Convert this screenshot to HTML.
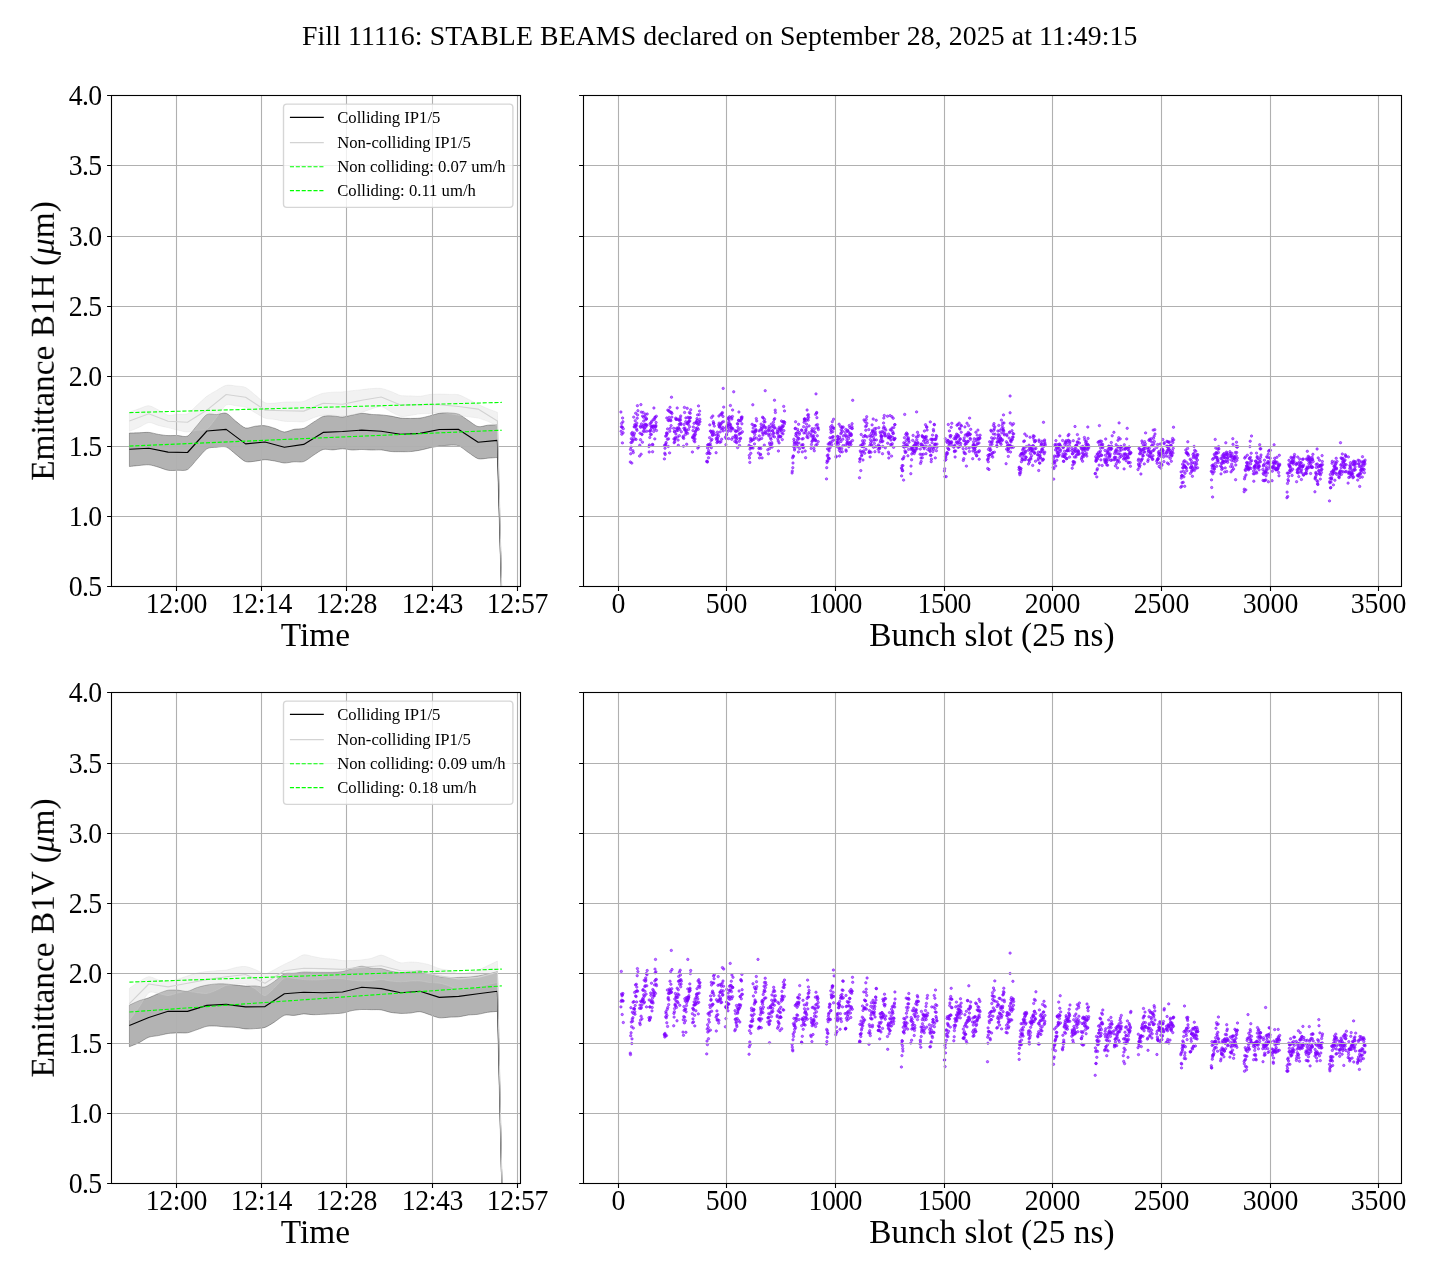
<!DOCTYPE html>
<html lang="en"><head><meta charset="utf-8"><title>Fill 11116 emittance</title>
<style>html,body{margin:0;padding:0;background:#fff}svg{display:block}text{font-family:"Liberation Serif", "DejaVu Serif", serif;fill:#000}</style>
</head><body>
<svg width="1440" height="1280" viewBox="0 0 1440 1280">
<rect width="1440" height="1280" fill="#fff"/>
<g opacity="0.999">
<defs>
<clipPath id="cA1"><rect x="111.5" y="95.5" width="409.0" height="491.0"/></clipPath>
<clipPath id="cA2"><rect x="583.5" y="95.5" width="818.0" height="491.0"/></clipPath>
<clipPath id="cA3"><rect x="111.5" y="692.5" width="409.0" height="491.0"/></clipPath>
<clipPath id="cA4"><rect x="583.5" y="692.5" width="818.0" height="491.0"/></clipPath>
</defs>
<text x="719.7" y="44.5" font-size="27.78" text-anchor="middle" textLength="835.4" lengthAdjust="spacing">Fill 11116: STABLE BEAMS declared on September 28, 2025 at 11:49:15</text>
<g clip-path="url(#cA1)">
<path d="M129.4 433.0C130.7 433.0 136.5 432.9 139.1 432.8C141.7 432.7 146.2 432.2 148.8 432.4C151.4 432.6 155.9 433.9 158.5 434.4C161.0 434.8 165.6 435.5 168.1 435.6C170.7 435.7 175.2 435.4 177.8 435.5C180.4 435.5 184.9 437.5 187.5 436.1C190.1 434.7 194.6 428.2 197.2 425.3C199.8 422.4 204.3 415.9 206.9 414.5C209.5 413.1 214.0 414.7 216.6 414.6C219.1 414.4 223.7 412.3 226.2 413.2C228.8 414.1 233.4 419.3 235.9 421.3C238.5 423.3 243.0 427.4 245.6 428.0C248.2 428.6 252.7 426.5 255.3 426.2C257.9 425.9 262.4 425.4 265.0 425.7C267.6 426.0 272.1 427.5 274.7 428.3C277.3 429.2 281.8 431.9 284.4 432.0C286.9 432.1 291.5 429.8 294.0 429.3C296.6 428.8 301.1 429.2 303.7 428.3C306.3 427.4 310.8 423.8 313.4 422.2C316.0 420.7 320.5 417.3 323.1 416.4C325.7 415.5 330.2 415.8 332.8 415.9C335.4 415.9 339.9 417.1 342.5 417.0C345.1 416.9 349.6 415.6 352.2 415.1C354.7 414.6 359.3 413.4 361.8 413.3C364.4 413.2 368.9 414.2 371.5 414.4C374.1 414.6 378.6 414.7 381.2 414.9C383.8 415.1 388.3 415.7 390.9 416.1C393.5 416.5 398.0 417.8 400.6 418.1C403.2 418.4 407.7 418.4 410.3 418.4C412.8 418.4 417.4 418.4 420.0 418.1C422.5 417.8 427.1 416.5 429.6 415.9C432.2 415.2 436.7 413.7 439.3 413.3C441.9 412.9 446.4 412.8 449.0 412.9C451.6 413.0 456.1 413.2 458.7 414.2C461.3 415.2 465.8 418.9 468.4 420.5C471.0 422.2 475.5 426.0 478.1 426.6C480.6 427.2 485.2 425.5 487.7 425.2C490.3 425.0 496.1 424.8 497.4 424.7L503.4 656.6L497.4 457.5C496.1 457.6 490.3 458.0 487.7 458.2C485.2 458.4 480.6 459.5 478.1 458.7C475.5 457.9 471.0 454.2 468.4 452.5C465.8 450.8 461.3 446.8 458.7 445.8C456.1 444.8 451.6 445.2 449.0 445.2C446.4 445.3 441.9 445.7 439.3 446.1C436.7 446.5 432.2 447.4 429.6 447.9C427.1 448.5 422.5 449.7 420.0 450.2C417.4 450.7 412.8 451.4 410.3 451.6C407.7 451.8 403.2 451.7 400.6 451.7C398.0 451.7 393.5 451.8 390.9 451.5C388.3 451.3 383.8 450.1 381.2 449.9C378.6 449.7 374.1 450.1 371.5 450.0C368.9 450.0 364.4 449.5 361.8 449.5C359.3 449.5 354.7 450.1 352.2 450.0C349.6 449.9 345.1 448.8 342.5 448.8C339.9 448.8 335.4 449.8 332.8 449.9C330.2 450.0 325.7 448.8 323.1 449.5C320.5 450.2 316.0 453.7 313.4 455.3C310.8 457.0 306.3 460.7 303.7 461.6C301.1 462.5 296.6 461.6 294.0 461.8C291.5 462.0 286.9 463.1 284.4 463.0C281.8 462.9 277.3 461.4 274.7 461.0C272.1 460.6 267.6 459.7 265.0 459.7C262.4 459.7 257.9 460.9 255.3 461.2C252.7 461.4 248.2 462.5 245.6 461.6C243.0 460.7 238.5 456.3 235.9 454.4C233.4 452.4 228.8 447.9 226.2 447.0C223.7 446.1 219.1 447.0 216.6 447.3C214.0 447.5 209.5 447.2 206.9 448.8C204.3 450.4 199.8 456.3 197.2 459.1C194.6 461.9 190.1 468.1 187.5 469.6C184.9 471.1 180.4 470.2 177.8 470.3C175.2 470.4 170.7 470.7 168.1 470.3C165.6 469.9 161.0 467.9 158.5 467.2C155.9 466.4 151.4 465.0 148.8 464.8C146.2 464.6 141.7 465.3 139.1 465.5C136.5 465.7 130.7 466.4 129.4 466.5Z" fill="#000" fill-opacity="0.3" stroke="#000" stroke-opacity="0.3" stroke-width="1.0" stroke-linejoin="round"/>
<path d="M129.4 412.3C130.7 411.8 136.5 409.6 139.1 408.8C141.7 407.9 146.2 405.5 148.8 405.7C151.4 405.9 155.9 408.7 158.5 410.0C161.0 411.2 165.6 414.6 168.1 415.2C170.7 415.8 175.2 414.5 177.8 414.3C180.4 414.1 184.9 415.0 187.5 413.8C190.1 412.6 194.6 407.3 197.2 405.0C199.8 402.7 204.3 398.2 206.9 396.3C209.5 394.4 214.0 391.9 216.6 390.4C219.1 388.9 223.7 385.9 226.2 385.3C228.8 384.7 233.4 385.7 235.9 386.0C238.5 386.3 243.0 386.3 245.6 387.5C248.2 388.7 252.7 393.0 255.3 395.1C257.9 397.1 262.4 401.7 265.0 402.8C267.6 403.9 272.1 403.2 274.7 403.1C277.3 403.0 281.8 402.3 284.4 402.1C286.9 401.9 291.5 402.0 294.0 401.9C296.6 401.8 301.1 402.1 303.7 401.4C306.3 400.7 310.8 398.0 313.4 397.0C316.0 395.9 320.5 393.9 323.1 393.3C325.7 392.7 330.2 392.4 332.8 392.2C335.4 392.0 339.9 392.1 342.5 391.9C345.1 391.7 349.6 391.0 352.2 390.7C354.7 390.4 359.3 390.0 361.8 389.7C364.4 389.4 368.9 388.7 371.5 388.6C374.1 388.4 378.6 388.1 381.2 388.5C383.8 388.9 388.3 390.5 390.9 391.5C393.5 392.4 398.0 394.9 400.6 395.5C403.2 396.1 407.7 395.8 410.3 395.9C412.8 396.0 417.4 396.5 420.0 396.3C422.5 396.1 427.1 394.8 429.6 394.5C432.2 394.2 436.7 394.1 439.3 394.1C441.9 394.1 446.4 394.3 449.0 394.4C451.6 394.5 456.1 394.1 458.7 394.8C461.3 395.5 465.8 398.0 468.4 399.3C471.0 400.6 475.5 403.1 478.1 404.3C480.6 405.5 485.2 407.6 487.7 408.7C490.3 409.7 496.1 411.8 497.4 412.3L503.4 656.6L497.4 426.1C496.1 425.5 490.3 422.4 487.7 421.3C485.2 420.3 480.6 418.7 478.1 418.1C475.5 417.5 471.0 417.2 468.4 416.8C465.8 416.4 461.3 415.6 458.7 415.2C456.1 414.8 451.6 414.1 449.0 413.7C446.4 413.3 441.9 412.3 439.3 412.3C436.7 412.3 432.2 413.3 429.6 413.5C427.1 413.7 422.5 413.5 420.0 413.8C417.4 414.1 412.8 415.0 410.3 415.4C407.7 415.7 403.2 416.9 400.6 416.4C398.0 415.9 393.5 413.1 390.9 411.8C388.3 410.5 383.8 406.9 381.2 406.5C378.6 406.1 374.1 408.1 371.5 408.9C368.9 409.7 364.4 411.5 361.8 412.3C359.3 413.1 354.7 414.5 352.2 414.9C349.6 415.4 345.1 415.9 342.5 415.9C339.9 415.9 335.4 415.2 332.8 415.1C330.2 415.0 325.7 414.9 323.1 415.2C320.5 415.5 316.0 416.8 313.4 417.7C310.8 418.6 306.3 421.3 303.7 421.8C301.1 422.3 296.6 421.5 294.0 421.5C291.5 421.4 286.9 421.6 284.4 421.3C281.8 421.0 277.3 419.8 274.7 419.4C272.1 419.0 267.6 419.0 265.0 418.1C262.4 417.2 257.9 414.2 255.3 412.8C252.7 411.3 248.2 408.1 245.6 407.2C243.0 406.3 238.5 406.1 235.9 405.8C233.4 405.5 228.8 403.5 226.2 405.0C223.7 406.5 219.1 414.1 216.6 417.4C214.0 420.6 209.5 427.4 206.9 429.1C204.3 430.8 199.8 429.9 197.2 430.3C194.6 430.7 190.1 432.0 187.5 432.0C184.9 432.0 180.4 430.7 177.8 430.1C175.2 429.6 170.7 428.2 168.1 427.6C165.6 427.0 161.0 426.1 158.5 425.4C155.9 424.7 151.4 422.2 148.8 422.5C146.2 422.8 141.7 426.2 139.1 427.3C136.5 428.5 130.7 430.8 129.4 431.3Z" fill="#d3d3d3" fill-opacity="0.3" stroke="#d3d3d3" stroke-opacity="0.3" stroke-width="1.0" stroke-linejoin="round"/>
</g>
<path d="M176.5 95.5V586.5M261.5 95.5V586.5M346.5 95.5V586.5M432.5 95.5V586.5M517.5 95.5V586.5M111.5 95.5H520.5M111.5 165.5H520.5M111.5 236.5H520.5M111.5 306.5H520.5M111.5 376.5H520.5M111.5 446.5H520.5M111.5 516.5H520.5M111.5 586.5H520.5" stroke="#b0b0b0" stroke-width="1.11" fill="none"/>
<g clip-path="url(#cA1)">
<polyline points="129.4,449.2 148.8,448.3 168.1,452.1 187.5,452.5 206.9,431.0 226.2,429.4 245.6,443.9 265.0,442.0 284.4,447.3 303.7,444.4 323.1,432.4 342.5,431.5 361.8,430.1 381.2,431.3 400.6,434.2 420.0,433.4 439.3,429.5 458.7,429.4 478.1,442.2 497.4,440.4 503.4,656.6" fill="none" stroke="#000" stroke-width="1.15" stroke-linejoin="round"/>
<polyline points="129.4,421.0 148.8,413.8 168.1,421.3 187.5,422.2 206.9,410.1 226.2,394.5 245.6,397.3 265.0,410.1 284.4,410.8 303.7,411.1 323.1,403.3 342.5,404.3 361.8,400.3 381.2,397.0 400.6,405.0 420.0,404.7 439.3,404.7 458.7,406.5 478.1,409.1 497.4,421.0 503.4,656.6" fill="none" stroke="#d3d3d3" stroke-width="1.15" stroke-linejoin="round"/>
<line x1="129.4" y1="412.6" x2="501.8" y2="402.4" stroke="#00ff00" stroke-width="1.11" stroke-dasharray="4.11 1.78"/>
<line x1="129.4" y1="446.1" x2="501.8" y2="430.2" stroke="#00ff00" stroke-width="1.11" stroke-dasharray="4.11 1.78"/>
</g>
<path d="M176.5 586.5v4.4M261.5 586.5v4.4M346.5 586.5v4.4M432.5 586.5v4.4M517.5 586.5v4.4M111.5 95.5h-4.4M111.5 165.5h-4.4M111.5 236.5h-4.4M111.5 306.5h-4.4M111.5 376.5h-4.4M111.5 446.5h-4.4M111.5 516.5h-4.4M111.5 586.5h-4.4" stroke="#000" stroke-width="1.11" fill="none"/>
<rect x="111.5" y="95.5" width="409.0" height="491.0" fill="none" stroke="#000" stroke-width="1.11"/>
<g font-size="27.78" text-anchor="middle">
<text transform="translate(176.5 612.9) scale(1 1.045)" textLength="61.7" lengthAdjust="spacing">12:00</text>
<text transform="translate(261.5 612.9) scale(1 1.045)" textLength="61.7" lengthAdjust="spacing">12:14</text>
<text transform="translate(346.5 612.9) scale(1 1.045)" textLength="61.7" lengthAdjust="spacing">12:28</text>
<text transform="translate(432.5 612.9) scale(1 1.045)" textLength="61.7" lengthAdjust="spacing">12:43</text>
<text transform="translate(517.5 612.9) scale(1 1.045)" textLength="61.7" lengthAdjust="spacing">12:57</text>
</g>
<g font-size="27.78" text-anchor="end">
<text transform="translate(102.2 105.0) scale(1 1.045)" textLength="33.4" lengthAdjust="spacing">4.0</text>
<text transform="translate(102.2 175.0) scale(1 1.045)" textLength="33.4" lengthAdjust="spacing">3.5</text>
<text transform="translate(102.2 246.0) scale(1 1.045)" textLength="33.4" lengthAdjust="spacing">3.0</text>
<text transform="translate(102.2 316.0) scale(1 1.045)" textLength="33.4" lengthAdjust="spacing">2.5</text>
<text transform="translate(102.2 386.0) scale(1 1.045)" textLength="33.4" lengthAdjust="spacing">2.0</text>
<text transform="translate(102.2 456.0) scale(1 1.045)" textLength="33.4" lengthAdjust="spacing">1.5</text>
<text transform="translate(102.2 526.0) scale(1 1.045)" textLength="33.4" lengthAdjust="spacing">1.0</text>
<text transform="translate(102.2 596.0) scale(1 1.045)" textLength="33.4" lengthAdjust="spacing">0.5</text>
</g>
<text x="315.4" y="645.7" font-size="33.33" text-anchor="middle">Time</text>
<text transform="translate(53.8 341.0) rotate(-90)" font-size="33.33" text-anchor="middle">Emittance B1H (<tspan font-style="italic">μ</tspan>m)</text>
<rect x="283.5" y="104.1" width="229.4" height="103.3" rx="3.3" fill="#fff" fill-opacity="0.8" stroke="#ccc" stroke-opacity="0.8" stroke-width="1.39"/>
<line x1="289.9" x2="323.8" y1="117.4" y2="117.4" stroke="#000" stroke-width="1.39"/>
<line x1="289.9" x2="323.8" y1="142.5" y2="142.5" stroke="#d3d3d3" stroke-width="1.25"/>
<line x1="289.9" x2="323.8" y1="166.7" y2="166.7" stroke="#00ff00" stroke-width="1.11" stroke-dasharray="4.11 1.78"/>
<line x1="289.9" x2="323.8" y1="190.6" y2="190.6" stroke="#00ff00" stroke-width="1.11" stroke-dasharray="4.11 1.78"/>
<g font-size="16.67">
<text x="337.2" y="122.6">Colliding IP1/5</text>
<text x="337.2" y="147.5">Non-colliding IP1/5</text>
<text x="337.2" y="172.0">Non colliding: 0.07 um/h</text>
<text x="337.2" y="196.2">Colliding: 0.11 um/h</text>
</g>
<g clip-path="url(#cA2)" fill="#7f00ff" fill-opacity="0.55" stroke="#7f00ff" stroke-opacity="0.55" stroke-width="1.0">
<circle cx="620.9" cy="412.0" r="1.2"/><circle cx="621.1" cy="431.3" r="1.2"/><circle cx="621.3" cy="426.8" r="1.2"/><circle cx="621.6" cy="423.5" r="1.2"/><circle cx="621.8" cy="434.2" r="1.2"/><circle cx="622.0" cy="427.1" r="1.2"/><circle cx="622.2" cy="427.1" r="1.2"/><circle cx="622.4" cy="442.9" r="1.2"/><circle cx="622.6" cy="418.0" r="1.2"/><circle cx="622.9" cy="421.8" r="1.2"/><circle cx="623.1" cy="432.8" r="1.2"/><circle cx="623.3" cy="428.7" r="1.2"/><circle cx="630.3" cy="462.0" r="1.2"/><circle cx="630.5" cy="449.4" r="1.2"/><circle cx="630.7" cy="453.8" r="1.2"/><circle cx="630.9" cy="442.6" r="1.2"/><circle cx="631.1" cy="447.1" r="1.2"/><circle cx="631.3" cy="438.8" r="1.2"/><circle cx="631.6" cy="433.5" r="1.2"/><circle cx="631.8" cy="463.1" r="1.2"/><circle cx="632.0" cy="442.2" r="1.2"/><circle cx="632.2" cy="434.9" r="1.2"/><circle cx="632.4" cy="432.5" r="1.2"/><circle cx="632.6" cy="439.8" r="1.2"/><circle cx="632.9" cy="450.8" r="1.2"/><circle cx="633.1" cy="440.4" r="1.2"/><circle cx="633.3" cy="452.6" r="1.2"/><circle cx="633.5" cy="436.6" r="1.2"/><circle cx="633.7" cy="417.1" r="1.2"/><circle cx="633.9" cy="434.9" r="1.2"/><circle cx="634.2" cy="426.9" r="1.2"/><circle cx="634.4" cy="433.2" r="1.2"/><circle cx="634.6" cy="426.7" r="1.2"/><circle cx="634.8" cy="424.6" r="1.2"/><circle cx="635.0" cy="438.9" r="1.2"/><circle cx="635.2" cy="420.8" r="1.2"/><circle cx="635.5" cy="425.4" r="1.2"/><circle cx="635.7" cy="413.2" r="1.2"/><circle cx="635.9" cy="426.4" r="1.2"/><circle cx="636.1" cy="439.4" r="1.2"/><circle cx="636.3" cy="425.2" r="1.2"/><circle cx="636.6" cy="429.0" r="1.2"/><circle cx="636.8" cy="423.1" r="1.2"/><circle cx="637.0" cy="430.3" r="1.2"/><circle cx="637.2" cy="418.2" r="1.2"/><circle cx="637.4" cy="405.7" r="1.2"/><circle cx="637.6" cy="414.9" r="1.2"/><circle cx="637.9" cy="410.7" r="1.2"/><circle cx="639.6" cy="456.1" r="1.2"/><circle cx="639.8" cy="445.2" r="1.2"/><circle cx="640.0" cy="433.2" r="1.2"/><circle cx="640.2" cy="426.2" r="1.2"/><circle cx="640.5" cy="439.7" r="1.2"/><circle cx="640.7" cy="427.3" r="1.2"/><circle cx="640.9" cy="404.6" r="1.2"/><circle cx="641.1" cy="454.2" r="1.2"/><circle cx="641.3" cy="412.1" r="1.2"/><circle cx="641.5" cy="423.9" r="1.2"/><circle cx="641.8" cy="434.1" r="1.2"/><circle cx="642.0" cy="434.6" r="1.2"/><circle cx="642.2" cy="426.4" r="1.2"/><circle cx="642.4" cy="442.2" r="1.2"/><circle cx="642.6" cy="416.1" r="1.2"/><circle cx="642.9" cy="426.8" r="1.2"/><circle cx="643.1" cy="412.4" r="1.2"/><circle cx="643.3" cy="431.2" r="1.2"/><circle cx="643.5" cy="417.2" r="1.2"/><circle cx="643.7" cy="421.1" r="1.2"/><circle cx="643.9" cy="425.4" r="1.2"/><circle cx="644.2" cy="428.9" r="1.2"/><circle cx="644.4" cy="428.1" r="1.2"/><circle cx="644.6" cy="431.6" r="1.2"/><circle cx="644.8" cy="424.3" r="1.2"/><circle cx="645.0" cy="416.2" r="1.2"/><circle cx="645.2" cy="414.1" r="1.2"/><circle cx="645.5" cy="419.6" r="1.2"/><circle cx="645.7" cy="427.1" r="1.2"/><circle cx="645.9" cy="424.4" r="1.2"/><circle cx="646.1" cy="425.3" r="1.2"/><circle cx="646.3" cy="418.4" r="1.2"/><circle cx="646.5" cy="419.0" r="1.2"/><circle cx="646.8" cy="431.2" r="1.2"/><circle cx="647.0" cy="425.2" r="1.2"/><circle cx="647.2" cy="414.0" r="1.2"/><circle cx="648.9" cy="446.6" r="1.2"/><circle cx="649.2" cy="452.0" r="1.2"/><circle cx="649.4" cy="445.0" r="1.2"/><circle cx="649.6" cy="431.1" r="1.2"/><circle cx="649.8" cy="437.5" r="1.2"/><circle cx="650.0" cy="423.8" r="1.2"/><circle cx="650.2" cy="431.2" r="1.2"/><circle cx="650.5" cy="434.4" r="1.2"/><circle cx="650.7" cy="430.0" r="1.2"/><circle cx="650.9" cy="426.1" r="1.2"/><circle cx="651.1" cy="422.7" r="1.2"/><circle cx="651.3" cy="434.4" r="1.2"/><circle cx="651.5" cy="428.2" r="1.2"/><circle cx="651.8" cy="421.3" r="1.2"/><circle cx="652.0" cy="426.3" r="1.2"/><circle cx="652.2" cy="426.9" r="1.2"/><circle cx="652.4" cy="444.4" r="1.2"/><circle cx="652.6" cy="451.8" r="1.2"/><circle cx="652.8" cy="444.8" r="1.2"/><circle cx="653.1" cy="426.0" r="1.2"/><circle cx="653.3" cy="419.6" r="1.2"/><circle cx="653.5" cy="427.0" r="1.2"/><circle cx="653.7" cy="431.4" r="1.2"/><circle cx="653.9" cy="408.0" r="1.2"/><circle cx="654.2" cy="426.0" r="1.2"/><circle cx="654.4" cy="419.5" r="1.2"/><circle cx="654.6" cy="428.9" r="1.2"/><circle cx="654.8" cy="438.9" r="1.2"/><circle cx="655.0" cy="417.2" r="1.2"/><circle cx="655.2" cy="417.6" r="1.2"/><circle cx="655.5" cy="426.5" r="1.2"/><circle cx="655.7" cy="426.8" r="1.2"/><circle cx="655.9" cy="425.4" r="1.2"/><circle cx="656.1" cy="422.5" r="1.2"/><circle cx="656.3" cy="416.2" r="1.2"/><circle cx="656.5" cy="430.5" r="1.2"/><circle cx="664.4" cy="458.9" r="1.2"/><circle cx="664.6" cy="445.3" r="1.2"/><circle cx="664.8" cy="453.2" r="1.2"/><circle cx="665.0" cy="448.2" r="1.2"/><circle cx="665.2" cy="454.5" r="1.2"/><circle cx="665.4" cy="445.2" r="1.2"/><circle cx="665.7" cy="436.3" r="1.2"/><circle cx="665.9" cy="443.9" r="1.2"/><circle cx="666.1" cy="442.5" r="1.2"/><circle cx="666.3" cy="435.6" r="1.2"/><circle cx="666.5" cy="433.0" r="1.2"/><circle cx="666.8" cy="418.0" r="1.2"/><circle cx="667.0" cy="434.1" r="1.2"/><circle cx="667.2" cy="433.1" r="1.2"/><circle cx="667.4" cy="439.3" r="1.2"/><circle cx="667.6" cy="428.9" r="1.2"/><circle cx="667.8" cy="410.1" r="1.2"/><circle cx="668.1" cy="420.2" r="1.2"/><circle cx="668.3" cy="446.5" r="1.2"/><circle cx="668.5" cy="438.8" r="1.2"/><circle cx="668.7" cy="410.6" r="1.2"/><circle cx="668.9" cy="420.6" r="1.2"/><circle cx="669.1" cy="417.4" r="1.2"/><circle cx="669.4" cy="411.4" r="1.2"/><circle cx="669.6" cy="452.9" r="1.2"/><circle cx="669.8" cy="431.2" r="1.2"/><circle cx="670.0" cy="407.3" r="1.2"/><circle cx="670.2" cy="428.3" r="1.2"/><circle cx="670.4" cy="419.7" r="1.2"/><circle cx="670.7" cy="412.5" r="1.2"/><circle cx="670.9" cy="420.7" r="1.2"/><circle cx="671.1" cy="425.6" r="1.2"/><circle cx="671.3" cy="412.3" r="1.2"/><circle cx="671.5" cy="397.2" r="1.2"/><circle cx="671.8" cy="417.1" r="1.2"/><circle cx="672.0" cy="413.4" r="1.2"/><circle cx="673.7" cy="428.3" r="1.2"/><circle cx="673.9" cy="439.0" r="1.2"/><circle cx="674.1" cy="442.7" r="1.2"/><circle cx="674.4" cy="431.5" r="1.2"/><circle cx="674.6" cy="431.8" r="1.2"/><circle cx="674.8" cy="441.8" r="1.2"/><circle cx="675.0" cy="439.6" r="1.2"/><circle cx="675.2" cy="437.7" r="1.2"/><circle cx="675.4" cy="438.5" r="1.2"/><circle cx="675.7" cy="418.1" r="1.2"/><circle cx="675.9" cy="434.0" r="1.2"/><circle cx="676.1" cy="419.3" r="1.2"/><circle cx="676.3" cy="419.3" r="1.2"/><circle cx="676.5" cy="430.9" r="1.2"/><circle cx="676.7" cy="428.2" r="1.2"/><circle cx="677.0" cy="429.1" r="1.2"/><circle cx="677.2" cy="408.0" r="1.2"/><circle cx="677.4" cy="437.0" r="1.2"/><circle cx="677.6" cy="419.3" r="1.2"/><circle cx="677.8" cy="430.4" r="1.2"/><circle cx="678.1" cy="440.1" r="1.2"/><circle cx="678.3" cy="445.3" r="1.2"/><circle cx="678.5" cy="427.5" r="1.2"/><circle cx="678.7" cy="428.4" r="1.2"/><circle cx="678.9" cy="420.0" r="1.2"/><circle cx="679.1" cy="424.4" r="1.2"/><circle cx="679.4" cy="435.7" r="1.2"/><circle cx="679.6" cy="420.4" r="1.2"/><circle cx="679.8" cy="429.4" r="1.2"/><circle cx="680.0" cy="423.8" r="1.2"/><circle cx="680.2" cy="417.9" r="1.2"/><circle cx="680.4" cy="419.9" r="1.2"/><circle cx="680.7" cy="416.0" r="1.2"/><circle cx="680.9" cy="423.4" r="1.2"/><circle cx="681.1" cy="424.5" r="1.2"/><circle cx="681.3" cy="431.8" r="1.2"/><circle cx="683.0" cy="437.4" r="1.2"/><circle cx="683.3" cy="436.2" r="1.2"/><circle cx="683.5" cy="446.2" r="1.2"/><circle cx="683.7" cy="438.4" r="1.2"/><circle cx="683.9" cy="428.2" r="1.2"/><circle cx="684.1" cy="424.4" r="1.2"/><circle cx="684.4" cy="407.4" r="1.2"/><circle cx="684.6" cy="412.5" r="1.2"/><circle cx="684.8" cy="430.0" r="1.2"/><circle cx="685.0" cy="428.1" r="1.2"/><circle cx="685.2" cy="430.0" r="1.2"/><circle cx="685.4" cy="434.6" r="1.2"/><circle cx="685.7" cy="421.7" r="1.2"/><circle cx="685.9" cy="417.9" r="1.2"/><circle cx="686.1" cy="432.0" r="1.2"/><circle cx="686.3" cy="432.7" r="1.2"/><circle cx="686.5" cy="430.2" r="1.2"/><circle cx="686.7" cy="444.2" r="1.2"/><circle cx="687.0" cy="423.3" r="1.2"/><circle cx="687.2" cy="408.3" r="1.2"/><circle cx="687.4" cy="423.6" r="1.2"/><circle cx="687.6" cy="433.4" r="1.2"/><circle cx="687.8" cy="422.7" r="1.2"/><circle cx="688.0" cy="417.3" r="1.2"/><circle cx="688.3" cy="424.3" r="1.2"/><circle cx="688.5" cy="429.4" r="1.2"/><circle cx="688.7" cy="421.3" r="1.2"/><circle cx="688.9" cy="421.8" r="1.2"/><circle cx="689.1" cy="418.4" r="1.2"/><circle cx="689.4" cy="412.5" r="1.2"/><circle cx="689.6" cy="426.7" r="1.2"/><circle cx="689.8" cy="421.0" r="1.2"/><circle cx="690.0" cy="417.7" r="1.2"/><circle cx="690.2" cy="413.3" r="1.2"/><circle cx="690.4" cy="417.7" r="1.2"/><circle cx="690.7" cy="409.8" r="1.2"/><circle cx="692.4" cy="452.0" r="1.2"/><circle cx="692.6" cy="437.1" r="1.2"/><circle cx="692.8" cy="437.9" r="1.2"/><circle cx="693.0" cy="430.6" r="1.2"/><circle cx="693.3" cy="427.0" r="1.2"/><circle cx="693.5" cy="435.7" r="1.2"/><circle cx="693.7" cy="437.7" r="1.2"/><circle cx="693.9" cy="440.6" r="1.2"/><circle cx="694.1" cy="423.3" r="1.2"/><circle cx="694.3" cy="434.4" r="1.2"/><circle cx="694.6" cy="436.0" r="1.2"/><circle cx="694.8" cy="441.8" r="1.2"/><circle cx="695.0" cy="439.0" r="1.2"/><circle cx="695.2" cy="431.9" r="1.2"/><circle cx="695.4" cy="434.3" r="1.2"/><circle cx="695.7" cy="431.2" r="1.2"/><circle cx="695.9" cy="428.5" r="1.2"/><circle cx="696.1" cy="422.5" r="1.2"/><circle cx="696.3" cy="421.7" r="1.2"/><circle cx="696.5" cy="423.2" r="1.2"/><circle cx="696.7" cy="429.6" r="1.2"/><circle cx="697.0" cy="418.6" r="1.2"/><circle cx="697.2" cy="420.3" r="1.2"/><circle cx="697.4" cy="427.8" r="1.2"/><circle cx="697.6" cy="414.9" r="1.2"/><circle cx="697.8" cy="448.1" r="1.2"/><circle cx="698.0" cy="424.3" r="1.2"/><circle cx="698.3" cy="429.3" r="1.2"/><circle cx="698.5" cy="405.9" r="1.2"/><circle cx="698.7" cy="446.8" r="1.2"/><circle cx="698.9" cy="421.7" r="1.2"/><circle cx="699.1" cy="424.3" r="1.2"/><circle cx="699.3" cy="414.6" r="1.2"/><circle cx="699.6" cy="411.1" r="1.2"/><circle cx="699.8" cy="419.2" r="1.2"/><circle cx="700.0" cy="421.8" r="1.2"/><circle cx="706.7" cy="461.4" r="1.2"/><circle cx="707.0" cy="453.6" r="1.2"/><circle cx="707.2" cy="461.3" r="1.2"/><circle cx="707.4" cy="462.1" r="1.2"/><circle cx="707.6" cy="448.0" r="1.2"/><circle cx="707.8" cy="444.9" r="1.2"/><circle cx="708.0" cy="445.0" r="1.2"/><circle cx="708.3" cy="452.4" r="1.2"/><circle cx="708.5" cy="457.8" r="1.2"/><circle cx="708.7" cy="450.6" r="1.2"/><circle cx="708.9" cy="453.2" r="1.2"/><circle cx="709.1" cy="444.4" r="1.2"/><circle cx="709.3" cy="446.0" r="1.2"/><circle cx="709.6" cy="437.7" r="1.2"/><circle cx="709.8" cy="424.9" r="1.2"/><circle cx="710.0" cy="453.5" r="1.2"/><circle cx="710.2" cy="443.7" r="1.2"/><circle cx="710.4" cy="431.1" r="1.2"/><circle cx="710.6" cy="445.8" r="1.2"/><circle cx="710.9" cy="431.2" r="1.2"/><circle cx="711.1" cy="440.6" r="1.2"/><circle cx="711.3" cy="447.7" r="1.2"/><circle cx="711.5" cy="417.6" r="1.2"/><circle cx="711.7" cy="433.0" r="1.2"/><circle cx="711.9" cy="439.4" r="1.2"/><circle cx="712.2" cy="432.3" r="1.2"/><circle cx="712.4" cy="435.3" r="1.2"/><circle cx="712.6" cy="434.9" r="1.2"/><circle cx="712.8" cy="416.0" r="1.2"/><circle cx="713.0" cy="431.1" r="1.2"/><circle cx="713.3" cy="421.7" r="1.2"/><circle cx="713.5" cy="423.4" r="1.2"/><circle cx="713.7" cy="423.5" r="1.2"/><circle cx="713.9" cy="434.7" r="1.2"/><circle cx="714.1" cy="432.8" r="1.2"/><circle cx="714.3" cy="426.1" r="1.2"/><circle cx="716.1" cy="452.7" r="1.2"/><circle cx="716.3" cy="438.4" r="1.2"/><circle cx="716.5" cy="435.0" r="1.2"/><circle cx="716.7" cy="439.8" r="1.2"/><circle cx="716.9" cy="442.6" r="1.2"/><circle cx="717.2" cy="437.7" r="1.2"/><circle cx="717.4" cy="432.1" r="1.2"/><circle cx="717.6" cy="438.7" r="1.2"/><circle cx="717.8" cy="441.9" r="1.2"/><circle cx="718.0" cy="434.4" r="1.2"/><circle cx="718.2" cy="441.1" r="1.2"/><circle cx="718.5" cy="436.2" r="1.2"/><circle cx="718.7" cy="425.0" r="1.2"/><circle cx="718.9" cy="416.0" r="1.2"/><circle cx="719.1" cy="423.1" r="1.2"/><circle cx="719.3" cy="427.0" r="1.2"/><circle cx="719.6" cy="426.8" r="1.2"/><circle cx="719.8" cy="442.3" r="1.2"/><circle cx="720.0" cy="425.8" r="1.2"/><circle cx="720.2" cy="431.9" r="1.2"/><circle cx="720.4" cy="424.3" r="1.2"/><circle cx="720.6" cy="414.5" r="1.2"/><circle cx="720.9" cy="441.8" r="1.2"/><circle cx="721.1" cy="423.7" r="1.2"/><circle cx="721.3" cy="428.8" r="1.2"/><circle cx="721.5" cy="414.6" r="1.2"/><circle cx="721.7" cy="439.2" r="1.2"/><circle cx="721.9" cy="413.3" r="1.2"/><circle cx="722.2" cy="422.2" r="1.2"/><circle cx="722.4" cy="412.6" r="1.2"/><circle cx="722.6" cy="429.1" r="1.2"/><circle cx="722.8" cy="427.3" r="1.2"/><circle cx="723.0" cy="416.4" r="1.2"/><circle cx="723.2" cy="430.9" r="1.2"/><circle cx="723.5" cy="421.6" r="1.2"/><circle cx="723.7" cy="407.1" r="1.2"/><circle cx="725.4" cy="437.2" r="1.2"/><circle cx="725.6" cy="428.0" r="1.2"/><circle cx="725.9" cy="444.7" r="1.2"/><circle cx="726.1" cy="430.2" r="1.2"/><circle cx="726.3" cy="438.7" r="1.2"/><circle cx="726.5" cy="435.1" r="1.2"/><circle cx="726.7" cy="434.0" r="1.2"/><circle cx="726.9" cy="426.5" r="1.2"/><circle cx="727.2" cy="425.3" r="1.2"/><circle cx="727.4" cy="427.4" r="1.2"/><circle cx="727.6" cy="425.4" r="1.2"/><circle cx="727.8" cy="423.8" r="1.2"/><circle cx="728.0" cy="418.8" r="1.2"/><circle cx="728.2" cy="431.2" r="1.2"/><circle cx="728.5" cy="417.8" r="1.2"/><circle cx="728.7" cy="438.6" r="1.2"/><circle cx="728.9" cy="421.9" r="1.2"/><circle cx="729.1" cy="419.9" r="1.2"/><circle cx="729.3" cy="428.9" r="1.2"/><circle cx="729.5" cy="416.8" r="1.2"/><circle cx="729.8" cy="424.4" r="1.2"/><circle cx="730.0" cy="426.5" r="1.2"/><circle cx="730.2" cy="424.1" r="1.2"/><circle cx="730.4" cy="405.5" r="1.2"/><circle cx="730.6" cy="425.6" r="1.2"/><circle cx="730.9" cy="431.0" r="1.2"/><circle cx="731.1" cy="417.5" r="1.2"/><circle cx="731.3" cy="427.6" r="1.2"/><circle cx="731.5" cy="428.4" r="1.2"/><circle cx="731.7" cy="439.3" r="1.2"/><circle cx="731.9" cy="419.0" r="1.2"/><circle cx="732.2" cy="428.1" r="1.2"/><circle cx="732.4" cy="416.5" r="1.2"/><circle cx="732.6" cy="410.0" r="1.2"/><circle cx="732.8" cy="437.4" r="1.2"/><circle cx="733.0" cy="429.0" r="1.2"/><circle cx="734.8" cy="441.4" r="1.2"/><circle cx="735.0" cy="436.4" r="1.2"/><circle cx="735.2" cy="430.7" r="1.2"/><circle cx="735.4" cy="435.3" r="1.2"/><circle cx="735.6" cy="438.0" r="1.2"/><circle cx="735.8" cy="431.5" r="1.2"/><circle cx="736.1" cy="441.9" r="1.2"/><circle cx="736.3" cy="439.6" r="1.2"/><circle cx="736.5" cy="436.2" r="1.2"/><circle cx="736.7" cy="442.8" r="1.2"/><circle cx="736.9" cy="431.1" r="1.2"/><circle cx="737.2" cy="438.2" r="1.2"/><circle cx="737.4" cy="423.6" r="1.2"/><circle cx="737.6" cy="447.6" r="1.2"/><circle cx="737.8" cy="424.0" r="1.2"/><circle cx="738.0" cy="427.4" r="1.2"/><circle cx="738.2" cy="430.2" r="1.2"/><circle cx="738.5" cy="420.3" r="1.2"/><circle cx="738.7" cy="420.5" r="1.2"/><circle cx="738.9" cy="412.0" r="1.2"/><circle cx="739.1" cy="434.3" r="1.2"/><circle cx="739.3" cy="441.2" r="1.2"/><circle cx="739.5" cy="445.4" r="1.2"/><circle cx="739.8" cy="433.3" r="1.2"/><circle cx="740.0" cy="421.1" r="1.2"/><circle cx="740.2" cy="438.9" r="1.2"/><circle cx="740.4" cy="428.6" r="1.2"/><circle cx="740.6" cy="438.1" r="1.2"/><circle cx="740.8" cy="420.4" r="1.2"/><circle cx="741.1" cy="433.1" r="1.2"/><circle cx="741.3" cy="417.3" r="1.2"/><circle cx="741.5" cy="418.4" r="1.2"/><circle cx="741.7" cy="418.8" r="1.2"/><circle cx="741.9" cy="423.8" r="1.2"/><circle cx="742.1" cy="417.0" r="1.2"/><circle cx="742.4" cy="431.8" r="1.2"/><circle cx="749.1" cy="445.3" r="1.2"/><circle cx="749.3" cy="455.4" r="1.2"/><circle cx="749.5" cy="458.0" r="1.2"/><circle cx="749.8" cy="462.4" r="1.2"/><circle cx="750.0" cy="449.1" r="1.2"/><circle cx="750.2" cy="446.7" r="1.2"/><circle cx="750.4" cy="441.5" r="1.2"/><circle cx="750.6" cy="438.5" r="1.2"/><circle cx="750.8" cy="453.3" r="1.2"/><circle cx="751.1" cy="439.5" r="1.2"/><circle cx="751.3" cy="447.6" r="1.2"/><circle cx="751.5" cy="447.4" r="1.2"/><circle cx="751.7" cy="446.7" r="1.2"/><circle cx="751.9" cy="440.5" r="1.2"/><circle cx="752.1" cy="424.3" r="1.2"/><circle cx="752.4" cy="431.6" r="1.2"/><circle cx="752.6" cy="439.7" r="1.2"/><circle cx="752.8" cy="404.8" r="1.2"/><circle cx="753.0" cy="448.1" r="1.2"/><circle cx="753.2" cy="428.1" r="1.2"/><circle cx="753.4" cy="432.0" r="1.2"/><circle cx="753.7" cy="425.4" r="1.2"/><circle cx="753.9" cy="432.1" r="1.2"/><circle cx="754.1" cy="439.2" r="1.2"/><circle cx="754.3" cy="437.4" r="1.2"/><circle cx="754.5" cy="443.9" r="1.2"/><circle cx="754.8" cy="434.4" r="1.2"/><circle cx="755.0" cy="425.5" r="1.2"/><circle cx="755.2" cy="426.1" r="1.2"/><circle cx="755.4" cy="431.5" r="1.2"/><circle cx="755.6" cy="430.3" r="1.2"/><circle cx="755.8" cy="431.2" r="1.2"/><circle cx="756.1" cy="429.8" r="1.2"/><circle cx="756.3" cy="418.6" r="1.2"/><circle cx="756.5" cy="438.1" r="1.2"/><circle cx="756.7" cy="420.9" r="1.2"/><circle cx="758.4" cy="453.0" r="1.2"/><circle cx="758.7" cy="440.0" r="1.2"/><circle cx="758.9" cy="448.5" r="1.2"/><circle cx="759.1" cy="430.9" r="1.2"/><circle cx="759.3" cy="435.9" r="1.2"/><circle cx="759.5" cy="457.9" r="1.2"/><circle cx="759.7" cy="447.5" r="1.2"/><circle cx="760.0" cy="439.1" r="1.2"/><circle cx="760.2" cy="454.9" r="1.2"/><circle cx="760.4" cy="429.8" r="1.2"/><circle cx="760.6" cy="454.3" r="1.2"/><circle cx="760.8" cy="448.6" r="1.2"/><circle cx="761.1" cy="424.1" r="1.2"/><circle cx="761.3" cy="426.7" r="1.2"/><circle cx="761.5" cy="428.5" r="1.2"/><circle cx="761.7" cy="438.4" r="1.2"/><circle cx="761.9" cy="429.9" r="1.2"/><circle cx="762.1" cy="457.9" r="1.2"/><circle cx="762.4" cy="432.7" r="1.2"/><circle cx="762.6" cy="417.2" r="1.2"/><circle cx="762.8" cy="427.6" r="1.2"/><circle cx="763.0" cy="435.0" r="1.2"/><circle cx="763.2" cy="417.9" r="1.2"/><circle cx="763.4" cy="425.0" r="1.2"/><circle cx="763.7" cy="433.0" r="1.2"/><circle cx="763.9" cy="421.6" r="1.2"/><circle cx="764.1" cy="426.1" r="1.2"/><circle cx="764.3" cy="445.1" r="1.2"/><circle cx="764.5" cy="419.4" r="1.2"/><circle cx="764.7" cy="427.3" r="1.2"/><circle cx="765.0" cy="421.9" r="1.2"/><circle cx="765.2" cy="390.7" r="1.2"/><circle cx="765.4" cy="432.7" r="1.2"/><circle cx="765.6" cy="430.9" r="1.2"/><circle cx="765.8" cy="433.5" r="1.2"/><circle cx="766.1" cy="427.8" r="1.2"/><circle cx="767.8" cy="449.8" r="1.2"/><circle cx="768.0" cy="430.8" r="1.2"/><circle cx="768.2" cy="434.0" r="1.2"/><circle cx="768.4" cy="453.8" r="1.2"/><circle cx="768.7" cy="429.7" r="1.2"/><circle cx="768.9" cy="435.8" r="1.2"/><circle cx="769.1" cy="426.3" r="1.2"/><circle cx="769.3" cy="428.3" r="1.2"/><circle cx="769.5" cy="443.0" r="1.2"/><circle cx="769.7" cy="448.6" r="1.2"/><circle cx="770.0" cy="444.6" r="1.2"/><circle cx="770.2" cy="431.0" r="1.2"/><circle cx="770.4" cy="434.4" r="1.2"/><circle cx="770.6" cy="437.9" r="1.2"/><circle cx="770.8" cy="446.2" r="1.2"/><circle cx="771.0" cy="439.3" r="1.2"/><circle cx="771.3" cy="424.1" r="1.2"/><circle cx="771.5" cy="427.1" r="1.2"/><circle cx="771.7" cy="442.6" r="1.2"/><circle cx="771.9" cy="444.0" r="1.2"/><circle cx="772.1" cy="447.1" r="1.2"/><circle cx="772.4" cy="431.0" r="1.2"/><circle cx="772.6" cy="430.5" r="1.2"/><circle cx="772.8" cy="426.3" r="1.2"/><circle cx="773.0" cy="436.1" r="1.2"/><circle cx="773.2" cy="433.7" r="1.2"/><circle cx="773.4" cy="422.2" r="1.2"/><circle cx="773.7" cy="425.1" r="1.2"/><circle cx="773.9" cy="433.0" r="1.2"/><circle cx="774.1" cy="419.5" r="1.2"/><circle cx="774.3" cy="428.0" r="1.2"/><circle cx="774.5" cy="436.9" r="1.2"/><circle cx="774.7" cy="418.6" r="1.2"/><circle cx="775.0" cy="427.8" r="1.2"/><circle cx="775.2" cy="410.1" r="1.2"/><circle cx="775.4" cy="412.5" r="1.2"/><circle cx="777.1" cy="433.2" r="1.2"/><circle cx="777.3" cy="431.4" r="1.2"/><circle cx="777.6" cy="429.4" r="1.2"/><circle cx="777.8" cy="438.7" r="1.2"/><circle cx="778.0" cy="432.8" r="1.2"/><circle cx="778.2" cy="441.0" r="1.2"/><circle cx="778.4" cy="451.0" r="1.2"/><circle cx="778.7" cy="436.5" r="1.2"/><circle cx="778.9" cy="435.7" r="1.2"/><circle cx="779.1" cy="442.9" r="1.2"/><circle cx="779.3" cy="427.2" r="1.2"/><circle cx="779.5" cy="430.9" r="1.2"/><circle cx="779.7" cy="429.0" r="1.2"/><circle cx="780.0" cy="436.8" r="1.2"/><circle cx="780.2" cy="428.7" r="1.2"/><circle cx="780.4" cy="436.5" r="1.2"/><circle cx="780.6" cy="429.4" r="1.2"/><circle cx="780.8" cy="436.6" r="1.2"/><circle cx="781.0" cy="427.8" r="1.2"/><circle cx="781.3" cy="430.6" r="1.2"/><circle cx="781.5" cy="421.0" r="1.2"/><circle cx="781.7" cy="429.0" r="1.2"/><circle cx="781.9" cy="432.9" r="1.2"/><circle cx="782.1" cy="425.8" r="1.2"/><circle cx="782.3" cy="439.6" r="1.2"/><circle cx="782.6" cy="426.9" r="1.2"/><circle cx="782.8" cy="421.9" r="1.2"/><circle cx="783.0" cy="433.9" r="1.2"/><circle cx="783.2" cy="426.3" r="1.2"/><circle cx="783.4" cy="421.9" r="1.2"/><circle cx="783.7" cy="406.4" r="1.2"/><circle cx="783.9" cy="430.6" r="1.2"/><circle cx="784.1" cy="421.8" r="1.2"/><circle cx="784.3" cy="424.1" r="1.2"/><circle cx="784.5" cy="410.9" r="1.2"/><circle cx="784.7" cy="422.4" r="1.2"/><circle cx="792.1" cy="473.0" r="1.2"/><circle cx="792.3" cy="471.1" r="1.2"/><circle cx="792.6" cy="457.8" r="1.2"/><circle cx="792.8" cy="467.7" r="1.2"/><circle cx="793.0" cy="463.0" r="1.2"/><circle cx="793.2" cy="455.9" r="1.2"/><circle cx="793.4" cy="456.4" r="1.2"/><circle cx="793.6" cy="446.7" r="1.2"/><circle cx="793.9" cy="439.2" r="1.2"/><circle cx="794.1" cy="441.5" r="1.2"/><circle cx="794.3" cy="444.1" r="1.2"/><circle cx="794.5" cy="450.0" r="1.2"/><circle cx="794.7" cy="448.5" r="1.2"/><circle cx="794.9" cy="443.0" r="1.2"/><circle cx="795.2" cy="428.7" r="1.2"/><circle cx="795.4" cy="428.3" r="1.2"/><circle cx="795.6" cy="421.8" r="1.2"/><circle cx="795.8" cy="435.4" r="1.2"/><circle cx="796.0" cy="433.5" r="1.2"/><circle cx="796.3" cy="445.7" r="1.2"/><circle cx="796.5" cy="442.3" r="1.2"/><circle cx="796.7" cy="433.3" r="1.2"/><circle cx="796.9" cy="436.6" r="1.2"/><circle cx="797.1" cy="443.5" r="1.2"/><circle cx="797.3" cy="440.0" r="1.2"/><circle cx="797.6" cy="429.4" r="1.2"/><circle cx="797.8" cy="446.7" r="1.2"/><circle cx="798.0" cy="431.4" r="1.2"/><circle cx="798.2" cy="438.0" r="1.2"/><circle cx="798.4" cy="452.0" r="1.2"/><circle cx="798.6" cy="424.3" r="1.2"/><circle cx="798.9" cy="443.1" r="1.2"/><circle cx="799.1" cy="438.7" r="1.2"/><circle cx="799.3" cy="434.3" r="1.2"/><circle cx="799.5" cy="432.7" r="1.2"/><circle cx="799.7" cy="448.7" r="1.2"/><circle cx="801.5" cy="430.0" r="1.2"/><circle cx="801.7" cy="445.0" r="1.2"/><circle cx="801.9" cy="430.4" r="1.2"/><circle cx="802.1" cy="439.0" r="1.2"/><circle cx="802.3" cy="451.9" r="1.2"/><circle cx="802.6" cy="445.8" r="1.2"/><circle cx="802.8" cy="447.4" r="1.2"/><circle cx="803.0" cy="444.6" r="1.2"/><circle cx="803.2" cy="438.6" r="1.2"/><circle cx="803.4" cy="447.6" r="1.2"/><circle cx="803.6" cy="426.7" r="1.2"/><circle cx="803.9" cy="433.0" r="1.2"/><circle cx="804.1" cy="422.3" r="1.2"/><circle cx="804.3" cy="419.0" r="1.2"/><circle cx="804.5" cy="420.4" r="1.2"/><circle cx="804.7" cy="419.2" r="1.2"/><circle cx="804.9" cy="418.9" r="1.2"/><circle cx="805.2" cy="451.0" r="1.2"/><circle cx="805.4" cy="432.7" r="1.2"/><circle cx="805.6" cy="457.7" r="1.2"/><circle cx="805.8" cy="429.6" r="1.2"/><circle cx="806.0" cy="430.7" r="1.2"/><circle cx="806.2" cy="420.5" r="1.2"/><circle cx="806.5" cy="424.1" r="1.2"/><circle cx="806.7" cy="427.3" r="1.2"/><circle cx="806.9" cy="437.0" r="1.2"/><circle cx="807.1" cy="410.0" r="1.2"/><circle cx="807.3" cy="434.9" r="1.2"/><circle cx="807.6" cy="418.5" r="1.2"/><circle cx="807.8" cy="415.2" r="1.2"/><circle cx="808.0" cy="437.7" r="1.2"/><circle cx="808.2" cy="420.1" r="1.2"/><circle cx="808.4" cy="414.6" r="1.2"/><circle cx="808.6" cy="417.3" r="1.2"/><circle cx="808.9" cy="432.8" r="1.2"/><circle cx="809.1" cy="425.9" r="1.2"/><circle cx="810.8" cy="435.8" r="1.2"/><circle cx="811.0" cy="434.0" r="1.2"/><circle cx="811.2" cy="448.4" r="1.2"/><circle cx="811.5" cy="444.5" r="1.2"/><circle cx="811.7" cy="430.9" r="1.2"/><circle cx="811.9" cy="441.6" r="1.2"/><circle cx="812.1" cy="428.7" r="1.2"/><circle cx="812.3" cy="431.2" r="1.2"/><circle cx="812.5" cy="440.7" r="1.2"/><circle cx="812.8" cy="437.6" r="1.2"/><circle cx="813.0" cy="436.3" r="1.2"/><circle cx="813.2" cy="439.0" r="1.2"/><circle cx="813.4" cy="439.5" r="1.2"/><circle cx="813.6" cy="435.7" r="1.2"/><circle cx="813.9" cy="448.4" r="1.2"/><circle cx="814.1" cy="431.5" r="1.2"/><circle cx="814.3" cy="450.8" r="1.2"/><circle cx="814.5" cy="428.6" r="1.2"/><circle cx="814.7" cy="438.5" r="1.2"/><circle cx="814.9" cy="440.3" r="1.2"/><circle cx="815.2" cy="432.6" r="1.2"/><circle cx="815.4" cy="440.0" r="1.2"/><circle cx="815.6" cy="414.4" r="1.2"/><circle cx="815.8" cy="445.2" r="1.2"/><circle cx="816.0" cy="440.8" r="1.2"/><circle cx="816.2" cy="425.2" r="1.2"/><circle cx="816.5" cy="413.1" r="1.2"/><circle cx="816.7" cy="412.5" r="1.2"/><circle cx="816.9" cy="417.7" r="1.2"/><circle cx="817.1" cy="444.2" r="1.2"/><circle cx="817.3" cy="435.8" r="1.2"/><circle cx="817.5" cy="424.6" r="1.2"/><circle cx="817.8" cy="428.1" r="1.2"/><circle cx="818.0" cy="427.7" r="1.2"/><circle cx="818.2" cy="441.6" r="1.2"/><circle cx="818.4" cy="429.6" r="1.2"/><circle cx="826.5" cy="478.9" r="1.2"/><circle cx="826.7" cy="467.7" r="1.2"/><circle cx="826.9" cy="462.6" r="1.2"/><circle cx="827.1" cy="460.9" r="1.2"/><circle cx="827.3" cy="455.8" r="1.2"/><circle cx="827.5" cy="448.9" r="1.2"/><circle cx="827.8" cy="461.1" r="1.2"/><circle cx="828.0" cy="454.9" r="1.2"/><circle cx="828.2" cy="444.1" r="1.2"/><circle cx="828.4" cy="457.8" r="1.2"/><circle cx="828.6" cy="458.5" r="1.2"/><circle cx="828.8" cy="449.3" r="1.2"/><circle cx="829.1" cy="450.9" r="1.2"/><circle cx="829.3" cy="458.6" r="1.2"/><circle cx="829.5" cy="442.9" r="1.2"/><circle cx="829.7" cy="444.2" r="1.2"/><circle cx="829.9" cy="437.7" r="1.2"/><circle cx="830.1" cy="447.7" r="1.2"/><circle cx="830.4" cy="442.4" r="1.2"/><circle cx="830.6" cy="426.9" r="1.2"/><circle cx="830.8" cy="429.2" r="1.2"/><circle cx="831.0" cy="432.6" r="1.2"/><circle cx="831.2" cy="430.8" r="1.2"/><circle cx="831.5" cy="437.9" r="1.2"/><circle cx="831.7" cy="444.7" r="1.2"/><circle cx="831.9" cy="425.6" r="1.2"/><circle cx="832.1" cy="441.4" r="1.2"/><circle cx="832.3" cy="421.7" r="1.2"/><circle cx="832.5" cy="436.9" r="1.2"/><circle cx="832.8" cy="431.7" r="1.2"/><circle cx="833.0" cy="427.9" r="1.2"/><circle cx="833.2" cy="436.6" r="1.2"/><circle cx="833.4" cy="427.7" r="1.2"/><circle cx="833.6" cy="419.2" r="1.2"/><circle cx="833.8" cy="440.0" r="1.2"/><circle cx="834.1" cy="428.6" r="1.2"/><circle cx="835.8" cy="443.8" r="1.2"/><circle cx="836.0" cy="457.1" r="1.2"/><circle cx="836.2" cy="456.2" r="1.2"/><circle cx="836.4" cy="446.4" r="1.2"/><circle cx="836.7" cy="442.7" r="1.2"/><circle cx="836.9" cy="440.3" r="1.2"/><circle cx="837.1" cy="442.8" r="1.2"/><circle cx="837.3" cy="442.4" r="1.2"/><circle cx="837.5" cy="436.5" r="1.2"/><circle cx="837.8" cy="436.5" r="1.2"/><circle cx="838.0" cy="439.3" r="1.2"/><circle cx="838.2" cy="438.9" r="1.2"/><circle cx="838.4" cy="442.2" r="1.2"/><circle cx="838.6" cy="444.3" r="1.2"/><circle cx="838.8" cy="448.0" r="1.2"/><circle cx="839.1" cy="424.2" r="1.2"/><circle cx="839.3" cy="450.4" r="1.2"/><circle cx="839.5" cy="456.0" r="1.2"/><circle cx="839.7" cy="437.2" r="1.2"/><circle cx="839.9" cy="448.4" r="1.2"/><circle cx="840.1" cy="439.3" r="1.2"/><circle cx="840.4" cy="426.4" r="1.2"/><circle cx="840.6" cy="451.9" r="1.2"/><circle cx="840.8" cy="433.7" r="1.2"/><circle cx="841.0" cy="441.5" r="1.2"/><circle cx="841.2" cy="429.7" r="1.2"/><circle cx="841.4" cy="432.6" r="1.2"/><circle cx="841.7" cy="448.6" r="1.2"/><circle cx="841.9" cy="427.0" r="1.2"/><circle cx="842.1" cy="427.9" r="1.2"/><circle cx="842.3" cy="451.8" r="1.2"/><circle cx="842.5" cy="431.2" r="1.2"/><circle cx="842.8" cy="439.2" r="1.2"/><circle cx="843.0" cy="445.6" r="1.2"/><circle cx="843.2" cy="427.0" r="1.2"/><circle cx="843.4" cy="435.8" r="1.2"/><circle cx="845.1" cy="435.2" r="1.2"/><circle cx="845.4" cy="432.4" r="1.2"/><circle cx="845.6" cy="445.0" r="1.2"/><circle cx="845.8" cy="429.4" r="1.2"/><circle cx="846.0" cy="450.0" r="1.2"/><circle cx="846.2" cy="451.2" r="1.2"/><circle cx="846.4" cy="437.3" r="1.2"/><circle cx="846.7" cy="435.8" r="1.2"/><circle cx="846.9" cy="440.2" r="1.2"/><circle cx="847.1" cy="442.5" r="1.2"/><circle cx="847.3" cy="443.5" r="1.2"/><circle cx="847.5" cy="431.1" r="1.2"/><circle cx="847.7" cy="430.3" r="1.2"/><circle cx="848.0" cy="443.9" r="1.2"/><circle cx="848.2" cy="442.3" r="1.2"/><circle cx="848.4" cy="431.8" r="1.2"/><circle cx="848.6" cy="438.6" r="1.2"/><circle cx="848.8" cy="446.7" r="1.2"/><circle cx="849.1" cy="436.3" r="1.2"/><circle cx="849.3" cy="425.5" r="1.2"/><circle cx="849.5" cy="444.2" r="1.2"/><circle cx="849.7" cy="433.9" r="1.2"/><circle cx="849.9" cy="427.5" r="1.2"/><circle cx="850.1" cy="442.8" r="1.2"/><circle cx="850.4" cy="433.2" r="1.2"/><circle cx="850.6" cy="435.2" r="1.2"/><circle cx="850.8" cy="441.9" r="1.2"/><circle cx="851.0" cy="444.5" r="1.2"/><circle cx="851.2" cy="435.5" r="1.2"/><circle cx="851.4" cy="434.3" r="1.2"/><circle cx="851.7" cy="428.4" r="1.2"/><circle cx="851.9" cy="426.6" r="1.2"/><circle cx="852.1" cy="423.7" r="1.2"/><circle cx="852.3" cy="428.5" r="1.2"/><circle cx="852.5" cy="440.5" r="1.2"/><circle cx="852.7" cy="400.3" r="1.2"/><circle cx="859.5" cy="477.8" r="1.2"/><circle cx="859.7" cy="461.6" r="1.2"/><circle cx="859.9" cy="459.0" r="1.2"/><circle cx="860.1" cy="458.7" r="1.2"/><circle cx="860.3" cy="450.9" r="1.2"/><circle cx="860.6" cy="445.5" r="1.2"/><circle cx="860.8" cy="470.6" r="1.2"/><circle cx="861.0" cy="452.4" r="1.2"/><circle cx="861.2" cy="434.5" r="1.2"/><circle cx="861.4" cy="455.9" r="1.2"/><circle cx="861.7" cy="445.8" r="1.2"/><circle cx="861.9" cy="455.0" r="1.2"/><circle cx="862.1" cy="446.5" r="1.2"/><circle cx="862.3" cy="444.4" r="1.2"/><circle cx="862.5" cy="440.8" r="1.2"/><circle cx="862.7" cy="452.0" r="1.2"/><circle cx="863.0" cy="460.0" r="1.2"/><circle cx="863.2" cy="443.0" r="1.2"/><circle cx="863.4" cy="436.7" r="1.2"/><circle cx="863.6" cy="450.9" r="1.2"/><circle cx="863.8" cy="446.9" r="1.2"/><circle cx="864.0" cy="419.9" r="1.2"/><circle cx="864.3" cy="443.6" r="1.2"/><circle cx="864.5" cy="440.6" r="1.2"/><circle cx="864.7" cy="453.2" r="1.2"/><circle cx="864.9" cy="435.6" r="1.2"/><circle cx="865.1" cy="421.6" r="1.2"/><circle cx="865.3" cy="436.0" r="1.2"/><circle cx="865.6" cy="426.6" r="1.2"/><circle cx="865.8" cy="430.2" r="1.2"/><circle cx="866.0" cy="449.3" r="1.2"/><circle cx="866.2" cy="419.4" r="1.2"/><circle cx="866.4" cy="425.7" r="1.2"/><circle cx="866.7" cy="416.7" r="1.2"/><circle cx="866.9" cy="423.2" r="1.2"/><circle cx="867.1" cy="436.9" r="1.2"/><circle cx="868.8" cy="429.6" r="1.2"/><circle cx="869.0" cy="452.5" r="1.2"/><circle cx="869.3" cy="451.0" r="1.2"/><circle cx="869.5" cy="452.1" r="1.2"/><circle cx="869.7" cy="435.7" r="1.2"/><circle cx="869.9" cy="445.3" r="1.2"/><circle cx="870.1" cy="456.9" r="1.2"/><circle cx="870.3" cy="439.6" r="1.2"/><circle cx="870.6" cy="442.7" r="1.2"/><circle cx="870.8" cy="436.5" r="1.2"/><circle cx="871.0" cy="452.2" r="1.2"/><circle cx="871.2" cy="444.7" r="1.2"/><circle cx="871.4" cy="433.3" r="1.2"/><circle cx="871.6" cy="445.4" r="1.2"/><circle cx="871.9" cy="441.2" r="1.2"/><circle cx="872.1" cy="424.9" r="1.2"/><circle cx="872.3" cy="435.4" r="1.2"/><circle cx="872.5" cy="430.4" r="1.2"/><circle cx="872.7" cy="431.2" r="1.2"/><circle cx="873.0" cy="431.5" r="1.2"/><circle cx="873.2" cy="419.0" r="1.2"/><circle cx="873.4" cy="437.3" r="1.2"/><circle cx="873.6" cy="447.2" r="1.2"/><circle cx="873.8" cy="434.0" r="1.2"/><circle cx="874.0" cy="439.7" r="1.2"/><circle cx="874.3" cy="443.4" r="1.2"/><circle cx="874.5" cy="428.6" r="1.2"/><circle cx="874.7" cy="440.0" r="1.2"/><circle cx="874.9" cy="451.7" r="1.2"/><circle cx="875.1" cy="431.4" r="1.2"/><circle cx="875.3" cy="433.1" r="1.2"/><circle cx="875.6" cy="434.8" r="1.2"/><circle cx="875.8" cy="446.6" r="1.2"/><circle cx="876.0" cy="428.4" r="1.2"/><circle cx="876.2" cy="420.3" r="1.2"/><circle cx="876.4" cy="439.9" r="1.2"/><circle cx="878.2" cy="449.3" r="1.2"/><circle cx="878.4" cy="445.0" r="1.2"/><circle cx="878.6" cy="446.3" r="1.2"/><circle cx="878.8" cy="427.7" r="1.2"/><circle cx="879.0" cy="451.9" r="1.2"/><circle cx="879.3" cy="447.9" r="1.2"/><circle cx="879.5" cy="446.7" r="1.2"/><circle cx="879.7" cy="448.6" r="1.2"/><circle cx="879.9" cy="446.8" r="1.2"/><circle cx="880.1" cy="432.1" r="1.2"/><circle cx="880.3" cy="442.1" r="1.2"/><circle cx="880.6" cy="440.4" r="1.2"/><circle cx="880.8" cy="433.5" r="1.2"/><circle cx="881.0" cy="435.9" r="1.2"/><circle cx="881.2" cy="436.1" r="1.2"/><circle cx="881.4" cy="437.2" r="1.2"/><circle cx="881.6" cy="438.8" r="1.2"/><circle cx="881.9" cy="436.0" r="1.2"/><circle cx="882.1" cy="441.7" r="1.2"/><circle cx="882.3" cy="431.4" r="1.2"/><circle cx="882.5" cy="453.7" r="1.2"/><circle cx="882.7" cy="446.4" r="1.2"/><circle cx="882.9" cy="441.1" r="1.2"/><circle cx="883.2" cy="432.1" r="1.2"/><circle cx="883.4" cy="428.2" r="1.2"/><circle cx="883.6" cy="423.0" r="1.2"/><circle cx="883.8" cy="418.1" r="1.2"/><circle cx="884.0" cy="426.7" r="1.2"/><circle cx="884.3" cy="415.5" r="1.2"/><circle cx="884.5" cy="434.0" r="1.2"/><circle cx="884.7" cy="435.9" r="1.2"/><circle cx="884.9" cy="433.2" r="1.2"/><circle cx="885.1" cy="428.5" r="1.2"/><circle cx="885.3" cy="447.8" r="1.2"/><circle cx="885.6" cy="435.6" r="1.2"/><circle cx="885.8" cy="430.1" r="1.2"/><circle cx="887.5" cy="416.2" r="1.2"/><circle cx="887.7" cy="443.2" r="1.2"/><circle cx="887.9" cy="436.4" r="1.2"/><circle cx="888.2" cy="437.8" r="1.2"/><circle cx="888.4" cy="452.2" r="1.2"/><circle cx="888.6" cy="434.1" r="1.2"/><circle cx="888.8" cy="458.0" r="1.2"/><circle cx="889.0" cy="453.9" r="1.2"/><circle cx="889.2" cy="437.7" r="1.2"/><circle cx="889.5" cy="437.8" r="1.2"/><circle cx="889.7" cy="438.0" r="1.2"/><circle cx="889.9" cy="436.1" r="1.2"/><circle cx="890.1" cy="415.6" r="1.2"/><circle cx="890.3" cy="429.8" r="1.2"/><circle cx="890.6" cy="444.6" r="1.2"/><circle cx="890.8" cy="436.5" r="1.2"/><circle cx="891.0" cy="440.0" r="1.2"/><circle cx="891.2" cy="430.0" r="1.2"/><circle cx="891.4" cy="444.7" r="1.2"/><circle cx="891.6" cy="456.1" r="1.2"/><circle cx="891.9" cy="416.7" r="1.2"/><circle cx="892.1" cy="428.0" r="1.2"/><circle cx="892.3" cy="443.7" r="1.2"/><circle cx="892.5" cy="437.2" r="1.2"/><circle cx="892.7" cy="431.7" r="1.2"/><circle cx="892.9" cy="433.4" r="1.2"/><circle cx="893.2" cy="418.2" r="1.2"/><circle cx="893.4" cy="433.4" r="1.2"/><circle cx="893.6" cy="447.3" r="1.2"/><circle cx="893.8" cy="427.6" r="1.2"/><circle cx="894.0" cy="439.6" r="1.2"/><circle cx="894.2" cy="439.6" r="1.2"/><circle cx="894.5" cy="438.7" r="1.2"/><circle cx="894.7" cy="424.7" r="1.2"/><circle cx="894.9" cy="424.6" r="1.2"/><circle cx="895.1" cy="438.4" r="1.2"/><circle cx="901.4" cy="468.0" r="1.2"/><circle cx="901.6" cy="475.9" r="1.2"/><circle cx="901.9" cy="468.8" r="1.2"/><circle cx="902.1" cy="465.7" r="1.2"/><circle cx="902.3" cy="470.5" r="1.2"/><circle cx="902.5" cy="459.1" r="1.2"/><circle cx="902.7" cy="470.7" r="1.2"/><circle cx="902.9" cy="465.6" r="1.2"/><circle cx="903.2" cy="446.3" r="1.2"/><circle cx="903.4" cy="458.5" r="1.2"/><circle cx="903.6" cy="480.1" r="1.2"/><circle cx="903.8" cy="442.8" r="1.2"/><circle cx="904.0" cy="456.7" r="1.2"/><circle cx="904.2" cy="447.2" r="1.2"/><circle cx="904.5" cy="437.7" r="1.2"/><circle cx="904.7" cy="414.4" r="1.2"/><circle cx="904.9" cy="450.9" r="1.2"/><circle cx="905.1" cy="443.5" r="1.2"/><circle cx="905.3" cy="452.6" r="1.2"/><circle cx="905.5" cy="445.9" r="1.2"/><circle cx="905.8" cy="434.3" r="1.2"/><circle cx="906.0" cy="452.0" r="1.2"/><circle cx="906.2" cy="440.6" r="1.2"/><circle cx="906.4" cy="446.2" r="1.2"/><circle cx="906.6" cy="433.0" r="1.2"/><circle cx="906.8" cy="435.5" r="1.2"/><circle cx="907.1" cy="444.6" r="1.2"/><circle cx="907.3" cy="434.0" r="1.2"/><circle cx="907.5" cy="446.0" r="1.2"/><circle cx="907.7" cy="438.7" r="1.2"/><circle cx="907.9" cy="455.8" r="1.2"/><circle cx="908.2" cy="439.1" r="1.2"/><circle cx="908.4" cy="437.8" r="1.2"/><circle cx="908.6" cy="449.4" r="1.2"/><circle cx="908.8" cy="440.5" r="1.2"/><circle cx="909.0" cy="442.2" r="1.2"/><circle cx="910.8" cy="473.7" r="1.2"/><circle cx="911.0" cy="466.1" r="1.2"/><circle cx="911.2" cy="447.9" r="1.2"/><circle cx="911.4" cy="449.6" r="1.2"/><circle cx="911.6" cy="459.8" r="1.2"/><circle cx="911.8" cy="454.0" r="1.2"/><circle cx="912.1" cy="448.8" r="1.2"/><circle cx="912.3" cy="447.2" r="1.2"/><circle cx="912.5" cy="449.3" r="1.2"/><circle cx="912.7" cy="440.4" r="1.2"/><circle cx="912.9" cy="452.4" r="1.2"/><circle cx="913.1" cy="435.4" r="1.2"/><circle cx="913.4" cy="450.9" r="1.2"/><circle cx="913.6" cy="446.6" r="1.2"/><circle cx="913.8" cy="450.5" r="1.2"/><circle cx="914.0" cy="445.4" r="1.2"/><circle cx="914.2" cy="453.6" r="1.2"/><circle cx="914.5" cy="451.4" r="1.2"/><circle cx="914.7" cy="445.4" r="1.2"/><circle cx="914.9" cy="451.7" r="1.2"/><circle cx="915.1" cy="442.1" r="1.2"/><circle cx="915.3" cy="450.3" r="1.2"/><circle cx="915.5" cy="443.5" r="1.2"/><circle cx="915.8" cy="448.6" r="1.2"/><circle cx="916.0" cy="443.8" r="1.2"/><circle cx="916.2" cy="437.0" r="1.2"/><circle cx="916.4" cy="446.7" r="1.2"/><circle cx="916.6" cy="411.9" r="1.2"/><circle cx="916.8" cy="439.8" r="1.2"/><circle cx="917.1" cy="448.8" r="1.2"/><circle cx="917.3" cy="445.2" r="1.2"/><circle cx="917.5" cy="432.3" r="1.2"/><circle cx="917.7" cy="443.1" r="1.2"/><circle cx="917.9" cy="442.7" r="1.2"/><circle cx="918.1" cy="436.6" r="1.2"/><circle cx="918.4" cy="434.9" r="1.2"/><circle cx="920.1" cy="454.2" r="1.2"/><circle cx="920.3" cy="449.1" r="1.2"/><circle cx="920.5" cy="463.4" r="1.2"/><circle cx="920.8" cy="444.3" r="1.2"/><circle cx="921.0" cy="458.0" r="1.2"/><circle cx="921.2" cy="461.5" r="1.2"/><circle cx="921.4" cy="446.1" r="1.2"/><circle cx="921.6" cy="444.0" r="1.2"/><circle cx="921.8" cy="454.5" r="1.2"/><circle cx="922.1" cy="435.7" r="1.2"/><circle cx="922.3" cy="457.8" r="1.2"/><circle cx="922.5" cy="436.3" r="1.2"/><circle cx="922.7" cy="437.0" r="1.2"/><circle cx="922.9" cy="446.3" r="1.2"/><circle cx="923.1" cy="445.8" r="1.2"/><circle cx="923.4" cy="454.2" r="1.2"/><circle cx="923.6" cy="441.0" r="1.2"/><circle cx="923.8" cy="437.5" r="1.2"/><circle cx="924.0" cy="447.2" r="1.2"/><circle cx="924.2" cy="448.7" r="1.2"/><circle cx="924.4" cy="431.0" r="1.2"/><circle cx="924.7" cy="439.8" r="1.2"/><circle cx="924.9" cy="437.7" r="1.2"/><circle cx="925.1" cy="443.0" r="1.2"/><circle cx="925.3" cy="436.8" r="1.2"/><circle cx="925.5" cy="424.7" r="1.2"/><circle cx="925.8" cy="438.3" r="1.2"/><circle cx="926.0" cy="453.7" r="1.2"/><circle cx="926.2" cy="446.2" r="1.2"/><circle cx="926.4" cy="436.6" r="1.2"/><circle cx="926.6" cy="426.8" r="1.2"/><circle cx="926.8" cy="427.2" r="1.2"/><circle cx="927.1" cy="430.0" r="1.2"/><circle cx="927.3" cy="440.5" r="1.2"/><circle cx="927.5" cy="442.6" r="1.2"/><circle cx="927.7" cy="449.6" r="1.2"/><circle cx="929.4" cy="447.9" r="1.2"/><circle cx="929.7" cy="450.5" r="1.2"/><circle cx="929.9" cy="445.7" r="1.2"/><circle cx="930.1" cy="451.4" r="1.2"/><circle cx="930.3" cy="421.9" r="1.2"/><circle cx="930.5" cy="455.4" r="1.2"/><circle cx="930.7" cy="439.4" r="1.2"/><circle cx="931.0" cy="455.2" r="1.2"/><circle cx="931.2" cy="461.7" r="1.2"/><circle cx="931.4" cy="459.2" r="1.2"/><circle cx="931.6" cy="449.0" r="1.2"/><circle cx="931.8" cy="439.1" r="1.2"/><circle cx="932.1" cy="442.7" r="1.2"/><circle cx="932.3" cy="439.6" r="1.2"/><circle cx="932.5" cy="435.1" r="1.2"/><circle cx="932.7" cy="447.3" r="1.2"/><circle cx="932.9" cy="451.6" r="1.2"/><circle cx="933.1" cy="439.4" r="1.2"/><circle cx="933.4" cy="429.5" r="1.2"/><circle cx="933.6" cy="431.0" r="1.2"/><circle cx="933.8" cy="449.2" r="1.2"/><circle cx="934.0" cy="446.9" r="1.2"/><circle cx="934.2" cy="424.4" r="1.2"/><circle cx="934.4" cy="424.8" r="1.2"/><circle cx="934.7" cy="444.5" r="1.2"/><circle cx="934.9" cy="439.5" r="1.2"/><circle cx="935.1" cy="444.1" r="1.2"/><circle cx="935.3" cy="457.9" r="1.2"/><circle cx="935.5" cy="444.4" r="1.2"/><circle cx="935.7" cy="439.4" r="1.2"/><circle cx="936.0" cy="438.3" r="1.2"/><circle cx="936.2" cy="435.5" r="1.2"/><circle cx="936.4" cy="450.7" r="1.2"/><circle cx="936.6" cy="436.5" r="1.2"/><circle cx="936.8" cy="447.3" r="1.2"/><circle cx="937.0" cy="444.1" r="1.2"/><circle cx="944.4" cy="471.0" r="1.2"/><circle cx="944.7" cy="468.7" r="1.2"/><circle cx="944.9" cy="476.7" r="1.2"/><circle cx="945.1" cy="460.4" r="1.2"/><circle cx="945.3" cy="438.7" r="1.2"/><circle cx="945.5" cy="456.4" r="1.2"/><circle cx="945.7" cy="457.2" r="1.2"/><circle cx="946.0" cy="459.4" r="1.2"/><circle cx="946.2" cy="476.6" r="1.2"/><circle cx="946.4" cy="453.6" r="1.2"/><circle cx="946.6" cy="441.4" r="1.2"/><circle cx="946.8" cy="454.5" r="1.2"/><circle cx="947.0" cy="452.5" r="1.2"/><circle cx="947.3" cy="442.6" r="1.2"/><circle cx="947.5" cy="453.4" r="1.2"/><circle cx="947.7" cy="448.1" r="1.2"/><circle cx="947.9" cy="440.3" r="1.2"/><circle cx="948.1" cy="440.7" r="1.2"/><circle cx="948.3" cy="424.5" r="1.2"/><circle cx="948.6" cy="449.1" r="1.2"/><circle cx="948.8" cy="449.5" r="1.2"/><circle cx="949.0" cy="445.6" r="1.2"/><circle cx="949.2" cy="443.7" r="1.2"/><circle cx="949.4" cy="430.9" r="1.2"/><circle cx="949.7" cy="442.1" r="1.2"/><circle cx="949.9" cy="442.3" r="1.2"/><circle cx="950.1" cy="435.7" r="1.2"/><circle cx="950.3" cy="437.1" r="1.2"/><circle cx="950.5" cy="443.1" r="1.2"/><circle cx="950.7" cy="442.9" r="1.2"/><circle cx="951.0" cy="435.6" r="1.2"/><circle cx="951.2" cy="427.3" r="1.2"/><circle cx="951.4" cy="441.6" r="1.2"/><circle cx="951.6" cy="442.6" r="1.2"/><circle cx="951.8" cy="423.3" r="1.2"/><circle cx="952.0" cy="445.7" r="1.2"/><circle cx="953.8" cy="447.2" r="1.2"/><circle cx="954.0" cy="438.6" r="1.2"/><circle cx="954.2" cy="446.1" r="1.2"/><circle cx="954.4" cy="451.6" r="1.2"/><circle cx="954.6" cy="451.0" r="1.2"/><circle cx="954.9" cy="445.1" r="1.2"/><circle cx="955.1" cy="457.0" r="1.2"/><circle cx="955.3" cy="436.4" r="1.2"/><circle cx="955.5" cy="439.0" r="1.2"/><circle cx="955.7" cy="451.0" r="1.2"/><circle cx="956.0" cy="437.2" r="1.2"/><circle cx="956.2" cy="438.4" r="1.2"/><circle cx="956.4" cy="442.2" r="1.2"/><circle cx="956.6" cy="434.1" r="1.2"/><circle cx="956.8" cy="436.6" r="1.2"/><circle cx="957.0" cy="425.2" r="1.2"/><circle cx="957.3" cy="442.3" r="1.2"/><circle cx="957.5" cy="434.8" r="1.2"/><circle cx="957.7" cy="443.5" r="1.2"/><circle cx="957.9" cy="424.5" r="1.2"/><circle cx="958.1" cy="447.3" r="1.2"/><circle cx="958.3" cy="436.5" r="1.2"/><circle cx="958.6" cy="435.7" r="1.2"/><circle cx="958.8" cy="441.0" r="1.2"/><circle cx="959.0" cy="446.9" r="1.2"/><circle cx="959.2" cy="423.1" r="1.2"/><circle cx="959.4" cy="442.7" r="1.2"/><circle cx="959.6" cy="428.2" r="1.2"/><circle cx="959.9" cy="429.1" r="1.2"/><circle cx="960.1" cy="439.2" r="1.2"/><circle cx="960.3" cy="438.7" r="1.2"/><circle cx="960.5" cy="446.1" r="1.2"/><circle cx="960.7" cy="443.5" r="1.2"/><circle cx="961.0" cy="425.2" r="1.2"/><circle cx="961.2" cy="432.2" r="1.2"/><circle cx="961.4" cy="426.0" r="1.2"/><circle cx="963.1" cy="448.7" r="1.2"/><circle cx="963.3" cy="460.4" r="1.2"/><circle cx="963.6" cy="440.5" r="1.2"/><circle cx="963.8" cy="458.6" r="1.2"/><circle cx="964.0" cy="451.9" r="1.2"/><circle cx="964.2" cy="437.9" r="1.2"/><circle cx="964.4" cy="453.3" r="1.2"/><circle cx="964.6" cy="440.8" r="1.2"/><circle cx="964.9" cy="426.9" r="1.2"/><circle cx="965.1" cy="444.4" r="1.2"/><circle cx="965.3" cy="435.0" r="1.2"/><circle cx="965.5" cy="453.7" r="1.2"/><circle cx="965.7" cy="443.8" r="1.2"/><circle cx="965.9" cy="441.8" r="1.2"/><circle cx="966.2" cy="448.6" r="1.2"/><circle cx="966.4" cy="466.1" r="1.2"/><circle cx="966.6" cy="443.4" r="1.2"/><circle cx="966.8" cy="434.3" r="1.2"/><circle cx="967.0" cy="423.2" r="1.2"/><circle cx="967.3" cy="436.1" r="1.2"/><circle cx="967.5" cy="434.2" r="1.2"/><circle cx="967.7" cy="435.0" r="1.2"/><circle cx="967.9" cy="441.3" r="1.2"/><circle cx="968.1" cy="441.5" r="1.2"/><circle cx="968.3" cy="432.4" r="1.2"/><circle cx="968.6" cy="425.6" r="1.2"/><circle cx="968.8" cy="434.7" r="1.2"/><circle cx="969.0" cy="433.4" r="1.2"/><circle cx="969.2" cy="448.0" r="1.2"/><circle cx="969.4" cy="451.4" r="1.2"/><circle cx="969.6" cy="418.1" r="1.2"/><circle cx="969.9" cy="434.5" r="1.2"/><circle cx="970.1" cy="438.2" r="1.2"/><circle cx="970.3" cy="434.2" r="1.2"/><circle cx="970.5" cy="439.4" r="1.2"/><circle cx="970.7" cy="429.3" r="1.2"/><circle cx="972.5" cy="446.6" r="1.2"/><circle cx="972.7" cy="458.7" r="1.2"/><circle cx="972.9" cy="451.0" r="1.2"/><circle cx="973.1" cy="448.0" r="1.2"/><circle cx="973.3" cy="444.7" r="1.2"/><circle cx="973.6" cy="441.8" r="1.2"/><circle cx="973.8" cy="444.7" r="1.2"/><circle cx="974.0" cy="445.0" r="1.2"/><circle cx="974.2" cy="438.8" r="1.2"/><circle cx="974.4" cy="446.1" r="1.2"/><circle cx="974.6" cy="449.0" r="1.2"/><circle cx="974.9" cy="449.6" r="1.2"/><circle cx="975.1" cy="451.8" r="1.2"/><circle cx="975.3" cy="447.2" r="1.2"/><circle cx="975.5" cy="453.5" r="1.2"/><circle cx="975.7" cy="446.2" r="1.2"/><circle cx="975.9" cy="432.2" r="1.2"/><circle cx="976.2" cy="441.0" r="1.2"/><circle cx="976.4" cy="439.0" r="1.2"/><circle cx="976.6" cy="455.8" r="1.2"/><circle cx="976.8" cy="455.6" r="1.2"/><circle cx="977.0" cy="444.1" r="1.2"/><circle cx="977.2" cy="435.1" r="1.2"/><circle cx="977.5" cy="452.0" r="1.2"/><circle cx="977.7" cy="443.7" r="1.2"/><circle cx="977.9" cy="430.1" r="1.2"/><circle cx="978.1" cy="438.4" r="1.2"/><circle cx="978.3" cy="439.8" r="1.2"/><circle cx="978.6" cy="438.7" r="1.2"/><circle cx="978.8" cy="451.9" r="1.2"/><circle cx="979.0" cy="443.0" r="1.2"/><circle cx="979.2" cy="459.2" r="1.2"/><circle cx="979.4" cy="450.8" r="1.2"/><circle cx="979.6" cy="437.6" r="1.2"/><circle cx="979.9" cy="438.4" r="1.2"/><circle cx="980.1" cy="435.2" r="1.2"/><circle cx="987.5" cy="459.8" r="1.2"/><circle cx="987.7" cy="468.5" r="1.2"/><circle cx="987.9" cy="455.5" r="1.2"/><circle cx="988.1" cy="459.0" r="1.2"/><circle cx="988.3" cy="461.7" r="1.2"/><circle cx="988.5" cy="449.4" r="1.2"/><circle cx="988.8" cy="457.3" r="1.2"/><circle cx="989.0" cy="469.5" r="1.2"/><circle cx="989.2" cy="454.9" r="1.2"/><circle cx="989.4" cy="454.7" r="1.2"/><circle cx="989.6" cy="441.8" r="1.2"/><circle cx="989.8" cy="447.8" r="1.2"/><circle cx="990.1" cy="450.5" r="1.2"/><circle cx="990.3" cy="444.8" r="1.2"/><circle cx="990.5" cy="454.3" r="1.2"/><circle cx="990.7" cy="449.7" r="1.2"/><circle cx="990.9" cy="430.3" r="1.2"/><circle cx="991.2" cy="442.0" r="1.2"/><circle cx="991.4" cy="431.2" r="1.2"/><circle cx="991.6" cy="437.8" r="1.2"/><circle cx="991.8" cy="455.4" r="1.2"/><circle cx="992.0" cy="444.2" r="1.2"/><circle cx="992.2" cy="441.8" r="1.2"/><circle cx="992.5" cy="453.0" r="1.2"/><circle cx="992.7" cy="457.1" r="1.2"/><circle cx="992.9" cy="452.7" r="1.2"/><circle cx="993.1" cy="439.2" r="1.2"/><circle cx="993.3" cy="433.9" r="1.2"/><circle cx="993.5" cy="425.5" r="1.2"/><circle cx="993.8" cy="430.3" r="1.2"/><circle cx="994.0" cy="423.6" r="1.2"/><circle cx="994.2" cy="428.9" r="1.2"/><circle cx="994.4" cy="452.1" r="1.2"/><circle cx="994.6" cy="437.9" r="1.2"/><circle cx="994.8" cy="426.9" r="1.2"/><circle cx="995.1" cy="434.2" r="1.2"/><circle cx="996.8" cy="445.4" r="1.2"/><circle cx="997.0" cy="446.5" r="1.2"/><circle cx="997.2" cy="442.3" r="1.2"/><circle cx="997.5" cy="441.7" r="1.2"/><circle cx="997.7" cy="438.8" r="1.2"/><circle cx="997.9" cy="431.0" r="1.2"/><circle cx="998.1" cy="435.4" r="1.2"/><circle cx="998.3" cy="437.5" r="1.2"/><circle cx="998.5" cy="434.4" r="1.2"/><circle cx="998.8" cy="425.4" r="1.2"/><circle cx="999.0" cy="441.7" r="1.2"/><circle cx="999.2" cy="440.5" r="1.2"/><circle cx="999.4" cy="441.4" r="1.2"/><circle cx="999.6" cy="435.8" r="1.2"/><circle cx="999.8" cy="430.5" r="1.2"/><circle cx="1000.1" cy="440.3" r="1.2"/><circle cx="1000.3" cy="442.9" r="1.2"/><circle cx="1000.5" cy="438.1" r="1.2"/><circle cx="1000.7" cy="438.2" r="1.2"/><circle cx="1000.9" cy="439.3" r="1.2"/><circle cx="1001.1" cy="444.3" r="1.2"/><circle cx="1001.4" cy="420.1" r="1.2"/><circle cx="1001.6" cy="428.7" r="1.2"/><circle cx="1001.8" cy="432.9" r="1.2"/><circle cx="1002.0" cy="440.8" r="1.2"/><circle cx="1002.2" cy="425.5" r="1.2"/><circle cx="1002.5" cy="439.8" r="1.2"/><circle cx="1002.7" cy="423.0" r="1.2"/><circle cx="1002.9" cy="430.1" r="1.2"/><circle cx="1003.1" cy="427.9" r="1.2"/><circle cx="1003.3" cy="430.0" r="1.2"/><circle cx="1003.5" cy="414.9" r="1.2"/><circle cx="1003.8" cy="431.0" r="1.2"/><circle cx="1004.0" cy="423.0" r="1.2"/><circle cx="1004.2" cy="433.8" r="1.2"/><circle cx="1004.4" cy="434.9" r="1.2"/><circle cx="1006.1" cy="463.7" r="1.2"/><circle cx="1006.4" cy="441.8" r="1.2"/><circle cx="1006.6" cy="449.2" r="1.2"/><circle cx="1006.8" cy="434.5" r="1.2"/><circle cx="1007.0" cy="435.8" r="1.2"/><circle cx="1007.2" cy="446.3" r="1.2"/><circle cx="1007.4" cy="443.3" r="1.2"/><circle cx="1007.7" cy="445.7" r="1.2"/><circle cx="1007.9" cy="449.6" r="1.2"/><circle cx="1008.1" cy="451.4" r="1.2"/><circle cx="1008.3" cy="456.4" r="1.2"/><circle cx="1008.5" cy="449.3" r="1.2"/><circle cx="1008.8" cy="447.6" r="1.2"/><circle cx="1009.0" cy="445.6" r="1.2"/><circle cx="1009.2" cy="438.1" r="1.2"/><circle cx="1009.4" cy="432.6" r="1.2"/><circle cx="1009.6" cy="445.8" r="1.2"/><circle cx="1009.8" cy="431.9" r="1.2"/><circle cx="1010.1" cy="445.2" r="1.2"/><circle cx="1010.3" cy="423.2" r="1.2"/><circle cx="1010.5" cy="452.0" r="1.2"/><circle cx="1010.7" cy="440.9" r="1.2"/><circle cx="1010.9" cy="440.3" r="1.2"/><circle cx="1011.1" cy="441.9" r="1.2"/><circle cx="1011.4" cy="447.6" r="1.2"/><circle cx="1011.6" cy="439.8" r="1.2"/><circle cx="1011.8" cy="446.6" r="1.2"/><circle cx="1012.0" cy="430.7" r="1.2"/><circle cx="1012.2" cy="425.1" r="1.2"/><circle cx="1012.4" cy="439.4" r="1.2"/><circle cx="1012.7" cy="437.0" r="1.2"/><circle cx="1012.9" cy="433.5" r="1.2"/><circle cx="1013.1" cy="437.1" r="1.2"/><circle cx="1013.3" cy="447.2" r="1.2"/><circle cx="1013.5" cy="423.7" r="1.2"/><circle cx="1013.7" cy="433.9" r="1.2"/><circle cx="1019.0" cy="469.6" r="1.2"/><circle cx="1019.2" cy="467.2" r="1.2"/><circle cx="1019.4" cy="467.8" r="1.2"/><circle cx="1019.6" cy="473.0" r="1.2"/><circle cx="1019.8" cy="474.7" r="1.2"/><circle cx="1020.1" cy="455.8" r="1.2"/><circle cx="1020.3" cy="468.9" r="1.2"/><circle cx="1020.5" cy="472.7" r="1.2"/><circle cx="1020.7" cy="470.5" r="1.2"/><circle cx="1020.9" cy="454.2" r="1.2"/><circle cx="1021.1" cy="468.5" r="1.2"/><circle cx="1021.4" cy="461.7" r="1.2"/><circle cx="1021.6" cy="453.8" r="1.2"/><circle cx="1021.8" cy="453.5" r="1.2"/><circle cx="1022.0" cy="459.4" r="1.2"/><circle cx="1022.2" cy="457.8" r="1.2"/><circle cx="1022.4" cy="453.3" r="1.2"/><circle cx="1022.7" cy="449.9" r="1.2"/><circle cx="1022.9" cy="459.9" r="1.2"/><circle cx="1023.1" cy="454.2" r="1.2"/><circle cx="1023.3" cy="448.5" r="1.2"/><circle cx="1023.5" cy="452.5" r="1.2"/><circle cx="1023.7" cy="441.5" r="1.2"/><circle cx="1024.0" cy="455.4" r="1.2"/><circle cx="1024.2" cy="448.1" r="1.2"/><circle cx="1024.4" cy="440.9" r="1.2"/><circle cx="1024.6" cy="459.6" r="1.2"/><circle cx="1024.8" cy="434.0" r="1.2"/><circle cx="1025.0" cy="453.1" r="1.2"/><circle cx="1025.3" cy="451.0" r="1.2"/><circle cx="1025.5" cy="459.5" r="1.2"/><circle cx="1025.7" cy="451.6" r="1.2"/><circle cx="1025.9" cy="457.3" r="1.2"/><circle cx="1026.1" cy="457.2" r="1.2"/><circle cx="1026.4" cy="446.6" r="1.2"/><circle cx="1026.6" cy="435.9" r="1.2"/><circle cx="1028.3" cy="450.2" r="1.2"/><circle cx="1028.5" cy="464.0" r="1.2"/><circle cx="1028.7" cy="460.1" r="1.2"/><circle cx="1029.0" cy="445.2" r="1.2"/><circle cx="1029.2" cy="460.0" r="1.2"/><circle cx="1029.4" cy="462.2" r="1.2"/><circle cx="1029.6" cy="447.5" r="1.2"/><circle cx="1029.8" cy="448.7" r="1.2"/><circle cx="1030.0" cy="437.2" r="1.2"/><circle cx="1030.3" cy="453.4" r="1.2"/><circle cx="1030.5" cy="450.3" r="1.2"/><circle cx="1030.7" cy="457.8" r="1.2"/><circle cx="1030.9" cy="459.0" r="1.2"/><circle cx="1031.1" cy="448.4" r="1.2"/><circle cx="1031.3" cy="446.6" r="1.2"/><circle cx="1031.6" cy="455.7" r="1.2"/><circle cx="1031.8" cy="449.2" r="1.2"/><circle cx="1032.0" cy="451.0" r="1.2"/><circle cx="1032.2" cy="450.9" r="1.2"/><circle cx="1032.4" cy="449.1" r="1.2"/><circle cx="1032.7" cy="465.4" r="1.2"/><circle cx="1032.9" cy="445.6" r="1.2"/><circle cx="1033.1" cy="437.5" r="1.2"/><circle cx="1033.3" cy="435.8" r="1.2"/><circle cx="1033.5" cy="446.1" r="1.2"/><circle cx="1033.7" cy="451.9" r="1.2"/><circle cx="1034.0" cy="439.9" r="1.2"/><circle cx="1034.2" cy="436.3" r="1.2"/><circle cx="1034.4" cy="453.2" r="1.2"/><circle cx="1034.6" cy="441.9" r="1.2"/><circle cx="1034.8" cy="449.0" r="1.2"/><circle cx="1035.0" cy="453.0" r="1.2"/><circle cx="1035.3" cy="441.2" r="1.2"/><circle cx="1035.5" cy="461.2" r="1.2"/><circle cx="1035.7" cy="440.6" r="1.2"/><circle cx="1035.9" cy="448.4" r="1.2"/><circle cx="1037.7" cy="454.9" r="1.2"/><circle cx="1037.9" cy="454.7" r="1.2"/><circle cx="1038.1" cy="459.9" r="1.2"/><circle cx="1038.3" cy="452.1" r="1.2"/><circle cx="1038.5" cy="458.3" r="1.2"/><circle cx="1038.7" cy="470.5" r="1.2"/><circle cx="1039.0" cy="440.0" r="1.2"/><circle cx="1039.2" cy="441.6" r="1.2"/><circle cx="1039.4" cy="455.8" r="1.2"/><circle cx="1039.6" cy="463.1" r="1.2"/><circle cx="1039.8" cy="463.1" r="1.2"/><circle cx="1040.0" cy="455.2" r="1.2"/><circle cx="1040.3" cy="457.5" r="1.2"/><circle cx="1040.5" cy="452.3" r="1.2"/><circle cx="1040.7" cy="451.8" r="1.2"/><circle cx="1040.9" cy="458.1" r="1.2"/><circle cx="1041.1" cy="445.2" r="1.2"/><circle cx="1041.3" cy="443.7" r="1.2"/><circle cx="1041.6" cy="444.1" r="1.2"/><circle cx="1041.8" cy="449.4" r="1.2"/><circle cx="1042.0" cy="441.2" r="1.2"/><circle cx="1042.2" cy="449.0" r="1.2"/><circle cx="1042.4" cy="460.5" r="1.2"/><circle cx="1042.6" cy="449.8" r="1.2"/><circle cx="1042.9" cy="451.9" r="1.2"/><circle cx="1043.1" cy="459.4" r="1.2"/><circle cx="1043.3" cy="459.4" r="1.2"/><circle cx="1043.5" cy="422.3" r="1.2"/><circle cx="1043.7" cy="446.4" r="1.2"/><circle cx="1044.0" cy="444.5" r="1.2"/><circle cx="1044.2" cy="453.8" r="1.2"/><circle cx="1044.4" cy="441.4" r="1.2"/><circle cx="1044.6" cy="440.0" r="1.2"/><circle cx="1044.8" cy="452.1" r="1.2"/><circle cx="1045.0" cy="443.1" r="1.2"/><circle cx="1045.3" cy="444.9" r="1.2"/><circle cx="1053.1" cy="467.5" r="1.2"/><circle cx="1053.3" cy="463.5" r="1.2"/><circle cx="1053.5" cy="458.2" r="1.2"/><circle cx="1053.7" cy="479.1" r="1.2"/><circle cx="1053.9" cy="468.6" r="1.2"/><circle cx="1054.2" cy="460.9" r="1.2"/><circle cx="1054.4" cy="456.0" r="1.2"/><circle cx="1054.6" cy="461.8" r="1.2"/><circle cx="1054.8" cy="463.0" r="1.2"/><circle cx="1055.0" cy="444.6" r="1.2"/><circle cx="1055.3" cy="445.7" r="1.2"/><circle cx="1055.5" cy="450.0" r="1.2"/><circle cx="1055.7" cy="466.0" r="1.2"/><circle cx="1055.9" cy="440.6" r="1.2"/><circle cx="1056.1" cy="456.2" r="1.2"/><circle cx="1056.3" cy="448.1" r="1.2"/><circle cx="1056.6" cy="444.4" r="1.2"/><circle cx="1056.8" cy="460.2" r="1.2"/><circle cx="1057.0" cy="447.6" r="1.2"/><circle cx="1057.2" cy="450.6" r="1.2"/><circle cx="1057.4" cy="452.5" r="1.2"/><circle cx="1057.6" cy="453.6" r="1.2"/><circle cx="1057.9" cy="456.5" r="1.2"/><circle cx="1058.1" cy="447.8" r="1.2"/><circle cx="1058.3" cy="452.6" r="1.2"/><circle cx="1058.5" cy="455.2" r="1.2"/><circle cx="1058.7" cy="444.5" r="1.2"/><circle cx="1058.9" cy="446.5" r="1.2"/><circle cx="1059.2" cy="454.8" r="1.2"/><circle cx="1059.4" cy="449.3" r="1.2"/><circle cx="1059.6" cy="444.0" r="1.2"/><circle cx="1059.8" cy="435.9" r="1.2"/><circle cx="1060.0" cy="445.1" r="1.2"/><circle cx="1060.2" cy="451.6" r="1.2"/><circle cx="1060.5" cy="445.9" r="1.2"/><circle cx="1060.7" cy="450.0" r="1.2"/><circle cx="1062.4" cy="456.3" r="1.2"/><circle cx="1062.6" cy="440.5" r="1.2"/><circle cx="1062.9" cy="454.0" r="1.2"/><circle cx="1063.1" cy="447.2" r="1.2"/><circle cx="1063.3" cy="447.6" r="1.2"/><circle cx="1063.5" cy="461.3" r="1.2"/><circle cx="1063.7" cy="461.3" r="1.2"/><circle cx="1063.9" cy="456.2" r="1.2"/><circle cx="1064.2" cy="456.6" r="1.2"/><circle cx="1064.4" cy="456.4" r="1.2"/><circle cx="1064.6" cy="451.3" r="1.2"/><circle cx="1064.8" cy="444.2" r="1.2"/><circle cx="1065.0" cy="453.9" r="1.2"/><circle cx="1065.2" cy="442.7" r="1.2"/><circle cx="1065.5" cy="457.6" r="1.2"/><circle cx="1065.7" cy="441.9" r="1.2"/><circle cx="1065.9" cy="454.3" r="1.2"/><circle cx="1066.1" cy="440.7" r="1.2"/><circle cx="1066.3" cy="458.9" r="1.2"/><circle cx="1066.5" cy="445.8" r="1.2"/><circle cx="1066.8" cy="450.9" r="1.2"/><circle cx="1067.0" cy="458.5" r="1.2"/><circle cx="1067.2" cy="442.8" r="1.2"/><circle cx="1067.4" cy="450.7" r="1.2"/><circle cx="1067.6" cy="449.4" r="1.2"/><circle cx="1067.9" cy="450.4" r="1.2"/><circle cx="1068.1" cy="435.7" r="1.2"/><circle cx="1068.3" cy="440.3" r="1.2"/><circle cx="1068.5" cy="440.6" r="1.2"/><circle cx="1068.7" cy="447.7" r="1.2"/><circle cx="1068.9" cy="434.4" r="1.2"/><circle cx="1069.2" cy="450.7" r="1.2"/><circle cx="1069.4" cy="445.5" r="1.2"/><circle cx="1069.6" cy="457.1" r="1.2"/><circle cx="1069.8" cy="442.9" r="1.2"/><circle cx="1070.0" cy="441.4" r="1.2"/><circle cx="1071.8" cy="448.4" r="1.2"/><circle cx="1072.0" cy="450.7" r="1.2"/><circle cx="1072.2" cy="468.2" r="1.2"/><circle cx="1072.4" cy="453.7" r="1.2"/><circle cx="1072.6" cy="453.8" r="1.2"/><circle cx="1072.8" cy="465.0" r="1.2"/><circle cx="1073.1" cy="461.7" r="1.2"/><circle cx="1073.3" cy="440.7" r="1.2"/><circle cx="1073.5" cy="461.7" r="1.2"/><circle cx="1073.7" cy="452.3" r="1.2"/><circle cx="1073.9" cy="449.5" r="1.2"/><circle cx="1074.2" cy="463.4" r="1.2"/><circle cx="1074.4" cy="457.0" r="1.2"/><circle cx="1074.6" cy="462.1" r="1.2"/><circle cx="1074.8" cy="450.4" r="1.2"/><circle cx="1075.0" cy="426.5" r="1.2"/><circle cx="1075.2" cy="446.9" r="1.2"/><circle cx="1075.5" cy="451.2" r="1.2"/><circle cx="1075.7" cy="445.6" r="1.2"/><circle cx="1075.9" cy="457.1" r="1.2"/><circle cx="1076.1" cy="449.0" r="1.2"/><circle cx="1076.3" cy="455.0" r="1.2"/><circle cx="1076.5" cy="445.0" r="1.2"/><circle cx="1076.8" cy="452.0" r="1.2"/><circle cx="1077.0" cy="444.9" r="1.2"/><circle cx="1077.2" cy="441.9" r="1.2"/><circle cx="1077.4" cy="434.6" r="1.2"/><circle cx="1077.6" cy="454.5" r="1.2"/><circle cx="1077.8" cy="442.2" r="1.2"/><circle cx="1078.1" cy="451.2" r="1.2"/><circle cx="1078.3" cy="450.7" r="1.2"/><circle cx="1078.5" cy="452.1" r="1.2"/><circle cx="1078.7" cy="454.0" r="1.2"/><circle cx="1078.9" cy="438.9" r="1.2"/><circle cx="1079.2" cy="453.9" r="1.2"/><circle cx="1079.4" cy="443.0" r="1.2"/><circle cx="1081.1" cy="447.1" r="1.2"/><circle cx="1081.3" cy="448.3" r="1.2"/><circle cx="1081.5" cy="459.2" r="1.2"/><circle cx="1081.8" cy="457.7" r="1.2"/><circle cx="1082.0" cy="449.3" r="1.2"/><circle cx="1082.2" cy="452.8" r="1.2"/><circle cx="1082.4" cy="456.1" r="1.2"/><circle cx="1082.6" cy="461.2" r="1.2"/><circle cx="1082.8" cy="446.3" r="1.2"/><circle cx="1083.1" cy="450.1" r="1.2"/><circle cx="1083.3" cy="453.7" r="1.2"/><circle cx="1083.5" cy="456.7" r="1.2"/><circle cx="1083.7" cy="448.5" r="1.2"/><circle cx="1083.9" cy="454.9" r="1.2"/><circle cx="1084.1" cy="448.5" r="1.2"/><circle cx="1084.4" cy="437.5" r="1.2"/><circle cx="1084.6" cy="448.4" r="1.2"/><circle cx="1084.8" cy="439.8" r="1.2"/><circle cx="1085.0" cy="450.9" r="1.2"/><circle cx="1085.2" cy="448.9" r="1.2"/><circle cx="1085.5" cy="454.5" r="1.2"/><circle cx="1085.7" cy="442.3" r="1.2"/><circle cx="1085.9" cy="444.2" r="1.2"/><circle cx="1086.1" cy="446.6" r="1.2"/><circle cx="1086.3" cy="441.3" r="1.2"/><circle cx="1086.5" cy="453.5" r="1.2"/><circle cx="1086.8" cy="456.1" r="1.2"/><circle cx="1087.0" cy="444.7" r="1.2"/><circle cx="1087.2" cy="448.8" r="1.2"/><circle cx="1087.4" cy="444.0" r="1.2"/><circle cx="1087.6" cy="449.6" r="1.2"/><circle cx="1087.8" cy="427.0" r="1.2"/><circle cx="1088.1" cy="438.4" r="1.2"/><circle cx="1088.3" cy="446.7" r="1.2"/><circle cx="1088.5" cy="445.2" r="1.2"/><circle cx="1088.7" cy="447.9" r="1.2"/><circle cx="1095.2" cy="473.7" r="1.2"/><circle cx="1095.4" cy="473.4" r="1.2"/><circle cx="1095.7" cy="456.7" r="1.2"/><circle cx="1095.9" cy="461.3" r="1.2"/><circle cx="1096.1" cy="459.9" r="1.2"/><circle cx="1096.3" cy="460.8" r="1.2"/><circle cx="1096.5" cy="458.3" r="1.2"/><circle cx="1096.8" cy="476.9" r="1.2"/><circle cx="1097.0" cy="470.0" r="1.2"/><circle cx="1097.2" cy="454.1" r="1.2"/><circle cx="1097.4" cy="468.7" r="1.2"/><circle cx="1097.6" cy="459.0" r="1.2"/><circle cx="1097.8" cy="454.2" r="1.2"/><circle cx="1098.1" cy="442.3" r="1.2"/><circle cx="1098.3" cy="457.1" r="1.2"/><circle cx="1098.5" cy="456.1" r="1.2"/><circle cx="1098.7" cy="452.3" r="1.2"/><circle cx="1098.9" cy="441.7" r="1.2"/><circle cx="1099.1" cy="465.1" r="1.2"/><circle cx="1099.4" cy="425.6" r="1.2"/><circle cx="1099.6" cy="445.1" r="1.2"/><circle cx="1099.8" cy="456.1" r="1.2"/><circle cx="1100.0" cy="453.0" r="1.2"/><circle cx="1100.2" cy="441.0" r="1.2"/><circle cx="1100.4" cy="450.9" r="1.2"/><circle cx="1100.7" cy="448.0" r="1.2"/><circle cx="1100.9" cy="459.9" r="1.2"/><circle cx="1101.1" cy="443.7" r="1.2"/><circle cx="1101.3" cy="455.2" r="1.2"/><circle cx="1101.5" cy="441.3" r="1.2"/><circle cx="1101.7" cy="455.3" r="1.2"/><circle cx="1102.0" cy="445.4" r="1.2"/><circle cx="1102.2" cy="465.5" r="1.2"/><circle cx="1102.4" cy="446.6" r="1.2"/><circle cx="1102.6" cy="444.3" r="1.2"/><circle cx="1102.8" cy="447.8" r="1.2"/><circle cx="1104.6" cy="459.3" r="1.2"/><circle cx="1104.8" cy="460.9" r="1.2"/><circle cx="1105.0" cy="450.5" r="1.2"/><circle cx="1105.2" cy="462.5" r="1.2"/><circle cx="1105.4" cy="455.2" r="1.2"/><circle cx="1105.7" cy="439.0" r="1.2"/><circle cx="1105.9" cy="460.4" r="1.2"/><circle cx="1106.1" cy="462.4" r="1.2"/><circle cx="1106.3" cy="459.9" r="1.2"/><circle cx="1106.5" cy="462.1" r="1.2"/><circle cx="1106.7" cy="464.8" r="1.2"/><circle cx="1107.0" cy="457.6" r="1.2"/><circle cx="1107.2" cy="452.7" r="1.2"/><circle cx="1107.4" cy="451.1" r="1.2"/><circle cx="1107.6" cy="465.2" r="1.2"/><circle cx="1107.8" cy="453.8" r="1.2"/><circle cx="1108.0" cy="449.2" r="1.2"/><circle cx="1108.3" cy="452.3" r="1.2"/><circle cx="1108.5" cy="459.9" r="1.2"/><circle cx="1108.7" cy="446.3" r="1.2"/><circle cx="1108.9" cy="446.2" r="1.2"/><circle cx="1109.1" cy="454.8" r="1.2"/><circle cx="1109.4" cy="457.4" r="1.2"/><circle cx="1109.6" cy="455.9" r="1.2"/><circle cx="1109.8" cy="448.6" r="1.2"/><circle cx="1110.0" cy="456.0" r="1.2"/><circle cx="1110.2" cy="454.0" r="1.2"/><circle cx="1110.4" cy="449.9" r="1.2"/><circle cx="1110.7" cy="447.5" r="1.2"/><circle cx="1110.9" cy="460.4" r="1.2"/><circle cx="1111.1" cy="448.6" r="1.2"/><circle cx="1111.3" cy="442.5" r="1.2"/><circle cx="1111.5" cy="446.0" r="1.2"/><circle cx="1111.7" cy="448.8" r="1.2"/><circle cx="1112.0" cy="459.9" r="1.2"/><circle cx="1112.2" cy="435.8" r="1.2"/><circle cx="1113.9" cy="432.3" r="1.2"/><circle cx="1114.1" cy="459.9" r="1.2"/><circle cx="1114.4" cy="457.6" r="1.2"/><circle cx="1114.6" cy="453.6" r="1.2"/><circle cx="1114.8" cy="457.3" r="1.2"/><circle cx="1115.0" cy="459.1" r="1.2"/><circle cx="1115.2" cy="451.9" r="1.2"/><circle cx="1115.4" cy="465.9" r="1.2"/><circle cx="1115.7" cy="450.6" r="1.2"/><circle cx="1115.9" cy="457.4" r="1.2"/><circle cx="1116.1" cy="444.7" r="1.2"/><circle cx="1116.3" cy="463.7" r="1.2"/><circle cx="1116.5" cy="449.4" r="1.2"/><circle cx="1116.7" cy="451.0" r="1.2"/><circle cx="1117.0" cy="460.2" r="1.2"/><circle cx="1117.2" cy="453.4" r="1.2"/><circle cx="1117.4" cy="467.9" r="1.2"/><circle cx="1117.6" cy="461.6" r="1.2"/><circle cx="1117.8" cy="446.7" r="1.2"/><circle cx="1118.0" cy="440.2" r="1.2"/><circle cx="1118.3" cy="460.0" r="1.2"/><circle cx="1118.5" cy="446.9" r="1.2"/><circle cx="1118.7" cy="437.7" r="1.2"/><circle cx="1118.9" cy="453.9" r="1.2"/><circle cx="1119.1" cy="422.9" r="1.2"/><circle cx="1119.3" cy="462.1" r="1.2"/><circle cx="1119.6" cy="450.8" r="1.2"/><circle cx="1119.8" cy="457.4" r="1.2"/><circle cx="1120.0" cy="447.9" r="1.2"/><circle cx="1120.2" cy="438.9" r="1.2"/><circle cx="1120.4" cy="454.3" r="1.2"/><circle cx="1120.7" cy="446.4" r="1.2"/><circle cx="1120.9" cy="447.1" r="1.2"/><circle cx="1121.1" cy="456.4" r="1.2"/><circle cx="1121.3" cy="450.0" r="1.2"/><circle cx="1121.5" cy="447.0" r="1.2"/><circle cx="1123.3" cy="455.9" r="1.2"/><circle cx="1123.5" cy="459.1" r="1.2"/><circle cx="1123.7" cy="449.1" r="1.2"/><circle cx="1123.9" cy="454.1" r="1.2"/><circle cx="1124.1" cy="468.9" r="1.2"/><circle cx="1124.3" cy="444.8" r="1.2"/><circle cx="1124.6" cy="457.9" r="1.2"/><circle cx="1124.8" cy="458.7" r="1.2"/><circle cx="1125.0" cy="454.0" r="1.2"/><circle cx="1125.2" cy="449.2" r="1.2"/><circle cx="1125.4" cy="448.5" r="1.2"/><circle cx="1125.6" cy="454.0" r="1.2"/><circle cx="1125.9" cy="456.2" r="1.2"/><circle cx="1126.1" cy="460.7" r="1.2"/><circle cx="1126.3" cy="447.6" r="1.2"/><circle cx="1126.5" cy="458.1" r="1.2"/><circle cx="1126.7" cy="438.9" r="1.2"/><circle cx="1127.0" cy="447.7" r="1.2"/><circle cx="1127.2" cy="428.3" r="1.2"/><circle cx="1127.4" cy="457.8" r="1.2"/><circle cx="1127.6" cy="456.3" r="1.2"/><circle cx="1127.8" cy="454.6" r="1.2"/><circle cx="1128.0" cy="449.4" r="1.2"/><circle cx="1128.3" cy="462.9" r="1.2"/><circle cx="1128.5" cy="457.8" r="1.2"/><circle cx="1128.7" cy="462.3" r="1.2"/><circle cx="1128.9" cy="450.4" r="1.2"/><circle cx="1129.1" cy="447.0" r="1.2"/><circle cx="1129.3" cy="447.2" r="1.2"/><circle cx="1129.6" cy="452.9" r="1.2"/><circle cx="1129.8" cy="453.9" r="1.2"/><circle cx="1130.0" cy="453.7" r="1.2"/><circle cx="1130.2" cy="462.6" r="1.2"/><circle cx="1130.4" cy="466.3" r="1.2"/><circle cx="1130.6" cy="452.4" r="1.2"/><circle cx="1130.9" cy="452.9" r="1.2"/><circle cx="1138.0" cy="469.6" r="1.2"/><circle cx="1138.3" cy="460.4" r="1.2"/><circle cx="1138.5" cy="464.0" r="1.2"/><circle cx="1138.7" cy="459.1" r="1.2"/><circle cx="1138.9" cy="465.4" r="1.2"/><circle cx="1139.1" cy="448.3" r="1.2"/><circle cx="1139.3" cy="467.3" r="1.2"/><circle cx="1139.6" cy="453.8" r="1.2"/><circle cx="1139.8" cy="449.2" r="1.2"/><circle cx="1140.0" cy="465.6" r="1.2"/><circle cx="1140.2" cy="462.7" r="1.2"/><circle cx="1140.4" cy="453.6" r="1.2"/><circle cx="1140.6" cy="451.6" r="1.2"/><circle cx="1140.9" cy="474.0" r="1.2"/><circle cx="1141.1" cy="450.7" r="1.2"/><circle cx="1141.3" cy="460.7" r="1.2"/><circle cx="1141.5" cy="459.6" r="1.2"/><circle cx="1141.7" cy="449.6" r="1.2"/><circle cx="1141.9" cy="441.0" r="1.2"/><circle cx="1142.2" cy="458.9" r="1.2"/><circle cx="1142.4" cy="443.2" r="1.2"/><circle cx="1142.6" cy="453.8" r="1.2"/><circle cx="1142.8" cy="456.0" r="1.2"/><circle cx="1143.0" cy="449.6" r="1.2"/><circle cx="1143.2" cy="455.7" r="1.2"/><circle cx="1143.5" cy="445.6" r="1.2"/><circle cx="1143.7" cy="448.6" r="1.2"/><circle cx="1143.9" cy="451.4" r="1.2"/><circle cx="1144.1" cy="446.3" r="1.2"/><circle cx="1144.3" cy="463.9" r="1.2"/><circle cx="1144.6" cy="441.7" r="1.2"/><circle cx="1144.8" cy="452.1" r="1.2"/><circle cx="1145.0" cy="448.5" r="1.2"/><circle cx="1145.2" cy="446.0" r="1.2"/><circle cx="1145.4" cy="443.8" r="1.2"/><circle cx="1145.6" cy="432.9" r="1.2"/><circle cx="1147.4" cy="454.8" r="1.2"/><circle cx="1147.6" cy="447.8" r="1.2"/><circle cx="1147.8" cy="461.4" r="1.2"/><circle cx="1148.0" cy="449.4" r="1.2"/><circle cx="1148.2" cy="459.7" r="1.2"/><circle cx="1148.5" cy="451.4" r="1.2"/><circle cx="1148.7" cy="451.5" r="1.2"/><circle cx="1148.9" cy="440.2" r="1.2"/><circle cx="1149.1" cy="456.0" r="1.2"/><circle cx="1149.3" cy="448.3" r="1.2"/><circle cx="1149.5" cy="456.5" r="1.2"/><circle cx="1149.8" cy="439.2" r="1.2"/><circle cx="1150.0" cy="451.1" r="1.2"/><circle cx="1150.2" cy="440.7" r="1.2"/><circle cx="1150.4" cy="453.8" r="1.2"/><circle cx="1150.6" cy="452.8" r="1.2"/><circle cx="1150.9" cy="453.0" r="1.2"/><circle cx="1151.1" cy="456.7" r="1.2"/><circle cx="1151.3" cy="438.7" r="1.2"/><circle cx="1151.5" cy="457.6" r="1.2"/><circle cx="1151.7" cy="445.6" r="1.2"/><circle cx="1151.9" cy="442.1" r="1.2"/><circle cx="1152.2" cy="445.6" r="1.2"/><circle cx="1152.4" cy="459.4" r="1.2"/><circle cx="1152.6" cy="450.9" r="1.2"/><circle cx="1152.8" cy="459.1" r="1.2"/><circle cx="1153.0" cy="455.8" r="1.2"/><circle cx="1153.2" cy="430.1" r="1.2"/><circle cx="1153.5" cy="438.3" r="1.2"/><circle cx="1153.7" cy="450.4" r="1.2"/><circle cx="1153.9" cy="444.1" r="1.2"/><circle cx="1154.1" cy="436.2" r="1.2"/><circle cx="1154.3" cy="441.5" r="1.2"/><circle cx="1154.5" cy="449.1" r="1.2"/><circle cx="1154.8" cy="429.7" r="1.2"/><circle cx="1155.0" cy="434.0" r="1.2"/><circle cx="1156.7" cy="461.1" r="1.2"/><circle cx="1156.9" cy="447.4" r="1.2"/><circle cx="1157.2" cy="463.3" r="1.2"/><circle cx="1157.4" cy="459.9" r="1.2"/><circle cx="1157.6" cy="444.5" r="1.2"/><circle cx="1157.8" cy="459.2" r="1.2"/><circle cx="1158.0" cy="459.1" r="1.2"/><circle cx="1158.2" cy="458.5" r="1.2"/><circle cx="1158.5" cy="452.8" r="1.2"/><circle cx="1158.7" cy="455.5" r="1.2"/><circle cx="1158.9" cy="451.5" r="1.2"/><circle cx="1159.1" cy="466.5" r="1.2"/><circle cx="1159.3" cy="454.2" r="1.2"/><circle cx="1159.5" cy="453.7" r="1.2"/><circle cx="1159.8" cy="463.0" r="1.2"/><circle cx="1160.0" cy="453.5" r="1.2"/><circle cx="1160.2" cy="444.0" r="1.2"/><circle cx="1160.4" cy="456.2" r="1.2"/><circle cx="1160.6" cy="453.9" r="1.2"/><circle cx="1160.8" cy="468.1" r="1.2"/><circle cx="1161.1" cy="455.2" r="1.2"/><circle cx="1161.3" cy="449.3" r="1.2"/><circle cx="1161.5" cy="450.5" r="1.2"/><circle cx="1161.7" cy="464.2" r="1.2"/><circle cx="1161.9" cy="465.3" r="1.2"/><circle cx="1162.2" cy="450.1" r="1.2"/><circle cx="1162.4" cy="449.0" r="1.2"/><circle cx="1162.6" cy="451.4" r="1.2"/><circle cx="1162.8" cy="439.5" r="1.2"/><circle cx="1163.0" cy="452.7" r="1.2"/><circle cx="1163.2" cy="450.4" r="1.2"/><circle cx="1163.5" cy="457.1" r="1.2"/><circle cx="1163.7" cy="454.5" r="1.2"/><circle cx="1163.9" cy="461.6" r="1.2"/><circle cx="1164.1" cy="443.7" r="1.2"/><circle cx="1164.3" cy="442.7" r="1.2"/><circle cx="1166.1" cy="456.1" r="1.2"/><circle cx="1166.3" cy="452.5" r="1.2"/><circle cx="1166.5" cy="453.2" r="1.2"/><circle cx="1166.7" cy="446.2" r="1.2"/><circle cx="1166.9" cy="441.3" r="1.2"/><circle cx="1167.1" cy="450.8" r="1.2"/><circle cx="1167.4" cy="463.0" r="1.2"/><circle cx="1167.6" cy="446.4" r="1.2"/><circle cx="1167.8" cy="441.8" r="1.2"/><circle cx="1168.0" cy="450.0" r="1.2"/><circle cx="1168.2" cy="447.9" r="1.2"/><circle cx="1168.5" cy="456.6" r="1.2"/><circle cx="1168.7" cy="464.1" r="1.2"/><circle cx="1168.9" cy="442.2" r="1.2"/><circle cx="1169.1" cy="449.3" r="1.2"/><circle cx="1169.3" cy="442.1" r="1.2"/><circle cx="1169.5" cy="452.3" r="1.2"/><circle cx="1169.8" cy="446.0" r="1.2"/><circle cx="1170.0" cy="450.3" r="1.2"/><circle cx="1170.2" cy="458.4" r="1.2"/><circle cx="1170.4" cy="454.5" r="1.2"/><circle cx="1170.6" cy="453.2" r="1.2"/><circle cx="1170.8" cy="445.4" r="1.2"/><circle cx="1171.1" cy="445.4" r="1.2"/><circle cx="1171.3" cy="461.3" r="1.2"/><circle cx="1171.5" cy="452.4" r="1.2"/><circle cx="1171.7" cy="456.0" r="1.2"/><circle cx="1171.9" cy="455.3" r="1.2"/><circle cx="1172.1" cy="440.8" r="1.2"/><circle cx="1172.4" cy="450.7" r="1.2"/><circle cx="1172.6" cy="438.5" r="1.2"/><circle cx="1172.8" cy="442.6" r="1.2"/><circle cx="1173.0" cy="453.1" r="1.2"/><circle cx="1173.2" cy="448.3" r="1.2"/><circle cx="1173.5" cy="427.2" r="1.2"/><circle cx="1173.7" cy="439.9" r="1.2"/><circle cx="1180.8" cy="487.2" r="1.2"/><circle cx="1181.1" cy="471.9" r="1.2"/><circle cx="1181.3" cy="478.1" r="1.2"/><circle cx="1181.5" cy="476.0" r="1.2"/><circle cx="1181.7" cy="486.3" r="1.2"/><circle cx="1181.9" cy="475.5" r="1.2"/><circle cx="1182.1" cy="482.8" r="1.2"/><circle cx="1182.4" cy="475.7" r="1.2"/><circle cx="1182.6" cy="464.2" r="1.2"/><circle cx="1182.8" cy="467.8" r="1.2"/><circle cx="1183.0" cy="467.8" r="1.2"/><circle cx="1183.2" cy="482.3" r="1.2"/><circle cx="1183.4" cy="471.3" r="1.2"/><circle cx="1183.7" cy="461.7" r="1.2"/><circle cx="1183.9" cy="476.8" r="1.2"/><circle cx="1184.1" cy="465.0" r="1.2"/><circle cx="1184.3" cy="466.0" r="1.2"/><circle cx="1184.5" cy="460.7" r="1.2"/><circle cx="1184.7" cy="486.3" r="1.2"/><circle cx="1185.0" cy="473.3" r="1.2"/><circle cx="1185.2" cy="467.0" r="1.2"/><circle cx="1185.4" cy="466.7" r="1.2"/><circle cx="1185.6" cy="467.6" r="1.2"/><circle cx="1185.8" cy="450.0" r="1.2"/><circle cx="1186.1" cy="452.8" r="1.2"/><circle cx="1186.3" cy="462.1" r="1.2"/><circle cx="1186.5" cy="468.2" r="1.2"/><circle cx="1186.7" cy="470.8" r="1.2"/><circle cx="1186.9" cy="452.5" r="1.2"/><circle cx="1187.1" cy="453.4" r="1.2"/><circle cx="1187.4" cy="453.9" r="1.2"/><circle cx="1187.6" cy="448.4" r="1.2"/><circle cx="1187.8" cy="441.8" r="1.2"/><circle cx="1188.0" cy="453.9" r="1.2"/><circle cx="1188.2" cy="464.0" r="1.2"/><circle cx="1188.4" cy="455.3" r="1.2"/><circle cx="1190.2" cy="459.2" r="1.2"/><circle cx="1190.4" cy="473.4" r="1.2"/><circle cx="1190.6" cy="467.4" r="1.2"/><circle cx="1190.8" cy="467.9" r="1.2"/><circle cx="1191.1" cy="463.4" r="1.2"/><circle cx="1191.3" cy="460.6" r="1.2"/><circle cx="1191.5" cy="466.0" r="1.2"/><circle cx="1191.7" cy="471.5" r="1.2"/><circle cx="1191.9" cy="470.4" r="1.2"/><circle cx="1192.1" cy="467.0" r="1.2"/><circle cx="1192.4" cy="476.3" r="1.2"/><circle cx="1192.6" cy="468.3" r="1.2"/><circle cx="1192.8" cy="462.9" r="1.2"/><circle cx="1193.0" cy="454.5" r="1.2"/><circle cx="1193.2" cy="457.6" r="1.2"/><circle cx="1193.4" cy="469.7" r="1.2"/><circle cx="1193.7" cy="456.4" r="1.2"/><circle cx="1193.9" cy="453.3" r="1.2"/><circle cx="1194.1" cy="446.4" r="1.2"/><circle cx="1194.3" cy="462.7" r="1.2"/><circle cx="1194.5" cy="470.4" r="1.2"/><circle cx="1194.7" cy="450.3" r="1.2"/><circle cx="1195.0" cy="455.8" r="1.2"/><circle cx="1195.2" cy="467.1" r="1.2"/><circle cx="1195.4" cy="464.8" r="1.2"/><circle cx="1195.6" cy="458.3" r="1.2"/><circle cx="1195.8" cy="451.2" r="1.2"/><circle cx="1196.0" cy="468.3" r="1.2"/><circle cx="1196.3" cy="461.9" r="1.2"/><circle cx="1196.5" cy="457.9" r="1.2"/><circle cx="1196.7" cy="464.1" r="1.2"/><circle cx="1196.9" cy="454.8" r="1.2"/><circle cx="1197.1" cy="456.1" r="1.2"/><circle cx="1197.4" cy="460.0" r="1.2"/><circle cx="1197.6" cy="467.8" r="1.2"/><circle cx="1197.8" cy="454.6" r="1.2"/><circle cx="1211.3" cy="471.3" r="1.2"/><circle cx="1211.5" cy="479.9" r="1.2"/><circle cx="1211.7" cy="487.5" r="1.2"/><circle cx="1211.9" cy="465.7" r="1.2"/><circle cx="1212.1" cy="471.9" r="1.2"/><circle cx="1212.3" cy="468.2" r="1.2"/><circle cx="1212.6" cy="459.3" r="1.2"/><circle cx="1212.8" cy="473.8" r="1.2"/><circle cx="1213.0" cy="465.9" r="1.2"/><circle cx="1213.2" cy="464.8" r="1.2"/><circle cx="1213.4" cy="465.9" r="1.2"/><circle cx="1213.6" cy="458.3" r="1.2"/><circle cx="1213.9" cy="468.8" r="1.2"/><circle cx="1214.1" cy="471.8" r="1.2"/><circle cx="1214.3" cy="454.3" r="1.2"/><circle cx="1214.5" cy="469.1" r="1.2"/><circle cx="1214.7" cy="467.0" r="1.2"/><circle cx="1215.0" cy="455.4" r="1.2"/><circle cx="1215.2" cy="439.4" r="1.2"/><circle cx="1215.4" cy="457.5" r="1.2"/><circle cx="1215.6" cy="463.3" r="1.2"/><circle cx="1215.8" cy="448.1" r="1.2"/><circle cx="1216.0" cy="452.8" r="1.2"/><circle cx="1216.3" cy="452.9" r="1.2"/><circle cx="1216.5" cy="457.2" r="1.2"/><circle cx="1216.7" cy="466.3" r="1.2"/><circle cx="1216.9" cy="453.4" r="1.2"/><circle cx="1217.1" cy="457.5" r="1.2"/><circle cx="1217.3" cy="460.5" r="1.2"/><circle cx="1217.6" cy="459.2" r="1.2"/><circle cx="1217.8" cy="449.2" r="1.2"/><circle cx="1218.0" cy="460.7" r="1.2"/><circle cx="1218.2" cy="462.4" r="1.2"/><circle cx="1218.4" cy="452.5" r="1.2"/><circle cx="1218.6" cy="446.6" r="1.2"/><circle cx="1218.9" cy="448.9" r="1.2"/><circle cx="1220.6" cy="466.0" r="1.2"/><circle cx="1220.8" cy="458.4" r="1.2"/><circle cx="1221.0" cy="473.9" r="1.2"/><circle cx="1221.3" cy="463.3" r="1.2"/><circle cx="1221.5" cy="467.0" r="1.2"/><circle cx="1221.7" cy="469.4" r="1.2"/><circle cx="1221.9" cy="458.4" r="1.2"/><circle cx="1222.1" cy="463.6" r="1.2"/><circle cx="1222.3" cy="455.8" r="1.2"/><circle cx="1222.6" cy="468.4" r="1.2"/><circle cx="1222.8" cy="460.9" r="1.2"/><circle cx="1223.0" cy="461.8" r="1.2"/><circle cx="1223.2" cy="461.2" r="1.2"/><circle cx="1223.4" cy="454.2" r="1.2"/><circle cx="1223.6" cy="455.9" r="1.2"/><circle cx="1223.9" cy="457.3" r="1.2"/><circle cx="1224.1" cy="462.7" r="1.2"/><circle cx="1224.3" cy="453.5" r="1.2"/><circle cx="1224.5" cy="457.6" r="1.2"/><circle cx="1224.7" cy="472.0" r="1.2"/><circle cx="1224.9" cy="455.3" r="1.2"/><circle cx="1225.2" cy="467.9" r="1.2"/><circle cx="1225.4" cy="461.3" r="1.2"/><circle cx="1225.6" cy="458.2" r="1.2"/><circle cx="1225.8" cy="442.8" r="1.2"/><circle cx="1226.0" cy="454.8" r="1.2"/><circle cx="1226.2" cy="461.2" r="1.2"/><circle cx="1226.5" cy="452.1" r="1.2"/><circle cx="1226.7" cy="471.5" r="1.2"/><circle cx="1226.9" cy="453.1" r="1.2"/><circle cx="1227.1" cy="454.6" r="1.2"/><circle cx="1227.3" cy="457.8" r="1.2"/><circle cx="1227.6" cy="462.3" r="1.2"/><circle cx="1227.8" cy="454.6" r="1.2"/><circle cx="1228.0" cy="457.2" r="1.2"/><circle cx="1228.2" cy="459.8" r="1.2"/><circle cx="1229.9" cy="451.7" r="1.2"/><circle cx="1230.2" cy="453.5" r="1.2"/><circle cx="1230.4" cy="455.7" r="1.2"/><circle cx="1230.6" cy="466.6" r="1.2"/><circle cx="1230.8" cy="456.8" r="1.2"/><circle cx="1231.0" cy="471.9" r="1.2"/><circle cx="1231.2" cy="455.6" r="1.2"/><circle cx="1231.5" cy="460.2" r="1.2"/><circle cx="1231.7" cy="464.1" r="1.2"/><circle cx="1231.9" cy="453.3" r="1.2"/><circle cx="1232.1" cy="457.5" r="1.2"/><circle cx="1232.3" cy="470.2" r="1.2"/><circle cx="1232.6" cy="466.8" r="1.2"/><circle cx="1232.8" cy="438.7" r="1.2"/><circle cx="1233.0" cy="444.3" r="1.2"/><circle cx="1233.2" cy="460.8" r="1.2"/><circle cx="1233.4" cy="455.9" r="1.2"/><circle cx="1233.6" cy="469.0" r="1.2"/><circle cx="1233.9" cy="457.8" r="1.2"/><circle cx="1234.1" cy="458.5" r="1.2"/><circle cx="1234.3" cy="458.8" r="1.2"/><circle cx="1234.5" cy="456.9" r="1.2"/><circle cx="1234.7" cy="457.8" r="1.2"/><circle cx="1234.9" cy="458.3" r="1.2"/><circle cx="1235.2" cy="461.7" r="1.2"/><circle cx="1235.4" cy="452.5" r="1.2"/><circle cx="1235.6" cy="479.7" r="1.2"/><circle cx="1235.8" cy="465.0" r="1.2"/><circle cx="1236.0" cy="446.2" r="1.2"/><circle cx="1236.2" cy="455.8" r="1.2"/><circle cx="1236.5" cy="442.2" r="1.2"/><circle cx="1236.7" cy="452.5" r="1.2"/><circle cx="1236.9" cy="460.3" r="1.2"/><circle cx="1237.1" cy="447.2" r="1.2"/><circle cx="1237.3" cy="458.0" r="1.2"/><circle cx="1237.5" cy="446.5" r="1.2"/><circle cx="1244.1" cy="491.7" r="1.2"/><circle cx="1244.3" cy="489.2" r="1.2"/><circle cx="1244.5" cy="478.9" r="1.2"/><circle cx="1244.7" cy="458.1" r="1.2"/><circle cx="1244.9" cy="476.9" r="1.2"/><circle cx="1245.2" cy="469.8" r="1.2"/><circle cx="1245.4" cy="457.0" r="1.2"/><circle cx="1245.6" cy="470.5" r="1.2"/><circle cx="1245.8" cy="489.9" r="1.2"/><circle cx="1246.0" cy="474.9" r="1.2"/><circle cx="1246.2" cy="467.9" r="1.2"/><circle cx="1246.5" cy="466.0" r="1.2"/><circle cx="1246.7" cy="462.6" r="1.2"/><circle cx="1246.9" cy="465.7" r="1.2"/><circle cx="1247.1" cy="462.9" r="1.2"/><circle cx="1247.3" cy="455.2" r="1.2"/><circle cx="1247.5" cy="468.4" r="1.2"/><circle cx="1247.8" cy="467.5" r="1.2"/><circle cx="1248.0" cy="465.4" r="1.2"/><circle cx="1248.2" cy="469.1" r="1.2"/><circle cx="1248.4" cy="462.9" r="1.2"/><circle cx="1248.6" cy="469.9" r="1.2"/><circle cx="1248.8" cy="468.4" r="1.2"/><circle cx="1249.1" cy="468.5" r="1.2"/><circle cx="1249.3" cy="458.5" r="1.2"/><circle cx="1249.5" cy="467.4" r="1.2"/><circle cx="1249.7" cy="458.6" r="1.2"/><circle cx="1249.9" cy="446.6" r="1.2"/><circle cx="1250.2" cy="441.2" r="1.2"/><circle cx="1250.4" cy="457.3" r="1.2"/><circle cx="1250.6" cy="463.9" r="1.2"/><circle cx="1250.8" cy="461.2" r="1.2"/><circle cx="1251.0" cy="468.5" r="1.2"/><circle cx="1251.2" cy="453.2" r="1.2"/><circle cx="1251.5" cy="436.0" r="1.2"/><circle cx="1251.7" cy="460.6" r="1.2"/><circle cx="1253.4" cy="473.8" r="1.2"/><circle cx="1253.6" cy="471.1" r="1.2"/><circle cx="1253.8" cy="481.2" r="1.2"/><circle cx="1254.1" cy="467.4" r="1.2"/><circle cx="1254.3" cy="466.8" r="1.2"/><circle cx="1254.5" cy="473.7" r="1.2"/><circle cx="1254.7" cy="466.4" r="1.2"/><circle cx="1254.9" cy="469.0" r="1.2"/><circle cx="1255.1" cy="465.6" r="1.2"/><circle cx="1255.4" cy="466.5" r="1.2"/><circle cx="1255.6" cy="461.0" r="1.2"/><circle cx="1255.8" cy="461.5" r="1.2"/><circle cx="1256.0" cy="464.2" r="1.2"/><circle cx="1256.2" cy="471.9" r="1.2"/><circle cx="1256.5" cy="453.1" r="1.2"/><circle cx="1256.7" cy="473.1" r="1.2"/><circle cx="1256.9" cy="462.8" r="1.2"/><circle cx="1257.1" cy="457.6" r="1.2"/><circle cx="1257.3" cy="456.6" r="1.2"/><circle cx="1257.5" cy="467.9" r="1.2"/><circle cx="1257.8" cy="463.0" r="1.2"/><circle cx="1258.0" cy="459.0" r="1.2"/><circle cx="1258.2" cy="467.4" r="1.2"/><circle cx="1258.4" cy="465.9" r="1.2"/><circle cx="1258.6" cy="464.7" r="1.2"/><circle cx="1258.8" cy="466.8" r="1.2"/><circle cx="1259.1" cy="469.8" r="1.2"/><circle cx="1259.3" cy="461.9" r="1.2"/><circle cx="1259.5" cy="466.3" r="1.2"/><circle cx="1259.7" cy="444.7" r="1.2"/><circle cx="1259.9" cy="459.5" r="1.2"/><circle cx="1260.1" cy="448.8" r="1.2"/><circle cx="1260.4" cy="461.8" r="1.2"/><circle cx="1260.6" cy="457.2" r="1.2"/><circle cx="1260.8" cy="448.8" r="1.2"/><circle cx="1261.0" cy="455.0" r="1.2"/><circle cx="1262.8" cy="469.5" r="1.2"/><circle cx="1263.0" cy="480.4" r="1.2"/><circle cx="1263.2" cy="473.4" r="1.2"/><circle cx="1263.4" cy="466.0" r="1.2"/><circle cx="1263.6" cy="464.9" r="1.2"/><circle cx="1263.8" cy="474.4" r="1.2"/><circle cx="1264.1" cy="480.8" r="1.2"/><circle cx="1264.3" cy="471.3" r="1.2"/><circle cx="1264.5" cy="460.2" r="1.2"/><circle cx="1264.7" cy="463.8" r="1.2"/><circle cx="1264.9" cy="480.4" r="1.2"/><circle cx="1265.1" cy="472.6" r="1.2"/><circle cx="1265.4" cy="471.7" r="1.2"/><circle cx="1265.6" cy="472.0" r="1.2"/><circle cx="1265.8" cy="479.9" r="1.2"/><circle cx="1266.0" cy="475.8" r="1.2"/><circle cx="1266.2" cy="468.9" r="1.2"/><circle cx="1266.4" cy="466.7" r="1.2"/><circle cx="1266.7" cy="456.8" r="1.2"/><circle cx="1266.9" cy="470.0" r="1.2"/><circle cx="1267.1" cy="463.1" r="1.2"/><circle cx="1267.3" cy="473.1" r="1.2"/><circle cx="1267.5" cy="457.4" r="1.2"/><circle cx="1267.7" cy="463.1" r="1.2"/><circle cx="1268.0" cy="461.5" r="1.2"/><circle cx="1268.2" cy="454.3" r="1.2"/><circle cx="1268.4" cy="481.8" r="1.2"/><circle cx="1268.6" cy="451.3" r="1.2"/><circle cx="1268.8" cy="468.3" r="1.2"/><circle cx="1269.1" cy="463.6" r="1.2"/><circle cx="1269.3" cy="450.3" r="1.2"/><circle cx="1269.5" cy="462.0" r="1.2"/><circle cx="1269.7" cy="457.7" r="1.2"/><circle cx="1269.9" cy="466.0" r="1.2"/><circle cx="1270.1" cy="458.3" r="1.2"/><circle cx="1270.4" cy="450.3" r="1.2"/><circle cx="1272.1" cy="480.7" r="1.2"/><circle cx="1272.3" cy="471.2" r="1.2"/><circle cx="1272.5" cy="467.8" r="1.2"/><circle cx="1272.7" cy="467.2" r="1.2"/><circle cx="1273.0" cy="466.6" r="1.2"/><circle cx="1273.2" cy="463.2" r="1.2"/><circle cx="1273.4" cy="461.7" r="1.2"/><circle cx="1273.6" cy="466.4" r="1.2"/><circle cx="1273.8" cy="468.6" r="1.2"/><circle cx="1274.1" cy="444.8" r="1.2"/><circle cx="1274.3" cy="462.9" r="1.2"/><circle cx="1274.5" cy="464.1" r="1.2"/><circle cx="1274.7" cy="458.2" r="1.2"/><circle cx="1274.9" cy="460.8" r="1.2"/><circle cx="1275.1" cy="462.7" r="1.2"/><circle cx="1275.4" cy="462.0" r="1.2"/><circle cx="1275.6" cy="467.9" r="1.2"/><circle cx="1275.8" cy="469.7" r="1.2"/><circle cx="1276.0" cy="469.1" r="1.2"/><circle cx="1276.2" cy="468.7" r="1.2"/><circle cx="1276.4" cy="469.9" r="1.2"/><circle cx="1276.7" cy="468.5" r="1.2"/><circle cx="1276.9" cy="457.3" r="1.2"/><circle cx="1277.1" cy="462.2" r="1.2"/><circle cx="1277.3" cy="469.2" r="1.2"/><circle cx="1277.5" cy="469.6" r="1.2"/><circle cx="1277.7" cy="464.1" r="1.2"/><circle cx="1278.0" cy="468.4" r="1.2"/><circle cx="1278.2" cy="467.5" r="1.2"/><circle cx="1278.4" cy="465.4" r="1.2"/><circle cx="1278.6" cy="472.5" r="1.2"/><circle cx="1278.8" cy="466.0" r="1.2"/><circle cx="1279.0" cy="475.8" r="1.2"/><circle cx="1279.3" cy="455.3" r="1.2"/><circle cx="1279.5" cy="465.3" r="1.2"/><circle cx="1279.7" cy="464.2" r="1.2"/><circle cx="1286.9" cy="497.7" r="1.2"/><circle cx="1287.1" cy="492.1" r="1.2"/><circle cx="1287.3" cy="473.1" r="1.2"/><circle cx="1287.5" cy="483.4" r="1.2"/><circle cx="1287.7" cy="496.5" r="1.2"/><circle cx="1288.0" cy="479.6" r="1.2"/><circle cx="1288.2" cy="473.2" r="1.2"/><circle cx="1288.4" cy="481.0" r="1.2"/><circle cx="1288.6" cy="476.3" r="1.2"/><circle cx="1288.8" cy="464.4" r="1.2"/><circle cx="1289.0" cy="460.3" r="1.2"/><circle cx="1289.3" cy="465.3" r="1.2"/><circle cx="1289.5" cy="466.5" r="1.2"/><circle cx="1289.7" cy="470.6" r="1.2"/><circle cx="1289.9" cy="472.4" r="1.2"/><circle cx="1290.1" cy="466.2" r="1.2"/><circle cx="1290.3" cy="470.1" r="1.2"/><circle cx="1290.6" cy="467.9" r="1.2"/><circle cx="1290.8" cy="462.5" r="1.2"/><circle cx="1291.0" cy="457.2" r="1.2"/><circle cx="1291.2" cy="462.4" r="1.2"/><circle cx="1291.4" cy="470.7" r="1.2"/><circle cx="1291.7" cy="462.8" r="1.2"/><circle cx="1291.9" cy="458.5" r="1.2"/><circle cx="1292.1" cy="475.4" r="1.2"/><circle cx="1292.3" cy="461.0" r="1.2"/><circle cx="1292.5" cy="461.2" r="1.2"/><circle cx="1292.7" cy="469.2" r="1.2"/><circle cx="1293.0" cy="462.2" r="1.2"/><circle cx="1293.2" cy="462.4" r="1.2"/><circle cx="1293.4" cy="464.1" r="1.2"/><circle cx="1293.6" cy="457.2" r="1.2"/><circle cx="1293.8" cy="458.7" r="1.2"/><circle cx="1294.0" cy="461.3" r="1.2"/><circle cx="1294.3" cy="456.6" r="1.2"/><circle cx="1294.5" cy="454.5" r="1.2"/><circle cx="1296.2" cy="464.7" r="1.2"/><circle cx="1296.4" cy="463.6" r="1.2"/><circle cx="1296.6" cy="481.7" r="1.2"/><circle cx="1296.9" cy="463.4" r="1.2"/><circle cx="1297.1" cy="470.0" r="1.2"/><circle cx="1297.3" cy="472.4" r="1.2"/><circle cx="1297.5" cy="472.2" r="1.2"/><circle cx="1297.7" cy="457.0" r="1.2"/><circle cx="1298.0" cy="469.4" r="1.2"/><circle cx="1298.2" cy="473.1" r="1.2"/><circle cx="1298.4" cy="468.9" r="1.2"/><circle cx="1298.6" cy="464.1" r="1.2"/><circle cx="1298.8" cy="476.6" r="1.2"/><circle cx="1299.0" cy="467.8" r="1.2"/><circle cx="1299.3" cy="461.9" r="1.2"/><circle cx="1299.5" cy="468.0" r="1.2"/><circle cx="1299.7" cy="458.9" r="1.2"/><circle cx="1299.9" cy="465.3" r="1.2"/><circle cx="1300.1" cy="465.8" r="1.2"/><circle cx="1300.3" cy="471.9" r="1.2"/><circle cx="1300.6" cy="466.4" r="1.2"/><circle cx="1300.8" cy="463.1" r="1.2"/><circle cx="1301.0" cy="470.6" r="1.2"/><circle cx="1301.2" cy="462.7" r="1.2"/><circle cx="1301.4" cy="479.5" r="1.2"/><circle cx="1301.6" cy="469.4" r="1.2"/><circle cx="1301.9" cy="465.9" r="1.2"/><circle cx="1302.1" cy="473.0" r="1.2"/><circle cx="1302.3" cy="466.4" r="1.2"/><circle cx="1302.5" cy="459.4" r="1.2"/><circle cx="1302.7" cy="466.8" r="1.2"/><circle cx="1302.9" cy="466.4" r="1.2"/><circle cx="1303.2" cy="459.0" r="1.2"/><circle cx="1303.4" cy="475.1" r="1.2"/><circle cx="1303.6" cy="465.1" r="1.2"/><circle cx="1303.8" cy="474.9" r="1.2"/><circle cx="1305.6" cy="472.9" r="1.2"/><circle cx="1305.8" cy="473.4" r="1.2"/><circle cx="1306.0" cy="469.2" r="1.2"/><circle cx="1306.2" cy="459.0" r="1.2"/><circle cx="1306.4" cy="473.6" r="1.2"/><circle cx="1306.6" cy="470.9" r="1.2"/><circle cx="1306.9" cy="468.6" r="1.2"/><circle cx="1307.1" cy="467.0" r="1.2"/><circle cx="1307.3" cy="451.3" r="1.2"/><circle cx="1307.5" cy="468.2" r="1.2"/><circle cx="1307.7" cy="458.5" r="1.2"/><circle cx="1307.9" cy="460.3" r="1.2"/><circle cx="1308.2" cy="456.3" r="1.2"/><circle cx="1308.4" cy="459.4" r="1.2"/><circle cx="1308.6" cy="467.8" r="1.2"/><circle cx="1308.8" cy="463.6" r="1.2"/><circle cx="1309.0" cy="459.2" r="1.2"/><circle cx="1309.3" cy="457.2" r="1.2"/><circle cx="1309.5" cy="465.9" r="1.2"/><circle cx="1309.7" cy="458.2" r="1.2"/><circle cx="1309.9" cy="462.3" r="1.2"/><circle cx="1310.1" cy="460.4" r="1.2"/><circle cx="1310.3" cy="461.6" r="1.2"/><circle cx="1310.6" cy="473.5" r="1.2"/><circle cx="1310.8" cy="467.0" r="1.2"/><circle cx="1311.0" cy="463.5" r="1.2"/><circle cx="1311.2" cy="459.4" r="1.2"/><circle cx="1311.4" cy="466.3" r="1.2"/><circle cx="1311.6" cy="467.2" r="1.2"/><circle cx="1311.9" cy="467.4" r="1.2"/><circle cx="1312.1" cy="457.1" r="1.2"/><circle cx="1312.3" cy="459.2" r="1.2"/><circle cx="1312.5" cy="459.5" r="1.2"/><circle cx="1312.7" cy="467.2" r="1.2"/><circle cx="1312.9" cy="454.3" r="1.2"/><circle cx="1313.2" cy="461.5" r="1.2"/><circle cx="1314.9" cy="491.8" r="1.2"/><circle cx="1315.1" cy="478.9" r="1.2"/><circle cx="1315.3" cy="477.8" r="1.2"/><circle cx="1315.6" cy="476.7" r="1.2"/><circle cx="1315.8" cy="472.5" r="1.2"/><circle cx="1316.0" cy="473.6" r="1.2"/><circle cx="1316.2" cy="464.4" r="1.2"/><circle cx="1316.4" cy="467.5" r="1.2"/><circle cx="1316.6" cy="474.5" r="1.2"/><circle cx="1316.9" cy="480.7" r="1.2"/><circle cx="1317.1" cy="449.0" r="1.2"/><circle cx="1317.3" cy="464.0" r="1.2"/><circle cx="1317.5" cy="483.9" r="1.2"/><circle cx="1317.7" cy="481.6" r="1.2"/><circle cx="1317.9" cy="484.5" r="1.2"/><circle cx="1318.2" cy="457.9" r="1.2"/><circle cx="1318.4" cy="467.1" r="1.2"/><circle cx="1318.6" cy="470.7" r="1.2"/><circle cx="1318.8" cy="466.2" r="1.2"/><circle cx="1319.0" cy="473.4" r="1.2"/><circle cx="1319.2" cy="470.8" r="1.2"/><circle cx="1319.5" cy="460.2" r="1.2"/><circle cx="1319.7" cy="473.7" r="1.2"/><circle cx="1319.9" cy="465.5" r="1.2"/><circle cx="1320.1" cy="465.6" r="1.2"/><circle cx="1320.3" cy="479.1" r="1.2"/><circle cx="1320.5" cy="474.8" r="1.2"/><circle cx="1320.8" cy="465.0" r="1.2"/><circle cx="1321.0" cy="467.0" r="1.2"/><circle cx="1321.2" cy="469.9" r="1.2"/><circle cx="1321.4" cy="472.5" r="1.2"/><circle cx="1321.6" cy="465.2" r="1.2"/><circle cx="1321.9" cy="469.3" r="1.2"/><circle cx="1322.1" cy="455.6" r="1.2"/><circle cx="1322.3" cy="461.5" r="1.2"/><circle cx="1322.5" cy="464.6" r="1.2"/><circle cx="1329.5" cy="500.9" r="1.2"/><circle cx="1329.7" cy="481.6" r="1.2"/><circle cx="1329.9" cy="482.7" r="1.2"/><circle cx="1330.1" cy="478.2" r="1.2"/><circle cx="1330.3" cy="474.5" r="1.2"/><circle cx="1330.5" cy="487.9" r="1.2"/><circle cx="1330.8" cy="487.5" r="1.2"/><circle cx="1331.0" cy="482.1" r="1.2"/><circle cx="1331.2" cy="478.7" r="1.2"/><circle cx="1331.4" cy="472.0" r="1.2"/><circle cx="1331.6" cy="477.6" r="1.2"/><circle cx="1331.8" cy="479.1" r="1.2"/><circle cx="1332.1" cy="463.3" r="1.2"/><circle cx="1332.3" cy="461.3" r="1.2"/><circle cx="1332.5" cy="471.5" r="1.2"/><circle cx="1332.7" cy="474.4" r="1.2"/><circle cx="1332.9" cy="473.4" r="1.2"/><circle cx="1333.2" cy="471.5" r="1.2"/><circle cx="1333.4" cy="484.9" r="1.2"/><circle cx="1333.6" cy="469.6" r="1.2"/><circle cx="1333.8" cy="470.1" r="1.2"/><circle cx="1334.0" cy="466.4" r="1.2"/><circle cx="1334.2" cy="472.5" r="1.2"/><circle cx="1334.5" cy="465.7" r="1.2"/><circle cx="1334.7" cy="461.9" r="1.2"/><circle cx="1334.9" cy="480.2" r="1.2"/><circle cx="1335.1" cy="467.3" r="1.2"/><circle cx="1335.3" cy="469.1" r="1.2"/><circle cx="1335.5" cy="464.5" r="1.2"/><circle cx="1335.8" cy="473.1" r="1.2"/><circle cx="1336.0" cy="463.3" r="1.2"/><circle cx="1336.2" cy="458.3" r="1.2"/><circle cx="1336.4" cy="468.0" r="1.2"/><circle cx="1336.6" cy="469.0" r="1.2"/><circle cx="1336.8" cy="474.4" r="1.2"/><circle cx="1337.1" cy="461.4" r="1.2"/><circle cx="1338.8" cy="477.0" r="1.2"/><circle cx="1339.0" cy="472.9" r="1.2"/><circle cx="1339.2" cy="477.7" r="1.2"/><circle cx="1339.5" cy="475.5" r="1.2"/><circle cx="1339.7" cy="472.5" r="1.2"/><circle cx="1339.9" cy="473.6" r="1.2"/><circle cx="1340.1" cy="471.4" r="1.2"/><circle cx="1340.3" cy="470.8" r="1.2"/><circle cx="1340.5" cy="442.7" r="1.2"/><circle cx="1340.8" cy="465.0" r="1.2"/><circle cx="1341.0" cy="457.9" r="1.2"/><circle cx="1341.2" cy="467.8" r="1.2"/><circle cx="1341.4" cy="474.4" r="1.2"/><circle cx="1341.6" cy="464.4" r="1.2"/><circle cx="1341.8" cy="458.5" r="1.2"/><circle cx="1342.1" cy="471.4" r="1.2"/><circle cx="1342.3" cy="454.0" r="1.2"/><circle cx="1342.5" cy="459.2" r="1.2"/><circle cx="1342.7" cy="461.7" r="1.2"/><circle cx="1342.9" cy="466.1" r="1.2"/><circle cx="1343.1" cy="458.2" r="1.2"/><circle cx="1343.4" cy="462.9" r="1.2"/><circle cx="1343.6" cy="471.9" r="1.2"/><circle cx="1343.8" cy="461.7" r="1.2"/><circle cx="1344.0" cy="467.2" r="1.2"/><circle cx="1344.2" cy="461.0" r="1.2"/><circle cx="1344.4" cy="465.6" r="1.2"/><circle cx="1344.7" cy="467.9" r="1.2"/><circle cx="1344.9" cy="464.3" r="1.2"/><circle cx="1345.1" cy="460.0" r="1.2"/><circle cx="1345.3" cy="454.8" r="1.2"/><circle cx="1345.5" cy="471.8" r="1.2"/><circle cx="1345.8" cy="455.9" r="1.2"/><circle cx="1346.0" cy="456.4" r="1.2"/><circle cx="1346.2" cy="464.8" r="1.2"/><circle cx="1346.4" cy="471.5" r="1.2"/><circle cx="1348.1" cy="483.1" r="1.2"/><circle cx="1348.4" cy="456.9" r="1.2"/><circle cx="1348.6" cy="473.4" r="1.2"/><circle cx="1348.8" cy="477.5" r="1.2"/><circle cx="1349.0" cy="472.4" r="1.2"/><circle cx="1349.2" cy="473.0" r="1.2"/><circle cx="1349.4" cy="471.6" r="1.2"/><circle cx="1349.7" cy="468.5" r="1.2"/><circle cx="1349.9" cy="465.4" r="1.2"/><circle cx="1350.1" cy="476.8" r="1.2"/><circle cx="1350.3" cy="466.3" r="1.2"/><circle cx="1350.5" cy="462.7" r="1.2"/><circle cx="1350.8" cy="468.0" r="1.2"/><circle cx="1351.0" cy="475.0" r="1.2"/><circle cx="1351.2" cy="474.3" r="1.2"/><circle cx="1351.4" cy="473.9" r="1.2"/><circle cx="1351.6" cy="472.0" r="1.2"/><circle cx="1351.8" cy="473.4" r="1.2"/><circle cx="1352.1" cy="470.2" r="1.2"/><circle cx="1352.3" cy="475.5" r="1.2"/><circle cx="1352.5" cy="463.9" r="1.2"/><circle cx="1352.7" cy="473.6" r="1.2"/><circle cx="1352.9" cy="477.8" r="1.2"/><circle cx="1353.1" cy="462.1" r="1.2"/><circle cx="1353.4" cy="464.9" r="1.2"/><circle cx="1353.6" cy="476.9" r="1.2"/><circle cx="1353.8" cy="461.1" r="1.2"/><circle cx="1354.0" cy="470.5" r="1.2"/><circle cx="1354.2" cy="464.5" r="1.2"/><circle cx="1354.4" cy="469.2" r="1.2"/><circle cx="1354.7" cy="461.8" r="1.2"/><circle cx="1354.9" cy="463.7" r="1.2"/><circle cx="1355.1" cy="467.0" r="1.2"/><circle cx="1355.3" cy="469.8" r="1.2"/><circle cx="1355.5" cy="461.9" r="1.2"/><circle cx="1355.7" cy="464.1" r="1.2"/><circle cx="1357.5" cy="475.3" r="1.2"/><circle cx="1357.7" cy="480.1" r="1.2"/><circle cx="1357.9" cy="475.9" r="1.2"/><circle cx="1358.1" cy="460.2" r="1.2"/><circle cx="1358.4" cy="475.4" r="1.2"/><circle cx="1358.6" cy="463.6" r="1.2"/><circle cx="1358.8" cy="463.9" r="1.2"/><circle cx="1359.0" cy="474.0" r="1.2"/><circle cx="1359.2" cy="466.4" r="1.2"/><circle cx="1359.4" cy="460.7" r="1.2"/><circle cx="1359.7" cy="486.4" r="1.2"/><circle cx="1359.9" cy="477.5" r="1.2"/><circle cx="1360.1" cy="473.5" r="1.2"/><circle cx="1360.3" cy="474.5" r="1.2"/><circle cx="1360.5" cy="466.4" r="1.2"/><circle cx="1360.7" cy="470.7" r="1.2"/><circle cx="1361.0" cy="469.8" r="1.2"/><circle cx="1361.2" cy="462.0" r="1.2"/><circle cx="1361.4" cy="469.3" r="1.2"/><circle cx="1361.6" cy="472.3" r="1.2"/><circle cx="1361.8" cy="467.7" r="1.2"/><circle cx="1362.0" cy="465.2" r="1.2"/><circle cx="1362.3" cy="477.1" r="1.2"/><circle cx="1362.5" cy="456.7" r="1.2"/><circle cx="1362.7" cy="469.9" r="1.2"/><circle cx="1362.9" cy="462.3" r="1.2"/><circle cx="1363.1" cy="468.9" r="1.2"/><circle cx="1363.4" cy="463.7" r="1.2"/><circle cx="1363.6" cy="461.3" r="1.2"/><circle cx="1363.8" cy="465.5" r="1.2"/><circle cx="1364.0" cy="462.1" r="1.2"/><circle cx="1364.2" cy="469.5" r="1.2"/><circle cx="1364.4" cy="472.7" r="1.2"/><circle cx="1364.7" cy="461.9" r="1.2"/><circle cx="1364.9" cy="463.9" r="1.2"/><circle cx="1365.1" cy="460.1" r="1.2"/><circle cx="723.2" cy="388.4" r="1.2"/><circle cx="733.7" cy="391.8" r="1.2"/><circle cx="816.0" cy="393.9" r="1.2"/><circle cx="1010.1" cy="396.0" r="1.2"/><circle cx="1010.1" cy="412.8" r="1.2"/><circle cx="774.5" cy="400.2" r="1.2"/><circle cx="1212.6" cy="497.0" r="1.2"/>
</g>
<path d="M618.5 95.5V586.5M726.5 95.5V586.5M835.5 95.5V586.5M944.5 95.5V586.5M1052.5 95.5V586.5M1161.5 95.5V586.5M1270.5 95.5V586.5M1378.5 95.5V586.5M583.5 95.5H1401.5M583.5 165.5H1401.5M583.5 236.5H1401.5M583.5 306.5H1401.5M583.5 376.5H1401.5M583.5 446.5H1401.5M583.5 516.5H1401.5M583.5 586.5H1401.5" stroke="#b0b0b0" stroke-width="1.11" fill="none"/>
<path d="M618.5 586.5v4.4M726.5 586.5v4.4M835.5 586.5v4.4M944.5 586.5v4.4M1052.5 586.5v4.4M1161.5 586.5v4.4M1270.5 586.5v4.4M1378.5 586.5v4.4M583.5 95.5h-4.4M583.5 165.5h-4.4M583.5 236.5h-4.4M583.5 306.5h-4.4M583.5 376.5h-4.4M583.5 446.5h-4.4M583.5 516.5h-4.4M583.5 586.5h-4.4" stroke="#000" stroke-width="1.11" fill="none"/>
<rect x="583.5" y="95.5" width="818.0" height="491.0" fill="none" stroke="#000" stroke-width="1.11"/>
<g font-size="27.78" text-anchor="middle">
<text transform="translate(618.5 612.9) scale(1 1.045)">0</text>
<text transform="translate(726.5 612.9) scale(1 1.045)">500</text>
<text transform="translate(835.5 612.9) scale(1 1.045)" textLength="53.8" lengthAdjust="spacing">1000</text>
<text transform="translate(944.5 612.9) scale(1 1.045)" textLength="53.8" lengthAdjust="spacing">1500</text>
<text transform="translate(1052.5 612.9) scale(1 1.045)">2000</text>
<text transform="translate(1161.5 612.9) scale(1 1.045)">2500</text>
<text transform="translate(1270.5 612.9) scale(1 1.045)">3000</text>
<text transform="translate(1378.5 612.9) scale(1 1.045)">3500</text>
</g>
<text x="991.9" y="645.7" font-size="33.33" text-anchor="middle">Bunch slot (25 ns)</text>
<g clip-path="url(#cA3)">
<path d="M129.4 1005.1C130.7 1004.5 136.5 1001.7 139.1 1000.7C141.7 999.7 146.2 998.8 148.8 997.8C151.4 996.8 155.9 994.5 158.5 993.5C161.0 992.4 165.6 990.6 168.1 990.2C170.7 989.8 175.2 990.0 177.8 990.1C180.4 990.3 184.9 991.7 187.5 991.3C190.1 990.9 194.6 988.3 197.2 987.5C199.8 986.7 204.3 985.6 206.9 985.1C209.5 984.6 214.0 984.0 216.6 983.9C219.1 983.7 223.7 983.8 226.2 984.0C228.8 984.2 233.4 984.9 235.9 985.1C238.5 985.4 243.0 986.0 245.6 986.1C248.2 986.2 252.7 985.8 255.3 985.9C257.9 986.0 262.4 987.5 265.0 986.9C267.6 986.3 272.1 982.9 274.7 981.2C277.3 979.4 281.8 974.9 284.4 973.8C286.9 972.7 291.5 973.5 294.0 973.2C296.6 973.0 301.1 972.1 303.7 972.0C306.3 971.9 310.8 972.2 313.4 972.2C316.0 972.3 320.5 972.3 323.1 972.3C325.7 972.3 330.2 972.4 332.8 972.3C335.4 972.2 339.9 972.1 342.5 971.6C345.1 971.1 349.6 969.2 352.2 968.5C354.7 967.8 359.3 966.2 361.8 966.2C364.4 966.2 368.9 967.8 371.5 968.2C374.1 968.5 378.6 968.2 381.2 968.6C383.8 969.0 388.3 970.7 390.9 971.2C393.5 971.7 398.0 972.5 400.6 972.6C403.2 972.7 407.7 972.3 410.3 972.1C412.8 971.9 417.4 970.6 420.0 970.8C422.5 971.0 427.1 972.9 429.6 973.7C432.2 974.5 436.7 976.2 439.3 976.7C441.9 977.2 446.4 977.6 449.0 977.7C451.6 977.8 456.1 977.5 458.7 977.4C461.3 977.3 465.8 977.3 468.4 977.1C471.0 976.9 475.5 976.3 478.1 975.9C480.6 975.5 485.2 974.6 487.7 974.0C490.3 973.5 496.1 971.9 497.4 971.6L503.4 1253.6L497.4 1011.4C496.1 1011.5 490.3 1011.9 487.7 1012.3C485.2 1012.7 480.6 1013.9 478.1 1014.3C475.5 1014.7 471.0 1014.7 468.4 1015.0C465.8 1015.4 461.3 1016.5 458.7 1016.8C456.1 1017.1 451.6 1017.1 449.0 1017.2C446.4 1017.4 441.9 1018.1 439.3 1017.8C436.7 1017.5 432.2 1015.5 429.6 1014.7C427.1 1013.9 422.5 1011.9 420.0 1011.7C417.4 1011.5 412.8 1012.8 410.3 1013.1C407.7 1013.3 403.2 1013.5 400.6 1013.4C398.0 1013.3 393.5 1012.9 390.9 1012.4C388.3 1012.0 383.8 1010.3 381.2 1009.9C378.6 1009.5 374.1 1009.7 371.5 1009.7C368.9 1009.6 364.4 1009.4 361.8 1009.5C359.3 1009.6 354.7 1010.1 352.2 1010.6C349.6 1011.0 345.1 1012.7 342.5 1013.1C339.9 1013.5 335.4 1013.6 332.8 1013.8C330.2 1013.9 325.7 1014.2 323.1 1014.3C320.5 1014.4 316.0 1014.8 313.4 1014.7C310.8 1014.7 306.3 1013.8 303.7 1013.9C301.1 1014.0 296.6 1015.3 294.0 1015.4C291.5 1015.6 286.9 1014.4 284.4 1015.3C281.8 1016.2 277.3 1020.2 274.7 1021.9C272.1 1023.5 267.6 1026.5 265.0 1027.4C262.4 1028.3 257.9 1028.4 255.3 1028.6C252.7 1028.8 248.2 1029.1 245.6 1028.9C243.0 1028.7 238.5 1027.6 235.9 1027.4C233.4 1027.1 228.8 1027.2 226.2 1027.0C223.7 1026.8 219.1 1026.2 216.6 1026.1C214.0 1026.0 209.5 1025.8 206.9 1026.3C204.3 1026.8 199.8 1028.8 197.2 1029.6C194.6 1030.5 190.1 1032.4 187.5 1032.8C184.9 1033.2 180.4 1032.8 177.8 1032.9C175.2 1033.0 170.7 1033.1 168.1 1033.5C165.6 1033.9 161.0 1035.1 158.5 1035.6C155.9 1036.1 151.4 1036.3 148.8 1037.2C146.2 1038.1 141.7 1041.4 139.1 1042.7C136.5 1044.0 130.7 1046.2 129.4 1046.7Z" fill="#000" fill-opacity="0.3" stroke="#000" stroke-opacity="0.3" stroke-width="1.0" stroke-linejoin="round"/>
<path d="M129.4 988.3C130.7 987.4 136.5 983.3 139.1 981.7C141.7 980.2 146.2 976.9 148.8 976.7C151.4 976.5 155.9 979.3 158.5 980.0C161.0 980.6 165.6 981.9 168.1 981.8C170.7 981.7 175.2 979.9 177.8 979.1C180.4 978.3 184.9 976.7 187.5 975.9C190.1 975.1 194.6 973.7 197.2 973.1C199.8 972.5 204.3 971.9 206.9 971.6C209.5 971.3 214.0 970.9 216.6 970.7C219.1 970.5 223.7 970.5 226.2 970.1C228.8 969.7 233.4 968.0 235.9 967.5C238.5 967.0 243.0 966.2 245.6 966.5C248.2 966.8 252.7 968.7 255.3 969.6C257.9 970.6 262.4 973.8 265.0 973.8C267.6 973.8 272.1 970.7 274.7 969.5C277.3 968.2 281.8 965.6 284.4 964.3C286.9 963.0 291.5 961.1 294.0 959.8C296.6 958.6 301.1 955.2 303.7 954.8C306.3 954.4 310.8 956.1 313.4 956.6C316.0 957.0 320.5 958.1 323.1 958.4C325.7 958.7 330.2 958.8 332.8 959.1C335.4 959.4 339.9 960.4 342.5 960.6C345.1 960.8 349.6 960.6 352.2 960.5C354.7 960.4 359.3 960.2 361.8 959.9C364.4 959.6 368.9 959.0 371.5 958.3C374.1 957.7 378.6 955.0 381.2 955.1C383.8 955.2 388.3 957.8 390.9 958.8C393.5 959.9 398.0 962.4 400.6 962.8C403.2 963.2 407.7 962.0 410.3 962.0C412.8 962.0 417.4 962.4 420.0 962.8C422.5 963.2 427.1 964.1 429.6 964.9C432.2 965.7 436.7 967.9 439.3 968.6C441.9 969.3 446.4 969.8 449.0 970.4C451.6 971.1 456.1 973.5 458.7 973.8C461.3 974.1 465.8 973.3 468.4 972.8C471.0 972.3 475.5 971.0 478.1 970.1C480.6 969.2 485.2 966.9 487.7 965.7C490.3 964.5 496.1 961.7 497.4 961.1L503.4 1253.6L497.4 982.5C496.1 982.8 490.3 984.0 487.7 984.6C485.2 985.1 480.6 986.4 478.1 986.9C475.5 987.4 471.0 987.6 468.4 988.0C465.8 988.4 461.3 990.1 458.7 989.8C456.1 989.5 451.6 986.7 449.0 985.9C446.4 985.0 441.9 983.6 439.3 983.2C436.7 982.8 432.2 982.8 429.6 982.5C427.1 982.2 422.5 981.2 420.0 981.0C417.4 980.8 412.8 981.0 410.3 981.1C407.7 981.3 403.2 981.8 400.6 981.8C398.0 981.8 393.5 981.4 390.9 981.1C388.3 980.8 383.8 979.6 381.2 979.6C378.6 979.6 374.1 980.7 371.5 980.9C368.9 981.1 364.4 981.1 361.8 981.0C359.3 980.9 354.7 980.6 352.2 980.3C349.6 980.0 345.1 979.1 342.5 978.9C339.9 978.7 335.4 978.5 332.8 978.6C330.2 978.7 325.7 979.4 323.1 979.6C320.5 979.8 316.0 980.0 313.4 980.0C310.8 980.0 306.3 979.8 303.7 979.6C301.1 979.4 296.6 978.7 294.0 978.5C291.5 978.3 286.9 976.9 284.4 978.1C281.8 979.3 277.3 985.2 274.7 987.5C272.1 989.8 267.6 995.4 265.0 995.6C262.4 995.8 257.9 990.6 255.3 989.0C252.7 987.5 248.2 984.6 245.6 984.0C243.0 983.4 238.5 984.2 235.9 984.4C233.4 984.6 228.8 984.6 226.2 985.4C223.7 986.2 219.1 989.0 216.6 990.1C214.0 991.2 209.5 993.1 206.9 993.4C204.3 993.7 199.8 993.0 197.2 992.7C194.6 992.4 190.1 991.3 187.5 991.3C184.9 991.3 180.4 992.4 177.8 993.0C175.2 993.6 170.7 995.5 168.1 995.6C165.6 995.7 161.0 993.9 158.5 993.6C155.9 993.2 151.4 990.9 148.8 992.7C146.2 994.5 141.7 1003.5 139.1 1007.2C136.5 1010.9 130.7 1018.6 129.4 1020.4Z" fill="#d3d3d3" fill-opacity="0.3" stroke="#d3d3d3" stroke-opacity="0.3" stroke-width="1.0" stroke-linejoin="round"/>
</g>
<path d="M176.5 692.5V1183.5M261.5 692.5V1183.5M346.5 692.5V1183.5M432.5 692.5V1183.5M517.5 692.5V1183.5M111.5 692.5H520.5M111.5 763.5H520.5M111.5 833.5H520.5M111.5 903.5H520.5M111.5 973.5H520.5M111.5 1043.5H520.5M111.5 1113.5H520.5M111.5 1183.5H520.5" stroke="#b0b0b0" stroke-width="1.11" fill="none"/>
<g clip-path="url(#cA3)">
<polyline points="129.4,1025.5 148.8,1017.5 168.1,1011.2 187.5,1011.4 206.9,1005.4 226.2,1004.4 245.6,1006.9 265.0,1006.6 284.4,993.7 303.7,992.3 323.1,992.7 342.5,992.0 361.8,987.3 381.2,988.6 400.6,992.7 420.0,991.3 439.3,997.4 458.7,996.4 478.1,993.7 497.4,991.3 503.4,1253.6" fill="none" stroke="#000" stroke-width="1.15" stroke-linejoin="round"/>
<polyline points="129.4,1003.6 148.8,984.0 168.1,986.9 187.5,983.2 206.9,979.6 226.2,976.7 245.6,974.5 265.0,983.2 284.4,970.8 303.7,968.2 323.1,968.6 342.5,969.4 361.8,967.2 381.2,965.7 400.6,970.8 420.0,971.6 439.3,975.9 458.7,978.9 478.1,977.4 497.4,972.3 503.4,1253.6" fill="none" stroke="#d3d3d3" stroke-width="1.15" stroke-linejoin="round"/>
<line x1="129.4" y1="982.1" x2="501.8" y2="969.1" stroke="#00ff00" stroke-width="1.11" stroke-dasharray="4.11 1.78"/>
<line x1="129.4" y1="1012.0" x2="501.8" y2="985.9" stroke="#00ff00" stroke-width="1.11" stroke-dasharray="4.11 1.78"/>
</g>
<path d="M176.5 1183.5v4.4M261.5 1183.5v4.4M346.5 1183.5v4.4M432.5 1183.5v4.4M517.5 1183.5v4.4M111.5 692.5h-4.4M111.5 763.5h-4.4M111.5 833.5h-4.4M111.5 903.5h-4.4M111.5 973.5h-4.4M111.5 1043.5h-4.4M111.5 1113.5h-4.4M111.5 1183.5h-4.4" stroke="#000" stroke-width="1.11" fill="none"/>
<rect x="111.5" y="692.5" width="409.0" height="491.0" fill="none" stroke="#000" stroke-width="1.11"/>
<g font-size="27.78" text-anchor="middle">
<text transform="translate(176.5 1209.9) scale(1 1.045)" textLength="61.7" lengthAdjust="spacing">12:00</text>
<text transform="translate(261.5 1209.9) scale(1 1.045)" textLength="61.7" lengthAdjust="spacing">12:14</text>
<text transform="translate(346.5 1209.9) scale(1 1.045)" textLength="61.7" lengthAdjust="spacing">12:28</text>
<text transform="translate(432.5 1209.9) scale(1 1.045)" textLength="61.7" lengthAdjust="spacing">12:43</text>
<text transform="translate(517.5 1209.9) scale(1 1.045)" textLength="61.7" lengthAdjust="spacing">12:57</text>
</g>
<g font-size="27.78" text-anchor="end">
<text transform="translate(102.2 702.0) scale(1 1.045)" textLength="33.4" lengthAdjust="spacing">4.0</text>
<text transform="translate(102.2 773.0) scale(1 1.045)" textLength="33.4" lengthAdjust="spacing">3.5</text>
<text transform="translate(102.2 843.0) scale(1 1.045)" textLength="33.4" lengthAdjust="spacing">3.0</text>
<text transform="translate(102.2 913.0) scale(1 1.045)" textLength="33.4" lengthAdjust="spacing">2.5</text>
<text transform="translate(102.2 983.0) scale(1 1.045)" textLength="33.4" lengthAdjust="spacing">2.0</text>
<text transform="translate(102.2 1053.0) scale(1 1.045)" textLength="33.4" lengthAdjust="spacing">1.5</text>
<text transform="translate(102.2 1123.0) scale(1 1.045)" textLength="33.4" lengthAdjust="spacing">1.0</text>
<text transform="translate(102.2 1193.0) scale(1 1.045)" textLength="33.4" lengthAdjust="spacing">0.5</text>
</g>
<text x="315.4" y="1242.7" font-size="33.33" text-anchor="middle">Time</text>
<text transform="translate(53.8 938.0) rotate(-90)" font-size="33.33" text-anchor="middle">Emittance B1V (<tspan font-style="italic">μ</tspan>m)</text>
<rect x="283.5" y="701.1" width="229.4" height="103.3" rx="3.3" fill="#fff" fill-opacity="0.8" stroke="#ccc" stroke-opacity="0.8" stroke-width="1.39"/>
<line x1="289.9" x2="323.8" y1="714.4" y2="714.4" stroke="#000" stroke-width="1.39"/>
<line x1="289.9" x2="323.8" y1="739.5" y2="739.5" stroke="#d3d3d3" stroke-width="1.25"/>
<line x1="289.9" x2="323.8" y1="763.7" y2="763.7" stroke="#00ff00" stroke-width="1.11" stroke-dasharray="4.11 1.78"/>
<line x1="289.9" x2="323.8" y1="787.6" y2="787.6" stroke="#00ff00" stroke-width="1.11" stroke-dasharray="4.11 1.78"/>
<g font-size="16.67">
<text x="337.2" y="719.6">Colliding IP1/5</text>
<text x="337.2" y="744.5">Non-colliding IP1/5</text>
<text x="337.2" y="769.0">Non colliding: 0.09 um/h</text>
<text x="337.2" y="793.2">Colliding: 0.18 um/h</text>
</g>
<g clip-path="url(#cA4)" fill="#7f00ff" fill-opacity="0.55" stroke="#7f00ff" stroke-opacity="0.55" stroke-width="1.0">
<circle cx="620.9" cy="1006.9" r="1.2"/><circle cx="621.1" cy="1001.3" r="1.2"/><circle cx="621.3" cy="971.4" r="1.2"/><circle cx="621.6" cy="994.0" r="1.2"/><circle cx="621.8" cy="1000.2" r="1.2"/><circle cx="622.0" cy="995.8" r="1.2"/><circle cx="622.2" cy="1014.5" r="1.2"/><circle cx="622.4" cy="994.9" r="1.2"/><circle cx="622.6" cy="1000.9" r="1.2"/><circle cx="622.9" cy="993.5" r="1.2"/><circle cx="623.1" cy="1001.0" r="1.2"/><circle cx="623.3" cy="1022.5" r="1.2"/><circle cx="630.3" cy="1053.1" r="1.2"/><circle cx="630.5" cy="1054.6" r="1.2"/><circle cx="630.7" cy="1035.7" r="1.2"/><circle cx="630.9" cy="1007.7" r="1.2"/><circle cx="631.1" cy="1032.8" r="1.2"/><circle cx="631.3" cy="1022.0" r="1.2"/><circle cx="631.6" cy="1026.7" r="1.2"/><circle cx="631.8" cy="1043.5" r="1.2"/><circle cx="632.0" cy="1038.9" r="1.2"/><circle cx="632.2" cy="1019.1" r="1.2"/><circle cx="632.4" cy="1012.2" r="1.2"/><circle cx="632.6" cy="1021.2" r="1.2"/><circle cx="632.9" cy="1017.7" r="1.2"/><circle cx="633.1" cy="1002.2" r="1.2"/><circle cx="633.3" cy="1028.1" r="1.2"/><circle cx="633.5" cy="1013.4" r="1.2"/><circle cx="633.7" cy="1008.9" r="1.2"/><circle cx="633.9" cy="1001.6" r="1.2"/><circle cx="634.2" cy="1008.5" r="1.2"/><circle cx="634.4" cy="1009.0" r="1.2"/><circle cx="634.6" cy="992.4" r="1.2"/><circle cx="634.8" cy="1011.7" r="1.2"/><circle cx="635.0" cy="1014.2" r="1.2"/><circle cx="635.2" cy="1005.5" r="1.2"/><circle cx="635.5" cy="984.9" r="1.2"/><circle cx="635.7" cy="995.9" r="1.2"/><circle cx="635.9" cy="991.5" r="1.2"/><circle cx="636.1" cy="996.6" r="1.2"/><circle cx="636.3" cy="984.3" r="1.2"/><circle cx="636.6" cy="1001.9" r="1.2"/><circle cx="636.8" cy="987.1" r="1.2"/><circle cx="637.0" cy="990.8" r="1.2"/><circle cx="637.2" cy="975.7" r="1.2"/><circle cx="637.4" cy="968.6" r="1.2"/><circle cx="637.6" cy="991.2" r="1.2"/><circle cx="637.9" cy="971.6" r="1.2"/><circle cx="639.6" cy="1008.3" r="1.2"/><circle cx="639.8" cy="1023.0" r="1.2"/><circle cx="640.0" cy="1005.1" r="1.2"/><circle cx="640.2" cy="1024.6" r="1.2"/><circle cx="640.5" cy="1020.1" r="1.2"/><circle cx="640.7" cy="1001.2" r="1.2"/><circle cx="640.9" cy="1008.4" r="1.2"/><circle cx="641.1" cy="1016.2" r="1.2"/><circle cx="641.3" cy="1007.5" r="1.2"/><circle cx="641.5" cy="1001.9" r="1.2"/><circle cx="641.8" cy="1005.1" r="1.2"/><circle cx="642.0" cy="1018.8" r="1.2"/><circle cx="642.2" cy="1000.7" r="1.2"/><circle cx="642.4" cy="1001.1" r="1.2"/><circle cx="642.6" cy="999.0" r="1.2"/><circle cx="642.9" cy="990.3" r="1.2"/><circle cx="643.1" cy="989.6" r="1.2"/><circle cx="643.3" cy="999.9" r="1.2"/><circle cx="643.5" cy="997.6" r="1.2"/><circle cx="643.7" cy="994.8" r="1.2"/><circle cx="643.9" cy="1003.0" r="1.2"/><circle cx="644.2" cy="980.2" r="1.2"/><circle cx="644.4" cy="1002.0" r="1.2"/><circle cx="644.6" cy="995.9" r="1.2"/><circle cx="644.8" cy="986.6" r="1.2"/><circle cx="645.0" cy="991.3" r="1.2"/><circle cx="645.2" cy="985.8" r="1.2"/><circle cx="645.5" cy="981.2" r="1.2"/><circle cx="645.7" cy="977.9" r="1.2"/><circle cx="645.9" cy="980.0" r="1.2"/><circle cx="646.1" cy="994.1" r="1.2"/><circle cx="646.3" cy="973.5" r="1.2"/><circle cx="646.5" cy="1006.9" r="1.2"/><circle cx="646.8" cy="985.8" r="1.2"/><circle cx="647.0" cy="974.7" r="1.2"/><circle cx="647.2" cy="970.5" r="1.2"/><circle cx="648.9" cy="1017.7" r="1.2"/><circle cx="649.2" cy="1000.0" r="1.2"/><circle cx="649.4" cy="1020.3" r="1.2"/><circle cx="649.6" cy="1020.0" r="1.2"/><circle cx="649.8" cy="1006.9" r="1.2"/><circle cx="650.0" cy="1007.0" r="1.2"/><circle cx="650.2" cy="1018.4" r="1.2"/><circle cx="650.5" cy="1017.2" r="1.2"/><circle cx="650.7" cy="993.0" r="1.2"/><circle cx="650.9" cy="995.3" r="1.2"/><circle cx="651.1" cy="1000.8" r="1.2"/><circle cx="651.3" cy="1001.9" r="1.2"/><circle cx="651.5" cy="983.2" r="1.2"/><circle cx="651.8" cy="1002.6" r="1.2"/><circle cx="652.0" cy="1010.9" r="1.2"/><circle cx="652.2" cy="1007.5" r="1.2"/><circle cx="652.4" cy="998.3" r="1.2"/><circle cx="652.6" cy="1001.4" r="1.2"/><circle cx="652.8" cy="989.5" r="1.2"/><circle cx="653.1" cy="1003.0" r="1.2"/><circle cx="653.3" cy="993.0" r="1.2"/><circle cx="653.5" cy="990.7" r="1.2"/><circle cx="653.7" cy="995.9" r="1.2"/><circle cx="653.9" cy="994.5" r="1.2"/><circle cx="654.2" cy="995.9" r="1.2"/><circle cx="654.4" cy="992.2" r="1.2"/><circle cx="654.6" cy="984.9" r="1.2"/><circle cx="654.8" cy="981.0" r="1.2"/><circle cx="655.0" cy="969.1" r="1.2"/><circle cx="655.2" cy="972.8" r="1.2"/><circle cx="655.5" cy="993.4" r="1.2"/><circle cx="655.7" cy="979.7" r="1.2"/><circle cx="655.9" cy="971.8" r="1.2"/><circle cx="656.1" cy="984.3" r="1.2"/><circle cx="656.3" cy="979.4" r="1.2"/><circle cx="656.5" cy="985.7" r="1.2"/><circle cx="664.4" cy="1034.8" r="1.2"/><circle cx="664.6" cy="1034.4" r="1.2"/><circle cx="664.8" cy="1037.0" r="1.2"/><circle cx="665.0" cy="1033.4" r="1.2"/><circle cx="665.2" cy="1034.9" r="1.2"/><circle cx="665.4" cy="1035.9" r="1.2"/><circle cx="665.7" cy="1016.8" r="1.2"/><circle cx="665.9" cy="1011.7" r="1.2"/><circle cx="666.1" cy="1013.2" r="1.2"/><circle cx="666.3" cy="1017.8" r="1.2"/><circle cx="666.5" cy="1035.6" r="1.2"/><circle cx="666.8" cy="1022.8" r="1.2"/><circle cx="667.0" cy="1015.5" r="1.2"/><circle cx="667.2" cy="1009.4" r="1.2"/><circle cx="667.4" cy="990.0" r="1.2"/><circle cx="667.6" cy="1026.4" r="1.2"/><circle cx="667.8" cy="1007.5" r="1.2"/><circle cx="668.1" cy="998.8" r="1.2"/><circle cx="668.3" cy="997.5" r="1.2"/><circle cx="668.5" cy="993.4" r="1.2"/><circle cx="668.7" cy="1004.6" r="1.2"/><circle cx="668.9" cy="1000.0" r="1.2"/><circle cx="669.1" cy="993.3" r="1.2"/><circle cx="669.4" cy="991.8" r="1.2"/><circle cx="669.6" cy="988.9" r="1.2"/><circle cx="669.8" cy="990.3" r="1.2"/><circle cx="670.0" cy="981.2" r="1.2"/><circle cx="670.2" cy="993.0" r="1.2"/><circle cx="670.4" cy="990.6" r="1.2"/><circle cx="670.7" cy="971.5" r="1.2"/><circle cx="670.9" cy="984.2" r="1.2"/><circle cx="671.1" cy="992.1" r="1.2"/><circle cx="671.3" cy="950.4" r="1.2"/><circle cx="671.5" cy="992.3" r="1.2"/><circle cx="671.8" cy="988.8" r="1.2"/><circle cx="672.0" cy="969.5" r="1.2"/><circle cx="673.7" cy="1025.8" r="1.2"/><circle cx="673.9" cy="1013.4" r="1.2"/><circle cx="674.1" cy="1017.1" r="1.2"/><circle cx="674.4" cy="1011.8" r="1.2"/><circle cx="674.6" cy="1008.6" r="1.2"/><circle cx="674.8" cy="999.0" r="1.2"/><circle cx="675.0" cy="1005.1" r="1.2"/><circle cx="675.2" cy="1004.1" r="1.2"/><circle cx="675.4" cy="993.5" r="1.2"/><circle cx="675.7" cy="1005.9" r="1.2"/><circle cx="675.9" cy="997.0" r="1.2"/><circle cx="676.1" cy="1000.9" r="1.2"/><circle cx="676.3" cy="995.6" r="1.2"/><circle cx="676.5" cy="1007.4" r="1.2"/><circle cx="676.7" cy="997.4" r="1.2"/><circle cx="677.0" cy="1020.8" r="1.2"/><circle cx="677.2" cy="988.2" r="1.2"/><circle cx="677.4" cy="1001.6" r="1.2"/><circle cx="677.6" cy="997.4" r="1.2"/><circle cx="677.8" cy="993.9" r="1.2"/><circle cx="678.1" cy="1002.9" r="1.2"/><circle cx="678.3" cy="989.8" r="1.2"/><circle cx="678.5" cy="981.3" r="1.2"/><circle cx="678.7" cy="976.4" r="1.2"/><circle cx="678.9" cy="995.0" r="1.2"/><circle cx="679.1" cy="981.1" r="1.2"/><circle cx="679.4" cy="972.2" r="1.2"/><circle cx="679.6" cy="984.3" r="1.2"/><circle cx="679.8" cy="1005.3" r="1.2"/><circle cx="680.0" cy="980.2" r="1.2"/><circle cx="680.2" cy="970.2" r="1.2"/><circle cx="680.4" cy="975.0" r="1.2"/><circle cx="680.7" cy="986.8" r="1.2"/><circle cx="680.9" cy="979.7" r="1.2"/><circle cx="681.1" cy="984.1" r="1.2"/><circle cx="681.3" cy="981.2" r="1.2"/><circle cx="683.0" cy="1032.1" r="1.2"/><circle cx="683.3" cy="1019.8" r="1.2"/><circle cx="683.5" cy="1035.3" r="1.2"/><circle cx="683.7" cy="1016.6" r="1.2"/><circle cx="683.9" cy="1006.6" r="1.2"/><circle cx="684.1" cy="1010.4" r="1.2"/><circle cx="684.4" cy="1022.9" r="1.2"/><circle cx="684.6" cy="1017.2" r="1.2"/><circle cx="684.8" cy="998.8" r="1.2"/><circle cx="685.0" cy="1009.5" r="1.2"/><circle cx="685.2" cy="1001.0" r="1.2"/><circle cx="685.4" cy="1020.7" r="1.2"/><circle cx="685.7" cy="1009.0" r="1.2"/><circle cx="685.9" cy="1032.3" r="1.2"/><circle cx="686.1" cy="1011.8" r="1.2"/><circle cx="686.3" cy="997.7" r="1.2"/><circle cx="686.5" cy="1005.5" r="1.2"/><circle cx="686.7" cy="1002.6" r="1.2"/><circle cx="687.0" cy="1000.5" r="1.2"/><circle cx="687.2" cy="999.4" r="1.2"/><circle cx="687.4" cy="1000.9" r="1.2"/><circle cx="687.6" cy="997.3" r="1.2"/><circle cx="687.8" cy="988.9" r="1.2"/><circle cx="688.0" cy="999.7" r="1.2"/><circle cx="688.3" cy="998.7" r="1.2"/><circle cx="688.5" cy="997.4" r="1.2"/><circle cx="688.7" cy="997.3" r="1.2"/><circle cx="688.9" cy="995.7" r="1.2"/><circle cx="689.1" cy="991.9" r="1.2"/><circle cx="689.4" cy="990.9" r="1.2"/><circle cx="689.6" cy="989.1" r="1.2"/><circle cx="689.8" cy="983.9" r="1.2"/><circle cx="690.0" cy="988.2" r="1.2"/><circle cx="690.2" cy="990.4" r="1.2"/><circle cx="690.4" cy="973.6" r="1.2"/><circle cx="690.7" cy="970.5" r="1.2"/><circle cx="692.4" cy="1013.7" r="1.2"/><circle cx="692.6" cy="1022.7" r="1.2"/><circle cx="692.8" cy="1008.3" r="1.2"/><circle cx="693.0" cy="1018.9" r="1.2"/><circle cx="693.3" cy="1008.9" r="1.2"/><circle cx="693.5" cy="1021.9" r="1.2"/><circle cx="693.7" cy="1010.0" r="1.2"/><circle cx="693.9" cy="1005.0" r="1.2"/><circle cx="694.1" cy="1001.9" r="1.2"/><circle cx="694.3" cy="1005.0" r="1.2"/><circle cx="694.6" cy="1015.3" r="1.2"/><circle cx="694.8" cy="1025.9" r="1.2"/><circle cx="695.0" cy="999.1" r="1.2"/><circle cx="695.2" cy="1004.8" r="1.2"/><circle cx="695.4" cy="1004.3" r="1.2"/><circle cx="695.7" cy="1002.9" r="1.2"/><circle cx="695.9" cy="1010.8" r="1.2"/><circle cx="696.1" cy="997.5" r="1.2"/><circle cx="696.3" cy="1001.4" r="1.2"/><circle cx="696.5" cy="994.8" r="1.2"/><circle cx="696.7" cy="994.0" r="1.2"/><circle cx="697.0" cy="988.7" r="1.2"/><circle cx="697.2" cy="996.7" r="1.2"/><circle cx="697.4" cy="1003.2" r="1.2"/><circle cx="697.6" cy="993.8" r="1.2"/><circle cx="697.8" cy="998.9" r="1.2"/><circle cx="698.0" cy="981.0" r="1.2"/><circle cx="698.3" cy="1013.9" r="1.2"/><circle cx="698.5" cy="986.4" r="1.2"/><circle cx="698.7" cy="1002.3" r="1.2"/><circle cx="698.9" cy="979.7" r="1.2"/><circle cx="699.1" cy="993.1" r="1.2"/><circle cx="699.3" cy="983.0" r="1.2"/><circle cx="699.6" cy="987.5" r="1.2"/><circle cx="699.8" cy="985.7" r="1.2"/><circle cx="700.0" cy="982.6" r="1.2"/><circle cx="706.7" cy="1053.9" r="1.2"/><circle cx="707.0" cy="1041.1" r="1.2"/><circle cx="707.2" cy="1029.1" r="1.2"/><circle cx="707.4" cy="1044.6" r="1.2"/><circle cx="707.6" cy="1024.8" r="1.2"/><circle cx="707.8" cy="1032.1" r="1.2"/><circle cx="708.0" cy="1013.8" r="1.2"/><circle cx="708.3" cy="1027.5" r="1.2"/><circle cx="708.5" cy="1038.7" r="1.2"/><circle cx="708.7" cy="1019.6" r="1.2"/><circle cx="708.9" cy="1030.9" r="1.2"/><circle cx="709.1" cy="1013.1" r="1.2"/><circle cx="709.3" cy="1022.1" r="1.2"/><circle cx="709.6" cy="1015.4" r="1.2"/><circle cx="709.8" cy="1005.1" r="1.2"/><circle cx="710.0" cy="1012.1" r="1.2"/><circle cx="710.2" cy="1007.5" r="1.2"/><circle cx="710.4" cy="1030.1" r="1.2"/><circle cx="710.6" cy="995.9" r="1.2"/><circle cx="710.9" cy="1000.3" r="1.2"/><circle cx="711.1" cy="999.4" r="1.2"/><circle cx="711.3" cy="982.3" r="1.2"/><circle cx="711.5" cy="985.1" r="1.2"/><circle cx="711.7" cy="1011.2" r="1.2"/><circle cx="711.9" cy="1005.8" r="1.2"/><circle cx="712.2" cy="992.7" r="1.2"/><circle cx="712.4" cy="1004.4" r="1.2"/><circle cx="712.6" cy="991.1" r="1.2"/><circle cx="712.8" cy="983.2" r="1.2"/><circle cx="713.0" cy="1004.2" r="1.2"/><circle cx="713.3" cy="993.1" r="1.2"/><circle cx="713.5" cy="976.0" r="1.2"/><circle cx="713.7" cy="983.0" r="1.2"/><circle cx="713.9" cy="995.4" r="1.2"/><circle cx="714.1" cy="978.7" r="1.2"/><circle cx="714.3" cy="974.8" r="1.2"/><circle cx="716.1" cy="1017.2" r="1.2"/><circle cx="716.3" cy="1031.0" r="1.2"/><circle cx="716.5" cy="999.8" r="1.2"/><circle cx="716.7" cy="1015.5" r="1.2"/><circle cx="716.9" cy="1010.9" r="1.2"/><circle cx="717.2" cy="1020.2" r="1.2"/><circle cx="717.4" cy="1019.5" r="1.2"/><circle cx="717.6" cy="1001.4" r="1.2"/><circle cx="717.8" cy="1014.6" r="1.2"/><circle cx="718.0" cy="985.3" r="1.2"/><circle cx="718.2" cy="976.6" r="1.2"/><circle cx="718.5" cy="1001.2" r="1.2"/><circle cx="718.7" cy="1023.1" r="1.2"/><circle cx="718.9" cy="1020.4" r="1.2"/><circle cx="719.1" cy="995.8" r="1.2"/><circle cx="719.3" cy="1000.1" r="1.2"/><circle cx="719.6" cy="984.8" r="1.2"/><circle cx="719.8" cy="999.1" r="1.2"/><circle cx="720.0" cy="992.5" r="1.2"/><circle cx="720.2" cy="991.9" r="1.2"/><circle cx="720.4" cy="997.9" r="1.2"/><circle cx="720.6" cy="999.6" r="1.2"/><circle cx="720.9" cy="1002.7" r="1.2"/><circle cx="721.1" cy="984.4" r="1.2"/><circle cx="721.3" cy="990.4" r="1.2"/><circle cx="721.5" cy="986.2" r="1.2"/><circle cx="721.7" cy="1002.2" r="1.2"/><circle cx="721.9" cy="992.7" r="1.2"/><circle cx="722.2" cy="983.1" r="1.2"/><circle cx="722.4" cy="967.6" r="1.2"/><circle cx="722.6" cy="995.2" r="1.2"/><circle cx="722.8" cy="994.6" r="1.2"/><circle cx="723.0" cy="981.0" r="1.2"/><circle cx="723.2" cy="990.9" r="1.2"/><circle cx="723.5" cy="986.2" r="1.2"/><circle cx="723.7" cy="969.0" r="1.2"/><circle cx="725.4" cy="1026.8" r="1.2"/><circle cx="725.6" cy="1006.7" r="1.2"/><circle cx="725.9" cy="1018.6" r="1.2"/><circle cx="726.1" cy="1007.7" r="1.2"/><circle cx="726.3" cy="1007.8" r="1.2"/><circle cx="726.5" cy="1002.0" r="1.2"/><circle cx="726.7" cy="989.4" r="1.2"/><circle cx="726.9" cy="1006.9" r="1.2"/><circle cx="727.2" cy="1005.2" r="1.2"/><circle cx="727.4" cy="1007.8" r="1.2"/><circle cx="727.6" cy="997.0" r="1.2"/><circle cx="727.8" cy="1003.6" r="1.2"/><circle cx="728.0" cy="1010.8" r="1.2"/><circle cx="728.2" cy="993.1" r="1.2"/><circle cx="728.5" cy="1004.0" r="1.2"/><circle cx="728.7" cy="998.6" r="1.2"/><circle cx="728.9" cy="1004.1" r="1.2"/><circle cx="729.1" cy="996.7" r="1.2"/><circle cx="729.3" cy="990.3" r="1.2"/><circle cx="729.5" cy="986.3" r="1.2"/><circle cx="729.8" cy="999.4" r="1.2"/><circle cx="730.0" cy="990.9" r="1.2"/><circle cx="730.2" cy="963.4" r="1.2"/><circle cx="730.4" cy="985.6" r="1.2"/><circle cx="730.6" cy="989.6" r="1.2"/><circle cx="730.9" cy="997.0" r="1.2"/><circle cx="731.1" cy="985.4" r="1.2"/><circle cx="731.3" cy="981.2" r="1.2"/><circle cx="731.5" cy="991.6" r="1.2"/><circle cx="731.7" cy="998.7" r="1.2"/><circle cx="731.9" cy="975.0" r="1.2"/><circle cx="732.2" cy="987.1" r="1.2"/><circle cx="732.4" cy="987.4" r="1.2"/><circle cx="732.6" cy="996.7" r="1.2"/><circle cx="732.8" cy="987.5" r="1.2"/><circle cx="733.0" cy="977.3" r="1.2"/><circle cx="734.8" cy="1030.7" r="1.2"/><circle cx="735.0" cy="1010.7" r="1.2"/><circle cx="735.2" cy="1019.4" r="1.2"/><circle cx="735.4" cy="1029.4" r="1.2"/><circle cx="735.6" cy="1013.6" r="1.2"/><circle cx="735.8" cy="1019.0" r="1.2"/><circle cx="736.1" cy="1022.8" r="1.2"/><circle cx="736.3" cy="1021.7" r="1.2"/><circle cx="736.5" cy="1005.5" r="1.2"/><circle cx="736.7" cy="1025.0" r="1.2"/><circle cx="736.9" cy="1026.6" r="1.2"/><circle cx="737.2" cy="1018.5" r="1.2"/><circle cx="737.4" cy="1007.8" r="1.2"/><circle cx="737.6" cy="1013.3" r="1.2"/><circle cx="737.8" cy="1012.0" r="1.2"/><circle cx="738.0" cy="1010.2" r="1.2"/><circle cx="738.2" cy="1009.2" r="1.2"/><circle cx="738.5" cy="1020.3" r="1.2"/><circle cx="738.7" cy="1008.4" r="1.2"/><circle cx="738.9" cy="1004.8" r="1.2"/><circle cx="739.1" cy="991.0" r="1.2"/><circle cx="739.3" cy="1008.3" r="1.2"/><circle cx="739.5" cy="1005.1" r="1.2"/><circle cx="739.8" cy="1022.0" r="1.2"/><circle cx="740.0" cy="996.5" r="1.2"/><circle cx="740.2" cy="1006.5" r="1.2"/><circle cx="740.4" cy="996.6" r="1.2"/><circle cx="740.6" cy="1004.9" r="1.2"/><circle cx="740.8" cy="979.7" r="1.2"/><circle cx="741.1" cy="980.2" r="1.2"/><circle cx="741.3" cy="998.8" r="1.2"/><circle cx="741.5" cy="981.1" r="1.2"/><circle cx="741.7" cy="994.4" r="1.2"/><circle cx="741.9" cy="974.4" r="1.2"/><circle cx="742.1" cy="989.7" r="1.2"/><circle cx="742.4" cy="994.3" r="1.2"/><circle cx="749.1" cy="1054.2" r="1.2"/><circle cx="749.3" cy="1046.7" r="1.2"/><circle cx="749.5" cy="1030.7" r="1.2"/><circle cx="749.8" cy="1042.0" r="1.2"/><circle cx="750.0" cy="1025.8" r="1.2"/><circle cx="750.2" cy="1044.6" r="1.2"/><circle cx="750.4" cy="1026.2" r="1.2"/><circle cx="750.6" cy="1027.1" r="1.2"/><circle cx="750.8" cy="1033.3" r="1.2"/><circle cx="751.1" cy="1021.3" r="1.2"/><circle cx="751.3" cy="1015.1" r="1.2"/><circle cx="751.5" cy="1008.2" r="1.2"/><circle cx="751.7" cy="1010.4" r="1.2"/><circle cx="751.9" cy="1026.0" r="1.2"/><circle cx="752.1" cy="1021.3" r="1.2"/><circle cx="752.4" cy="1016.0" r="1.2"/><circle cx="752.6" cy="1018.9" r="1.2"/><circle cx="752.8" cy="1020.9" r="1.2"/><circle cx="753.0" cy="983.8" r="1.2"/><circle cx="753.2" cy="1010.9" r="1.2"/><circle cx="753.4" cy="996.0" r="1.2"/><circle cx="753.7" cy="1009.3" r="1.2"/><circle cx="753.9" cy="1009.8" r="1.2"/><circle cx="754.1" cy="1014.2" r="1.2"/><circle cx="754.3" cy="1004.2" r="1.2"/><circle cx="754.5" cy="987.3" r="1.2"/><circle cx="754.8" cy="1002.6" r="1.2"/><circle cx="755.0" cy="1000.0" r="1.2"/><circle cx="755.2" cy="988.9" r="1.2"/><circle cx="755.4" cy="1001.7" r="1.2"/><circle cx="755.6" cy="992.3" r="1.2"/><circle cx="755.8" cy="1002.0" r="1.2"/><circle cx="756.1" cy="988.9" r="1.2"/><circle cx="756.3" cy="976.5" r="1.2"/><circle cx="756.5" cy="981.7" r="1.2"/><circle cx="756.7" cy="986.6" r="1.2"/><circle cx="758.4" cy="1028.6" r="1.2"/><circle cx="758.7" cy="1019.5" r="1.2"/><circle cx="758.9" cy="1018.8" r="1.2"/><circle cx="759.1" cy="1027.3" r="1.2"/><circle cx="759.3" cy="1027.1" r="1.2"/><circle cx="759.5" cy="1027.5" r="1.2"/><circle cx="759.7" cy="1019.8" r="1.2"/><circle cx="760.0" cy="1018.6" r="1.2"/><circle cx="760.2" cy="1021.0" r="1.2"/><circle cx="760.4" cy="1014.6" r="1.2"/><circle cx="760.6" cy="1007.7" r="1.2"/><circle cx="760.8" cy="1009.7" r="1.2"/><circle cx="761.1" cy="1012.0" r="1.2"/><circle cx="761.3" cy="1027.8" r="1.2"/><circle cx="761.5" cy="1012.7" r="1.2"/><circle cx="761.7" cy="1018.9" r="1.2"/><circle cx="761.9" cy="1002.0" r="1.2"/><circle cx="762.1" cy="1000.6" r="1.2"/><circle cx="762.4" cy="1009.3" r="1.2"/><circle cx="762.6" cy="1004.3" r="1.2"/><circle cx="762.8" cy="1001.8" r="1.2"/><circle cx="763.0" cy="1012.6" r="1.2"/><circle cx="763.2" cy="994.5" r="1.2"/><circle cx="763.4" cy="1007.2" r="1.2"/><circle cx="763.7" cy="999.6" r="1.2"/><circle cx="763.9" cy="991.9" r="1.2"/><circle cx="764.1" cy="986.2" r="1.2"/><circle cx="764.3" cy="990.0" r="1.2"/><circle cx="764.5" cy="982.5" r="1.2"/><circle cx="764.7" cy="998.1" r="1.2"/><circle cx="765.0" cy="991.3" r="1.2"/><circle cx="765.2" cy="978.2" r="1.2"/><circle cx="765.4" cy="987.6" r="1.2"/><circle cx="765.6" cy="982.4" r="1.2"/><circle cx="765.8" cy="997.9" r="1.2"/><circle cx="766.1" cy="984.7" r="1.2"/><circle cx="767.8" cy="1022.1" r="1.2"/><circle cx="768.0" cy="1017.9" r="1.2"/><circle cx="768.2" cy="1017.8" r="1.2"/><circle cx="768.4" cy="1007.9" r="1.2"/><circle cx="768.7" cy="1013.6" r="1.2"/><circle cx="768.9" cy="1017.3" r="1.2"/><circle cx="769.1" cy="1024.6" r="1.2"/><circle cx="769.3" cy="1023.8" r="1.2"/><circle cx="769.5" cy="1042.7" r="1.2"/><circle cx="769.7" cy="1021.1" r="1.2"/><circle cx="770.0" cy="1013.9" r="1.2"/><circle cx="770.2" cy="1020.8" r="1.2"/><circle cx="770.4" cy="1006.3" r="1.2"/><circle cx="770.6" cy="1007.8" r="1.2"/><circle cx="770.8" cy="1007.5" r="1.2"/><circle cx="771.0" cy="1005.8" r="1.2"/><circle cx="771.3" cy="1011.7" r="1.2"/><circle cx="771.5" cy="1016.6" r="1.2"/><circle cx="771.7" cy="1000.2" r="1.2"/><circle cx="771.9" cy="994.9" r="1.2"/><circle cx="772.1" cy="1012.3" r="1.2"/><circle cx="772.4" cy="1003.8" r="1.2"/><circle cx="772.6" cy="1008.5" r="1.2"/><circle cx="772.8" cy="1011.2" r="1.2"/><circle cx="773.0" cy="1004.5" r="1.2"/><circle cx="773.2" cy="991.9" r="1.2"/><circle cx="773.4" cy="1001.5" r="1.2"/><circle cx="773.7" cy="987.3" r="1.2"/><circle cx="773.9" cy="990.1" r="1.2"/><circle cx="774.1" cy="996.2" r="1.2"/><circle cx="774.3" cy="1005.2" r="1.2"/><circle cx="774.5" cy="999.5" r="1.2"/><circle cx="774.7" cy="991.3" r="1.2"/><circle cx="775.0" cy="1001.0" r="1.2"/><circle cx="775.2" cy="1000.2" r="1.2"/><circle cx="775.4" cy="995.7" r="1.2"/><circle cx="777.1" cy="1016.7" r="1.2"/><circle cx="777.3" cy="1015.4" r="1.2"/><circle cx="777.6" cy="1028.2" r="1.2"/><circle cx="777.8" cy="1002.2" r="1.2"/><circle cx="778.0" cy="1021.4" r="1.2"/><circle cx="778.2" cy="1010.9" r="1.2"/><circle cx="778.4" cy="1026.4" r="1.2"/><circle cx="778.7" cy="1022.7" r="1.2"/><circle cx="778.9" cy="1003.6" r="1.2"/><circle cx="779.1" cy="1023.8" r="1.2"/><circle cx="779.3" cy="1017.9" r="1.2"/><circle cx="779.5" cy="1009.1" r="1.2"/><circle cx="779.7" cy="1012.1" r="1.2"/><circle cx="780.0" cy="1030.6" r="1.2"/><circle cx="780.2" cy="1016.7" r="1.2"/><circle cx="780.4" cy="1012.5" r="1.2"/><circle cx="780.6" cy="1017.1" r="1.2"/><circle cx="780.8" cy="1007.2" r="1.2"/><circle cx="781.0" cy="1017.3" r="1.2"/><circle cx="781.3" cy="1001.2" r="1.2"/><circle cx="781.5" cy="998.9" r="1.2"/><circle cx="781.7" cy="1028.8" r="1.2"/><circle cx="781.9" cy="991.4" r="1.2"/><circle cx="782.1" cy="996.0" r="1.2"/><circle cx="782.3" cy="996.8" r="1.2"/><circle cx="782.6" cy="999.9" r="1.2"/><circle cx="782.8" cy="998.6" r="1.2"/><circle cx="783.0" cy="1009.8" r="1.2"/><circle cx="783.2" cy="987.3" r="1.2"/><circle cx="783.4" cy="982.1" r="1.2"/><circle cx="783.7" cy="1010.1" r="1.2"/><circle cx="783.9" cy="984.8" r="1.2"/><circle cx="784.1" cy="987.6" r="1.2"/><circle cx="784.3" cy="996.4" r="1.2"/><circle cx="784.5" cy="980.0" r="1.2"/><circle cx="784.7" cy="984.8" r="1.2"/><circle cx="792.1" cy="1044.5" r="1.2"/><circle cx="792.3" cy="1047.1" r="1.2"/><circle cx="792.6" cy="1049.6" r="1.2"/><circle cx="792.8" cy="1050.9" r="1.2"/><circle cx="793.0" cy="1039.8" r="1.2"/><circle cx="793.2" cy="1034.0" r="1.2"/><circle cx="793.4" cy="1023.6" r="1.2"/><circle cx="793.6" cy="1036.4" r="1.2"/><circle cx="793.9" cy="1018.4" r="1.2"/><circle cx="794.1" cy="1025.6" r="1.2"/><circle cx="794.3" cy="1032.0" r="1.2"/><circle cx="794.5" cy="1024.3" r="1.2"/><circle cx="794.7" cy="1029.3" r="1.2"/><circle cx="794.9" cy="1026.2" r="1.2"/><circle cx="795.2" cy="1005.5" r="1.2"/><circle cx="795.4" cy="1021.5" r="1.2"/><circle cx="795.6" cy="1027.7" r="1.2"/><circle cx="795.8" cy="1018.3" r="1.2"/><circle cx="796.0" cy="1004.6" r="1.2"/><circle cx="796.3" cy="1018.2" r="1.2"/><circle cx="796.5" cy="1004.0" r="1.2"/><circle cx="796.7" cy="1020.4" r="1.2"/><circle cx="796.9" cy="1014.9" r="1.2"/><circle cx="797.1" cy="1007.3" r="1.2"/><circle cx="797.3" cy="1002.4" r="1.2"/><circle cx="797.6" cy="1015.4" r="1.2"/><circle cx="797.8" cy="997.3" r="1.2"/><circle cx="798.0" cy="997.9" r="1.2"/><circle cx="798.2" cy="1005.3" r="1.2"/><circle cx="798.4" cy="1003.0" r="1.2"/><circle cx="798.6" cy="1003.6" r="1.2"/><circle cx="798.9" cy="1002.1" r="1.2"/><circle cx="799.1" cy="1019.6" r="1.2"/><circle cx="799.3" cy="998.3" r="1.2"/><circle cx="799.5" cy="994.8" r="1.2"/><circle cx="799.7" cy="985.6" r="1.2"/><circle cx="801.5" cy="1042.0" r="1.2"/><circle cx="801.7" cy="1025.6" r="1.2"/><circle cx="801.9" cy="1042.8" r="1.2"/><circle cx="802.1" cy="1018.7" r="1.2"/><circle cx="802.3" cy="1036.3" r="1.2"/><circle cx="802.6" cy="1019.6" r="1.2"/><circle cx="802.8" cy="1019.6" r="1.2"/><circle cx="803.0" cy="1000.3" r="1.2"/><circle cx="803.2" cy="1029.3" r="1.2"/><circle cx="803.4" cy="1022.1" r="1.2"/><circle cx="803.6" cy="1023.8" r="1.2"/><circle cx="803.9" cy="1017.3" r="1.2"/><circle cx="804.1" cy="1024.7" r="1.2"/><circle cx="804.3" cy="1004.9" r="1.2"/><circle cx="804.5" cy="1008.8" r="1.2"/><circle cx="804.7" cy="1012.8" r="1.2"/><circle cx="804.9" cy="1020.5" r="1.2"/><circle cx="805.2" cy="1025.1" r="1.2"/><circle cx="805.4" cy="1011.2" r="1.2"/><circle cx="805.6" cy="1012.3" r="1.2"/><circle cx="805.8" cy="1018.2" r="1.2"/><circle cx="806.0" cy="1017.3" r="1.2"/><circle cx="806.2" cy="1013.5" r="1.2"/><circle cx="806.5" cy="1004.9" r="1.2"/><circle cx="806.7" cy="1014.9" r="1.2"/><circle cx="806.9" cy="1003.1" r="1.2"/><circle cx="807.1" cy="998.4" r="1.2"/><circle cx="807.3" cy="1019.2" r="1.2"/><circle cx="807.6" cy="980.1" r="1.2"/><circle cx="807.8" cy="1008.9" r="1.2"/><circle cx="808.0" cy="997.0" r="1.2"/><circle cx="808.2" cy="993.5" r="1.2"/><circle cx="808.4" cy="986.9" r="1.2"/><circle cx="808.6" cy="997.0" r="1.2"/><circle cx="808.9" cy="992.8" r="1.2"/><circle cx="809.1" cy="990.4" r="1.2"/><circle cx="810.8" cy="1035.3" r="1.2"/><circle cx="811.0" cy="1018.5" r="1.2"/><circle cx="811.2" cy="1036.6" r="1.2"/><circle cx="811.5" cy="1021.4" r="1.2"/><circle cx="811.7" cy="1022.9" r="1.2"/><circle cx="811.9" cy="1041.6" r="1.2"/><circle cx="812.1" cy="1025.7" r="1.2"/><circle cx="812.3" cy="1007.6" r="1.2"/><circle cx="812.5" cy="1023.2" r="1.2"/><circle cx="812.8" cy="1020.3" r="1.2"/><circle cx="813.0" cy="1034.5" r="1.2"/><circle cx="813.2" cy="1007.2" r="1.2"/><circle cx="813.4" cy="1024.9" r="1.2"/><circle cx="813.6" cy="1021.0" r="1.2"/><circle cx="813.9" cy="1019.5" r="1.2"/><circle cx="814.1" cy="1021.0" r="1.2"/><circle cx="814.3" cy="1023.8" r="1.2"/><circle cx="814.5" cy="1016.2" r="1.2"/><circle cx="814.7" cy="1013.3" r="1.2"/><circle cx="814.9" cy="1009.2" r="1.2"/><circle cx="815.2" cy="1008.2" r="1.2"/><circle cx="815.4" cy="997.2" r="1.2"/><circle cx="815.6" cy="1026.5" r="1.2"/><circle cx="815.8" cy="1004.8" r="1.2"/><circle cx="816.0" cy="992.2" r="1.2"/><circle cx="816.2" cy="1016.6" r="1.2"/><circle cx="816.5" cy="1011.8" r="1.2"/><circle cx="816.7" cy="1023.4" r="1.2"/><circle cx="816.9" cy="1004.4" r="1.2"/><circle cx="817.1" cy="997.5" r="1.2"/><circle cx="817.3" cy="996.4" r="1.2"/><circle cx="817.5" cy="999.8" r="1.2"/><circle cx="817.8" cy="1007.7" r="1.2"/><circle cx="818.0" cy="998.4" r="1.2"/><circle cx="818.2" cy="1002.5" r="1.2"/><circle cx="818.4" cy="1006.6" r="1.2"/><circle cx="826.5" cy="1044.0" r="1.2"/><circle cx="826.7" cy="1029.4" r="1.2"/><circle cx="826.9" cy="1041.5" r="1.2"/><circle cx="827.1" cy="1037.2" r="1.2"/><circle cx="827.3" cy="1030.6" r="1.2"/><circle cx="827.5" cy="1032.8" r="1.2"/><circle cx="827.8" cy="1019.5" r="1.2"/><circle cx="828.0" cy="1033.6" r="1.2"/><circle cx="828.2" cy="1021.7" r="1.2"/><circle cx="828.4" cy="1016.3" r="1.2"/><circle cx="828.6" cy="1013.9" r="1.2"/><circle cx="828.8" cy="1018.7" r="1.2"/><circle cx="829.1" cy="1012.9" r="1.2"/><circle cx="829.3" cy="1007.4" r="1.2"/><circle cx="829.5" cy="1006.5" r="1.2"/><circle cx="829.7" cy="1004.0" r="1.2"/><circle cx="829.9" cy="1019.4" r="1.2"/><circle cx="830.1" cy="1004.6" r="1.2"/><circle cx="830.4" cy="1019.5" r="1.2"/><circle cx="830.6" cy="1010.9" r="1.2"/><circle cx="830.8" cy="990.8" r="1.2"/><circle cx="831.0" cy="1010.5" r="1.2"/><circle cx="831.2" cy="994.8" r="1.2"/><circle cx="831.5" cy="997.0" r="1.2"/><circle cx="831.7" cy="997.9" r="1.2"/><circle cx="831.9" cy="995.5" r="1.2"/><circle cx="832.1" cy="987.9" r="1.2"/><circle cx="832.3" cy="985.9" r="1.2"/><circle cx="832.5" cy="986.5" r="1.2"/><circle cx="832.8" cy="985.9" r="1.2"/><circle cx="833.0" cy="996.5" r="1.2"/><circle cx="833.2" cy="992.4" r="1.2"/><circle cx="833.4" cy="970.0" r="1.2"/><circle cx="833.6" cy="1002.8" r="1.2"/><circle cx="833.8" cy="996.2" r="1.2"/><circle cx="834.1" cy="975.9" r="1.2"/><circle cx="835.8" cy="1034.7" r="1.2"/><circle cx="836.0" cy="1018.4" r="1.2"/><circle cx="836.2" cy="1032.9" r="1.2"/><circle cx="836.4" cy="1027.1" r="1.2"/><circle cx="836.7" cy="1014.8" r="1.2"/><circle cx="836.9" cy="1014.0" r="1.2"/><circle cx="837.1" cy="1031.5" r="1.2"/><circle cx="837.3" cy="1019.5" r="1.2"/><circle cx="837.5" cy="1020.9" r="1.2"/><circle cx="837.8" cy="1016.7" r="1.2"/><circle cx="838.0" cy="1003.7" r="1.2"/><circle cx="838.2" cy="1013.4" r="1.2"/><circle cx="838.4" cy="1003.5" r="1.2"/><circle cx="838.6" cy="1007.5" r="1.2"/><circle cx="838.8" cy="1007.8" r="1.2"/><circle cx="839.1" cy="1005.4" r="1.2"/><circle cx="839.3" cy="1004.4" r="1.2"/><circle cx="839.5" cy="1019.0" r="1.2"/><circle cx="839.7" cy="1001.4" r="1.2"/><circle cx="839.9" cy="1005.6" r="1.2"/><circle cx="840.1" cy="1029.2" r="1.2"/><circle cx="840.4" cy="1013.6" r="1.2"/><circle cx="840.6" cy="998.2" r="1.2"/><circle cx="840.8" cy="995.6" r="1.2"/><circle cx="841.0" cy="1018.7" r="1.2"/><circle cx="841.2" cy="997.5" r="1.2"/><circle cx="841.4" cy="1021.5" r="1.2"/><circle cx="841.7" cy="997.1" r="1.2"/><circle cx="841.9" cy="994.4" r="1.2"/><circle cx="842.1" cy="990.0" r="1.2"/><circle cx="842.3" cy="998.4" r="1.2"/><circle cx="842.5" cy="1006.9" r="1.2"/><circle cx="842.8" cy="980.9" r="1.2"/><circle cx="843.0" cy="990.3" r="1.2"/><circle cx="843.2" cy="981.3" r="1.2"/><circle cx="843.4" cy="997.7" r="1.2"/><circle cx="845.1" cy="1013.6" r="1.2"/><circle cx="845.4" cy="1029.0" r="1.2"/><circle cx="845.6" cy="1028.8" r="1.2"/><circle cx="845.8" cy="1028.3" r="1.2"/><circle cx="846.0" cy="995.4" r="1.2"/><circle cx="846.2" cy="1006.6" r="1.2"/><circle cx="846.4" cy="1018.3" r="1.2"/><circle cx="846.7" cy="1013.2" r="1.2"/><circle cx="846.9" cy="1006.1" r="1.2"/><circle cx="847.1" cy="1020.2" r="1.2"/><circle cx="847.3" cy="1001.5" r="1.2"/><circle cx="847.5" cy="1016.2" r="1.2"/><circle cx="847.7" cy="1012.1" r="1.2"/><circle cx="848.0" cy="1002.5" r="1.2"/><circle cx="848.2" cy="1014.6" r="1.2"/><circle cx="848.4" cy="1011.5" r="1.2"/><circle cx="848.6" cy="1018.8" r="1.2"/><circle cx="848.8" cy="1005.7" r="1.2"/><circle cx="849.1" cy="1001.9" r="1.2"/><circle cx="849.3" cy="1006.1" r="1.2"/><circle cx="849.5" cy="998.4" r="1.2"/><circle cx="849.7" cy="991.1" r="1.2"/><circle cx="849.9" cy="998.5" r="1.2"/><circle cx="850.1" cy="1009.6" r="1.2"/><circle cx="850.4" cy="1013.0" r="1.2"/><circle cx="850.6" cy="992.4" r="1.2"/><circle cx="850.8" cy="1017.5" r="1.2"/><circle cx="851.0" cy="989.4" r="1.2"/><circle cx="851.2" cy="1006.8" r="1.2"/><circle cx="851.4" cy="1007.8" r="1.2"/><circle cx="851.7" cy="993.3" r="1.2"/><circle cx="851.9" cy="991.3" r="1.2"/><circle cx="852.1" cy="991.1" r="1.2"/><circle cx="852.3" cy="1009.2" r="1.2"/><circle cx="852.5" cy="977.3" r="1.2"/><circle cx="852.7" cy="982.3" r="1.2"/><circle cx="859.5" cy="1042.3" r="1.2"/><circle cx="859.7" cy="1041.0" r="1.2"/><circle cx="859.9" cy="1024.3" r="1.2"/><circle cx="860.1" cy="1041.6" r="1.2"/><circle cx="860.3" cy="1034.1" r="1.2"/><circle cx="860.6" cy="1034.3" r="1.2"/><circle cx="860.8" cy="1036.5" r="1.2"/><circle cx="861.0" cy="1021.1" r="1.2"/><circle cx="861.2" cy="1033.4" r="1.2"/><circle cx="861.4" cy="1030.0" r="1.2"/><circle cx="861.7" cy="1025.1" r="1.2"/><circle cx="861.9" cy="1028.2" r="1.2"/><circle cx="862.1" cy="1023.6" r="1.2"/><circle cx="862.3" cy="1017.1" r="1.2"/><circle cx="862.5" cy="1006.0" r="1.2"/><circle cx="862.7" cy="1025.8" r="1.2"/><circle cx="863.0" cy="1010.4" r="1.2"/><circle cx="863.2" cy="1022.6" r="1.2"/><circle cx="863.4" cy="1018.6" r="1.2"/><circle cx="863.6" cy="1020.8" r="1.2"/><circle cx="863.8" cy="991.9" r="1.2"/><circle cx="864.0" cy="1008.3" r="1.2"/><circle cx="864.3" cy="1008.1" r="1.2"/><circle cx="864.5" cy="1000.0" r="1.2"/><circle cx="864.7" cy="1020.0" r="1.2"/><circle cx="864.9" cy="1007.7" r="1.2"/><circle cx="865.1" cy="1008.9" r="1.2"/><circle cx="865.3" cy="1000.7" r="1.2"/><circle cx="865.6" cy="1000.9" r="1.2"/><circle cx="865.8" cy="982.8" r="1.2"/><circle cx="866.0" cy="992.4" r="1.2"/><circle cx="866.2" cy="989.2" r="1.2"/><circle cx="866.4" cy="1009.0" r="1.2"/><circle cx="866.7" cy="995.4" r="1.2"/><circle cx="866.9" cy="1004.8" r="1.2"/><circle cx="867.1" cy="978.0" r="1.2"/><circle cx="868.8" cy="1032.9" r="1.2"/><circle cx="869.0" cy="1044.3" r="1.2"/><circle cx="869.3" cy="1024.7" r="1.2"/><circle cx="869.5" cy="1010.3" r="1.2"/><circle cx="869.7" cy="1030.7" r="1.2"/><circle cx="869.9" cy="1026.6" r="1.2"/><circle cx="870.1" cy="1033.2" r="1.2"/><circle cx="870.3" cy="1035.6" r="1.2"/><circle cx="870.6" cy="1018.1" r="1.2"/><circle cx="870.8" cy="1006.3" r="1.2"/><circle cx="871.0" cy="1015.1" r="1.2"/><circle cx="871.2" cy="1018.9" r="1.2"/><circle cx="871.4" cy="1002.7" r="1.2"/><circle cx="871.6" cy="1012.9" r="1.2"/><circle cx="871.9" cy="1011.7" r="1.2"/><circle cx="872.1" cy="1018.9" r="1.2"/><circle cx="872.3" cy="1026.9" r="1.2"/><circle cx="872.5" cy="1025.3" r="1.2"/><circle cx="872.7" cy="1008.1" r="1.2"/><circle cx="873.0" cy="1000.2" r="1.2"/><circle cx="873.2" cy="1012.5" r="1.2"/><circle cx="873.4" cy="1002.8" r="1.2"/><circle cx="873.6" cy="1005.9" r="1.2"/><circle cx="873.8" cy="1013.3" r="1.2"/><circle cx="874.0" cy="1014.5" r="1.2"/><circle cx="874.3" cy="1011.9" r="1.2"/><circle cx="874.5" cy="1009.1" r="1.2"/><circle cx="874.7" cy="1002.8" r="1.2"/><circle cx="874.9" cy="1006.5" r="1.2"/><circle cx="875.1" cy="1017.0" r="1.2"/><circle cx="875.3" cy="1003.0" r="1.2"/><circle cx="875.6" cy="996.9" r="1.2"/><circle cx="875.8" cy="997.4" r="1.2"/><circle cx="876.0" cy="1000.1" r="1.2"/><circle cx="876.2" cy="988.4" r="1.2"/><circle cx="876.4" cy="988.7" r="1.2"/><circle cx="878.2" cy="1030.5" r="1.2"/><circle cx="878.4" cy="1025.8" r="1.2"/><circle cx="878.6" cy="1030.3" r="1.2"/><circle cx="878.8" cy="1030.4" r="1.2"/><circle cx="879.0" cy="1026.4" r="1.2"/><circle cx="879.3" cy="1022.7" r="1.2"/><circle cx="879.5" cy="1027.1" r="1.2"/><circle cx="879.7" cy="1038.9" r="1.2"/><circle cx="879.9" cy="1030.6" r="1.2"/><circle cx="880.1" cy="1013.8" r="1.2"/><circle cx="880.3" cy="1023.4" r="1.2"/><circle cx="880.6" cy="1016.8" r="1.2"/><circle cx="880.8" cy="1013.6" r="1.2"/><circle cx="881.0" cy="1032.0" r="1.2"/><circle cx="881.2" cy="1022.1" r="1.2"/><circle cx="881.4" cy="1018.4" r="1.2"/><circle cx="881.6" cy="1017.1" r="1.2"/><circle cx="881.9" cy="1012.6" r="1.2"/><circle cx="882.1" cy="1012.7" r="1.2"/><circle cx="882.3" cy="1017.1" r="1.2"/><circle cx="882.5" cy="1028.4" r="1.2"/><circle cx="882.7" cy="1016.5" r="1.2"/><circle cx="882.9" cy="999.2" r="1.2"/><circle cx="883.2" cy="1014.5" r="1.2"/><circle cx="883.4" cy="1001.3" r="1.2"/><circle cx="883.6" cy="1014.7" r="1.2"/><circle cx="883.8" cy="1000.2" r="1.2"/><circle cx="884.0" cy="1004.5" r="1.2"/><circle cx="884.3" cy="1017.6" r="1.2"/><circle cx="884.5" cy="994.2" r="1.2"/><circle cx="884.7" cy="1006.0" r="1.2"/><circle cx="884.9" cy="998.4" r="1.2"/><circle cx="885.1" cy="1004.5" r="1.2"/><circle cx="885.3" cy="1019.2" r="1.2"/><circle cx="885.6" cy="998.7" r="1.2"/><circle cx="885.8" cy="1016.1" r="1.2"/><circle cx="887.5" cy="1036.5" r="1.2"/><circle cx="887.7" cy="1049.3" r="1.2"/><circle cx="887.9" cy="1025.0" r="1.2"/><circle cx="888.2" cy="1025.9" r="1.2"/><circle cx="888.4" cy="1028.3" r="1.2"/><circle cx="888.6" cy="1023.2" r="1.2"/><circle cx="888.8" cy="1024.6" r="1.2"/><circle cx="889.0" cy="1029.0" r="1.2"/><circle cx="889.2" cy="1033.7" r="1.2"/><circle cx="889.5" cy="1012.6" r="1.2"/><circle cx="889.7" cy="1018.6" r="1.2"/><circle cx="889.9" cy="1030.9" r="1.2"/><circle cx="890.1" cy="1030.5" r="1.2"/><circle cx="890.3" cy="1025.7" r="1.2"/><circle cx="890.6" cy="1019.1" r="1.2"/><circle cx="890.8" cy="1022.8" r="1.2"/><circle cx="891.0" cy="1022.2" r="1.2"/><circle cx="891.2" cy="1015.8" r="1.2"/><circle cx="891.4" cy="1026.1" r="1.2"/><circle cx="891.6" cy="1009.2" r="1.2"/><circle cx="891.9" cy="1018.6" r="1.2"/><circle cx="892.1" cy="1012.6" r="1.2"/><circle cx="892.3" cy="1006.6" r="1.2"/><circle cx="892.5" cy="1021.1" r="1.2"/><circle cx="892.7" cy="1011.3" r="1.2"/><circle cx="892.9" cy="1013.3" r="1.2"/><circle cx="893.2" cy="1006.7" r="1.2"/><circle cx="893.4" cy="1023.9" r="1.2"/><circle cx="893.6" cy="1017.9" r="1.2"/><circle cx="893.8" cy="1021.4" r="1.2"/><circle cx="894.0" cy="1018.5" r="1.2"/><circle cx="894.2" cy="1004.4" r="1.2"/><circle cx="894.5" cy="1003.0" r="1.2"/><circle cx="894.7" cy="1007.0" r="1.2"/><circle cx="894.9" cy="992.0" r="1.2"/><circle cx="895.1" cy="999.0" r="1.2"/><circle cx="901.4" cy="1067.0" r="1.2"/><circle cx="901.6" cy="1043.5" r="1.2"/><circle cx="901.9" cy="1055.6" r="1.2"/><circle cx="902.1" cy="1040.6" r="1.2"/><circle cx="902.3" cy="1041.2" r="1.2"/><circle cx="902.5" cy="1045.7" r="1.2"/><circle cx="902.7" cy="1048.6" r="1.2"/><circle cx="902.9" cy="1051.1" r="1.2"/><circle cx="903.2" cy="1027.3" r="1.2"/><circle cx="903.4" cy="1031.8" r="1.2"/><circle cx="903.6" cy="1031.9" r="1.2"/><circle cx="903.8" cy="1018.5" r="1.2"/><circle cx="904.0" cy="1022.7" r="1.2"/><circle cx="904.2" cy="1033.1" r="1.2"/><circle cx="904.5" cy="1025.3" r="1.2"/><circle cx="904.7" cy="1029.9" r="1.2"/><circle cx="904.9" cy="1018.9" r="1.2"/><circle cx="905.1" cy="1025.3" r="1.2"/><circle cx="905.3" cy="1023.5" r="1.2"/><circle cx="905.5" cy="1021.9" r="1.2"/><circle cx="905.8" cy="1025.9" r="1.2"/><circle cx="906.0" cy="1027.4" r="1.2"/><circle cx="906.2" cy="998.1" r="1.2"/><circle cx="906.4" cy="1013.2" r="1.2"/><circle cx="906.6" cy="1007.5" r="1.2"/><circle cx="906.8" cy="1017.0" r="1.2"/><circle cx="907.1" cy="1023.2" r="1.2"/><circle cx="907.3" cy="1010.4" r="1.2"/><circle cx="907.5" cy="998.8" r="1.2"/><circle cx="907.7" cy="1029.1" r="1.2"/><circle cx="907.9" cy="1003.9" r="1.2"/><circle cx="908.2" cy="1007.5" r="1.2"/><circle cx="908.4" cy="998.3" r="1.2"/><circle cx="908.6" cy="1003.8" r="1.2"/><circle cx="908.8" cy="993.5" r="1.2"/><circle cx="909.0" cy="999.2" r="1.2"/><circle cx="910.8" cy="1043.1" r="1.2"/><circle cx="911.0" cy="1020.3" r="1.2"/><circle cx="911.2" cy="1017.5" r="1.2"/><circle cx="911.4" cy="1021.3" r="1.2"/><circle cx="911.6" cy="1040.2" r="1.2"/><circle cx="911.8" cy="1029.1" r="1.2"/><circle cx="912.1" cy="1019.3" r="1.2"/><circle cx="912.3" cy="1025.4" r="1.2"/><circle cx="912.5" cy="1010.6" r="1.2"/><circle cx="912.7" cy="1028.3" r="1.2"/><circle cx="912.9" cy="1022.3" r="1.2"/><circle cx="913.1" cy="1024.4" r="1.2"/><circle cx="913.4" cy="1028.7" r="1.2"/><circle cx="913.6" cy="1010.7" r="1.2"/><circle cx="913.8" cy="1008.2" r="1.2"/><circle cx="914.0" cy="1014.3" r="1.2"/><circle cx="914.2" cy="1035.5" r="1.2"/><circle cx="914.5" cy="1030.4" r="1.2"/><circle cx="914.7" cy="1025.5" r="1.2"/><circle cx="914.9" cy="1027.9" r="1.2"/><circle cx="915.1" cy="1015.8" r="1.2"/><circle cx="915.3" cy="1016.9" r="1.2"/><circle cx="915.5" cy="1011.6" r="1.2"/><circle cx="915.8" cy="1003.8" r="1.2"/><circle cx="916.0" cy="1010.5" r="1.2"/><circle cx="916.2" cy="1009.7" r="1.2"/><circle cx="916.4" cy="1013.1" r="1.2"/><circle cx="916.6" cy="1002.1" r="1.2"/><circle cx="916.8" cy="1001.1" r="1.2"/><circle cx="917.1" cy="1004.7" r="1.2"/><circle cx="917.3" cy="995.6" r="1.2"/><circle cx="917.5" cy="1019.6" r="1.2"/><circle cx="917.7" cy="997.0" r="1.2"/><circle cx="917.9" cy="1001.4" r="1.2"/><circle cx="918.1" cy="1016.4" r="1.2"/><circle cx="918.4" cy="1001.4" r="1.2"/><circle cx="920.1" cy="1044.1" r="1.2"/><circle cx="920.3" cy="1040.2" r="1.2"/><circle cx="920.5" cy="1042.1" r="1.2"/><circle cx="920.8" cy="1047.2" r="1.2"/><circle cx="921.0" cy="1027.0" r="1.2"/><circle cx="921.2" cy="1036.5" r="1.2"/><circle cx="921.4" cy="1011.4" r="1.2"/><circle cx="921.6" cy="1032.0" r="1.2"/><circle cx="921.8" cy="1030.0" r="1.2"/><circle cx="922.1" cy="1027.4" r="1.2"/><circle cx="922.3" cy="1019.7" r="1.2"/><circle cx="922.5" cy="1023.7" r="1.2"/><circle cx="922.7" cy="1030.3" r="1.2"/><circle cx="922.9" cy="1014.1" r="1.2"/><circle cx="923.1" cy="1018.0" r="1.2"/><circle cx="923.4" cy="1015.2" r="1.2"/><circle cx="923.6" cy="1026.5" r="1.2"/><circle cx="923.8" cy="1030.9" r="1.2"/><circle cx="924.0" cy="1015.2" r="1.2"/><circle cx="924.2" cy="1032.8" r="1.2"/><circle cx="924.4" cy="1020.1" r="1.2"/><circle cx="924.7" cy="1016.2" r="1.2"/><circle cx="924.9" cy="1028.8" r="1.2"/><circle cx="925.1" cy="1015.6" r="1.2"/><circle cx="925.3" cy="1014.9" r="1.2"/><circle cx="925.5" cy="1010.5" r="1.2"/><circle cx="925.8" cy="1017.3" r="1.2"/><circle cx="926.0" cy="1006.4" r="1.2"/><circle cx="926.2" cy="1019.5" r="1.2"/><circle cx="926.4" cy="1003.4" r="1.2"/><circle cx="926.6" cy="1015.6" r="1.2"/><circle cx="926.8" cy="1027.1" r="1.2"/><circle cx="927.1" cy="998.3" r="1.2"/><circle cx="927.3" cy="1015.6" r="1.2"/><circle cx="927.5" cy="995.5" r="1.2"/><circle cx="927.7" cy="1013.2" r="1.2"/><circle cx="929.4" cy="1024.8" r="1.2"/><circle cx="929.7" cy="1029.5" r="1.2"/><circle cx="929.9" cy="1046.9" r="1.2"/><circle cx="930.1" cy="1032.3" r="1.2"/><circle cx="930.3" cy="1033.4" r="1.2"/><circle cx="930.5" cy="1046.6" r="1.2"/><circle cx="930.7" cy="1027.8" r="1.2"/><circle cx="931.0" cy="1042.8" r="1.2"/><circle cx="931.2" cy="1041.7" r="1.2"/><circle cx="931.4" cy="1032.2" r="1.2"/><circle cx="931.6" cy="1030.4" r="1.2"/><circle cx="931.8" cy="1006.9" r="1.2"/><circle cx="932.1" cy="1036.1" r="1.2"/><circle cx="932.3" cy="1025.4" r="1.2"/><circle cx="932.5" cy="1037.5" r="1.2"/><circle cx="932.7" cy="1022.1" r="1.2"/><circle cx="932.9" cy="1019.6" r="1.2"/><circle cx="933.1" cy="1019.7" r="1.2"/><circle cx="933.4" cy="1032.4" r="1.2"/><circle cx="933.6" cy="1022.1" r="1.2"/><circle cx="933.8" cy="1007.1" r="1.2"/><circle cx="934.0" cy="1032.4" r="1.2"/><circle cx="934.2" cy="995.4" r="1.2"/><circle cx="934.4" cy="1026.7" r="1.2"/><circle cx="934.7" cy="1023.3" r="1.2"/><circle cx="934.9" cy="998.2" r="1.2"/><circle cx="935.1" cy="1008.6" r="1.2"/><circle cx="935.3" cy="1011.9" r="1.2"/><circle cx="935.5" cy="990.0" r="1.2"/><circle cx="935.7" cy="1004.7" r="1.2"/><circle cx="936.0" cy="1016.5" r="1.2"/><circle cx="936.2" cy="1012.3" r="1.2"/><circle cx="936.4" cy="1018.1" r="1.2"/><circle cx="936.6" cy="1020.5" r="1.2"/><circle cx="936.8" cy="1005.5" r="1.2"/><circle cx="937.0" cy="1020.9" r="1.2"/><circle cx="944.4" cy="1060.0" r="1.2"/><circle cx="944.7" cy="1059.9" r="1.2"/><circle cx="944.9" cy="1045.4" r="1.2"/><circle cx="945.1" cy="1066.6" r="1.2"/><circle cx="945.3" cy="1047.7" r="1.2"/><circle cx="945.5" cy="1052.9" r="1.2"/><circle cx="945.7" cy="1043.4" r="1.2"/><circle cx="946.0" cy="1030.2" r="1.2"/><circle cx="946.2" cy="1034.3" r="1.2"/><circle cx="946.4" cy="1040.3" r="1.2"/><circle cx="946.6" cy="1029.9" r="1.2"/><circle cx="946.8" cy="1036.1" r="1.2"/><circle cx="947.0" cy="1018.5" r="1.2"/><circle cx="947.3" cy="1016.8" r="1.2"/><circle cx="947.5" cy="1023.5" r="1.2"/><circle cx="947.7" cy="1033.2" r="1.2"/><circle cx="947.9" cy="1036.6" r="1.2"/><circle cx="948.1" cy="1024.5" r="1.2"/><circle cx="948.3" cy="1025.7" r="1.2"/><circle cx="948.6" cy="1031.3" r="1.2"/><circle cx="948.8" cy="1018.6" r="1.2"/><circle cx="949.0" cy="1016.0" r="1.2"/><circle cx="949.2" cy="1016.5" r="1.2"/><circle cx="949.4" cy="1019.0" r="1.2"/><circle cx="949.7" cy="1005.5" r="1.2"/><circle cx="949.9" cy="1003.0" r="1.2"/><circle cx="950.1" cy="999.0" r="1.2"/><circle cx="950.3" cy="1027.1" r="1.2"/><circle cx="950.5" cy="1014.9" r="1.2"/><circle cx="950.7" cy="996.5" r="1.2"/><circle cx="951.0" cy="1015.2" r="1.2"/><circle cx="951.2" cy="988.3" r="1.2"/><circle cx="951.4" cy="1007.4" r="1.2"/><circle cx="951.6" cy="999.1" r="1.2"/><circle cx="951.8" cy="999.2" r="1.2"/><circle cx="952.0" cy="1007.7" r="1.2"/><circle cx="953.8" cy="1040.8" r="1.2"/><circle cx="954.0" cy="1025.6" r="1.2"/><circle cx="954.2" cy="1036.8" r="1.2"/><circle cx="954.4" cy="1030.6" r="1.2"/><circle cx="954.6" cy="1027.8" r="1.2"/><circle cx="954.9" cy="1018.8" r="1.2"/><circle cx="955.1" cy="1025.0" r="1.2"/><circle cx="955.3" cy="1021.5" r="1.2"/><circle cx="955.5" cy="1025.7" r="1.2"/><circle cx="955.7" cy="1006.8" r="1.2"/><circle cx="956.0" cy="1018.8" r="1.2"/><circle cx="956.2" cy="1020.1" r="1.2"/><circle cx="956.4" cy="1002.1" r="1.2"/><circle cx="956.6" cy="1014.8" r="1.2"/><circle cx="956.8" cy="1021.0" r="1.2"/><circle cx="957.0" cy="1015.4" r="1.2"/><circle cx="957.3" cy="1017.1" r="1.2"/><circle cx="957.5" cy="1018.3" r="1.2"/><circle cx="957.7" cy="1012.1" r="1.2"/><circle cx="957.9" cy="1006.1" r="1.2"/><circle cx="958.1" cy="1009.3" r="1.2"/><circle cx="958.3" cy="1013.1" r="1.2"/><circle cx="958.6" cy="1013.5" r="1.2"/><circle cx="958.8" cy="1009.0" r="1.2"/><circle cx="959.0" cy="1012.6" r="1.2"/><circle cx="959.2" cy="1015.2" r="1.2"/><circle cx="959.4" cy="1012.9" r="1.2"/><circle cx="959.6" cy="1010.1" r="1.2"/><circle cx="959.9" cy="1005.2" r="1.2"/><circle cx="960.1" cy="1010.5" r="1.2"/><circle cx="960.3" cy="1017.9" r="1.2"/><circle cx="960.5" cy="998.8" r="1.2"/><circle cx="960.7" cy="1006.9" r="1.2"/><circle cx="961.0" cy="1011.2" r="1.2"/><circle cx="961.2" cy="1003.1" r="1.2"/><circle cx="961.4" cy="1013.5" r="1.2"/><circle cx="963.1" cy="1038.2" r="1.2"/><circle cx="963.3" cy="1029.1" r="1.2"/><circle cx="963.6" cy="1038.0" r="1.2"/><circle cx="963.8" cy="1033.0" r="1.2"/><circle cx="964.0" cy="1038.6" r="1.2"/><circle cx="964.2" cy="1037.2" r="1.2"/><circle cx="964.4" cy="1031.6" r="1.2"/><circle cx="964.6" cy="1026.3" r="1.2"/><circle cx="964.9" cy="1014.7" r="1.2"/><circle cx="965.1" cy="1034.6" r="1.2"/><circle cx="965.3" cy="1033.9" r="1.2"/><circle cx="965.5" cy="1025.1" r="1.2"/><circle cx="965.7" cy="1034.3" r="1.2"/><circle cx="965.9" cy="1023.3" r="1.2"/><circle cx="966.2" cy="1040.8" r="1.2"/><circle cx="966.4" cy="1011.3" r="1.2"/><circle cx="966.6" cy="1022.5" r="1.2"/><circle cx="966.8" cy="1042.8" r="1.2"/><circle cx="967.0" cy="1026.9" r="1.2"/><circle cx="967.3" cy="1020.4" r="1.2"/><circle cx="967.5" cy="1000.5" r="1.2"/><circle cx="967.7" cy="1000.7" r="1.2"/><circle cx="967.9" cy="1020.3" r="1.2"/><circle cx="968.1" cy="1021.3" r="1.2"/><circle cx="968.3" cy="1017.7" r="1.2"/><circle cx="968.6" cy="1008.9" r="1.2"/><circle cx="968.8" cy="985.8" r="1.2"/><circle cx="969.0" cy="1017.0" r="1.2"/><circle cx="969.2" cy="1009.2" r="1.2"/><circle cx="969.4" cy="1013.0" r="1.2"/><circle cx="969.6" cy="1020.2" r="1.2"/><circle cx="969.9" cy="1018.9" r="1.2"/><circle cx="970.1" cy="1006.0" r="1.2"/><circle cx="970.3" cy="1007.9" r="1.2"/><circle cx="970.5" cy="1006.7" r="1.2"/><circle cx="970.7" cy="1002.0" r="1.2"/><circle cx="972.5" cy="1022.0" r="1.2"/><circle cx="972.7" cy="1031.8" r="1.2"/><circle cx="972.9" cy="1018.1" r="1.2"/><circle cx="973.1" cy="1036.2" r="1.2"/><circle cx="973.3" cy="1025.1" r="1.2"/><circle cx="973.6" cy="1030.1" r="1.2"/><circle cx="973.8" cy="1033.5" r="1.2"/><circle cx="974.0" cy="1035.8" r="1.2"/><circle cx="974.2" cy="1017.1" r="1.2"/><circle cx="974.4" cy="1022.8" r="1.2"/><circle cx="974.6" cy="1021.7" r="1.2"/><circle cx="974.9" cy="1017.1" r="1.2"/><circle cx="975.1" cy="1029.2" r="1.2"/><circle cx="975.3" cy="1016.6" r="1.2"/><circle cx="975.5" cy="1031.2" r="1.2"/><circle cx="975.7" cy="1003.0" r="1.2"/><circle cx="975.9" cy="1031.6" r="1.2"/><circle cx="976.2" cy="1025.5" r="1.2"/><circle cx="976.4" cy="1003.9" r="1.2"/><circle cx="976.6" cy="1024.4" r="1.2"/><circle cx="976.8" cy="1020.3" r="1.2"/><circle cx="977.0" cy="1021.1" r="1.2"/><circle cx="977.2" cy="1009.9" r="1.2"/><circle cx="977.5" cy="1019.5" r="1.2"/><circle cx="977.7" cy="1018.5" r="1.2"/><circle cx="977.9" cy="1006.6" r="1.2"/><circle cx="978.1" cy="1010.2" r="1.2"/><circle cx="978.3" cy="1016.8" r="1.2"/><circle cx="978.6" cy="1010.9" r="1.2"/><circle cx="978.8" cy="1007.3" r="1.2"/><circle cx="979.0" cy="999.3" r="1.2"/><circle cx="979.2" cy="1015.0" r="1.2"/><circle cx="979.4" cy="1017.3" r="1.2"/><circle cx="979.6" cy="1010.4" r="1.2"/><circle cx="979.9" cy="1001.4" r="1.2"/><circle cx="980.1" cy="1011.7" r="1.2"/><circle cx="987.5" cy="1061.7" r="1.2"/><circle cx="987.7" cy="1037.2" r="1.2"/><circle cx="987.9" cy="1043.2" r="1.2"/><circle cx="988.1" cy="1027.9" r="1.2"/><circle cx="988.3" cy="1034.9" r="1.2"/><circle cx="988.5" cy="1031.6" r="1.2"/><circle cx="988.8" cy="1031.5" r="1.2"/><circle cx="989.0" cy="1016.7" r="1.2"/><circle cx="989.2" cy="1021.0" r="1.2"/><circle cx="989.4" cy="1022.7" r="1.2"/><circle cx="989.6" cy="1013.3" r="1.2"/><circle cx="989.8" cy="1032.0" r="1.2"/><circle cx="990.1" cy="1038.4" r="1.2"/><circle cx="990.3" cy="1039.8" r="1.2"/><circle cx="990.5" cy="1015.5" r="1.2"/><circle cx="990.7" cy="1012.1" r="1.2"/><circle cx="990.9" cy="1019.5" r="1.2"/><circle cx="991.2" cy="1011.7" r="1.2"/><circle cx="991.4" cy="1019.7" r="1.2"/><circle cx="991.6" cy="1033.0" r="1.2"/><circle cx="991.8" cy="1003.5" r="1.2"/><circle cx="992.0" cy="1011.2" r="1.2"/><circle cx="992.2" cy="995.8" r="1.2"/><circle cx="992.5" cy="992.7" r="1.2"/><circle cx="992.7" cy="999.3" r="1.2"/><circle cx="992.9" cy="1016.2" r="1.2"/><circle cx="993.1" cy="996.1" r="1.2"/><circle cx="993.3" cy="1007.9" r="1.2"/><circle cx="993.5" cy="988.0" r="1.2"/><circle cx="993.8" cy="1000.8" r="1.2"/><circle cx="994.0" cy="1011.2" r="1.2"/><circle cx="994.2" cy="990.3" r="1.2"/><circle cx="994.4" cy="996.7" r="1.2"/><circle cx="994.6" cy="1009.9" r="1.2"/><circle cx="994.8" cy="980.9" r="1.2"/><circle cx="995.1" cy="1001.1" r="1.2"/><circle cx="996.8" cy="1028.1" r="1.2"/><circle cx="997.0" cy="1006.4" r="1.2"/><circle cx="997.2" cy="1001.9" r="1.2"/><circle cx="997.5" cy="1027.4" r="1.2"/><circle cx="997.7" cy="1018.2" r="1.2"/><circle cx="997.9" cy="1004.7" r="1.2"/><circle cx="998.1" cy="1016.6" r="1.2"/><circle cx="998.3" cy="1022.4" r="1.2"/><circle cx="998.5" cy="1004.8" r="1.2"/><circle cx="998.8" cy="1021.8" r="1.2"/><circle cx="999.0" cy="1019.0" r="1.2"/><circle cx="999.2" cy="998.3" r="1.2"/><circle cx="999.4" cy="1012.9" r="1.2"/><circle cx="999.6" cy="1025.0" r="1.2"/><circle cx="999.8" cy="1013.8" r="1.2"/><circle cx="1000.1" cy="998.5" r="1.2"/><circle cx="1000.3" cy="1007.6" r="1.2"/><circle cx="1000.5" cy="1016.5" r="1.2"/><circle cx="1000.7" cy="1013.9" r="1.2"/><circle cx="1000.9" cy="1009.5" r="1.2"/><circle cx="1001.1" cy="1006.6" r="1.2"/><circle cx="1001.4" cy="1017.5" r="1.2"/><circle cx="1001.6" cy="1028.9" r="1.2"/><circle cx="1001.8" cy="1007.8" r="1.2"/><circle cx="1002.0" cy="1015.5" r="1.2"/><circle cx="1002.2" cy="1000.1" r="1.2"/><circle cx="1002.5" cy="1007.9" r="1.2"/><circle cx="1002.7" cy="1006.2" r="1.2"/><circle cx="1002.9" cy="995.0" r="1.2"/><circle cx="1003.1" cy="1011.7" r="1.2"/><circle cx="1003.3" cy="994.3" r="1.2"/><circle cx="1003.5" cy="991.6" r="1.2"/><circle cx="1003.8" cy="988.2" r="1.2"/><circle cx="1004.0" cy="992.6" r="1.2"/><circle cx="1004.2" cy="1000.1" r="1.2"/><circle cx="1004.4" cy="1001.7" r="1.2"/><circle cx="1006.1" cy="1032.4" r="1.2"/><circle cx="1006.4" cy="1028.5" r="1.2"/><circle cx="1006.6" cy="1025.3" r="1.2"/><circle cx="1006.8" cy="1015.7" r="1.2"/><circle cx="1007.0" cy="1012.8" r="1.2"/><circle cx="1007.2" cy="1032.9" r="1.2"/><circle cx="1007.4" cy="1015.3" r="1.2"/><circle cx="1007.7" cy="1012.7" r="1.2"/><circle cx="1007.9" cy="1023.4" r="1.2"/><circle cx="1008.1" cy="1018.7" r="1.2"/><circle cx="1008.3" cy="1028.0" r="1.2"/><circle cx="1008.5" cy="1021.9" r="1.2"/><circle cx="1008.8" cy="1026.7" r="1.2"/><circle cx="1009.0" cy="1020.4" r="1.2"/><circle cx="1009.2" cy="1013.8" r="1.2"/><circle cx="1009.4" cy="1014.6" r="1.2"/><circle cx="1009.6" cy="1005.9" r="1.2"/><circle cx="1009.8" cy="1021.4" r="1.2"/><circle cx="1010.1" cy="1009.9" r="1.2"/><circle cx="1010.3" cy="1008.3" r="1.2"/><circle cx="1010.5" cy="1019.6" r="1.2"/><circle cx="1010.7" cy="1003.5" r="1.2"/><circle cx="1010.9" cy="999.5" r="1.2"/><circle cx="1011.1" cy="1002.8" r="1.2"/><circle cx="1011.4" cy="997.6" r="1.2"/><circle cx="1011.6" cy="1011.3" r="1.2"/><circle cx="1011.8" cy="1020.0" r="1.2"/><circle cx="1012.0" cy="1009.5" r="1.2"/><circle cx="1012.2" cy="1006.9" r="1.2"/><circle cx="1012.4" cy="1000.6" r="1.2"/><circle cx="1012.7" cy="999.1" r="1.2"/><circle cx="1012.9" cy="981.3" r="1.2"/><circle cx="1013.1" cy="1009.3" r="1.2"/><circle cx="1013.3" cy="999.0" r="1.2"/><circle cx="1013.5" cy="1005.2" r="1.2"/><circle cx="1013.7" cy="1001.5" r="1.2"/><circle cx="1019.0" cy="1053.5" r="1.2"/><circle cx="1019.2" cy="1059.4" r="1.2"/><circle cx="1019.4" cy="1048.2" r="1.2"/><circle cx="1019.6" cy="1044.7" r="1.2"/><circle cx="1019.8" cy="1041.5" r="1.2"/><circle cx="1020.1" cy="1042.6" r="1.2"/><circle cx="1020.3" cy="1036.8" r="1.2"/><circle cx="1020.5" cy="1030.6" r="1.2"/><circle cx="1020.7" cy="1044.8" r="1.2"/><circle cx="1020.9" cy="1033.8" r="1.2"/><circle cx="1021.1" cy="1023.7" r="1.2"/><circle cx="1021.4" cy="1044.5" r="1.2"/><circle cx="1021.6" cy="1040.1" r="1.2"/><circle cx="1021.8" cy="1034.7" r="1.2"/><circle cx="1022.0" cy="1028.7" r="1.2"/><circle cx="1022.2" cy="1033.2" r="1.2"/><circle cx="1022.4" cy="1034.8" r="1.2"/><circle cx="1022.7" cy="1023.5" r="1.2"/><circle cx="1022.9" cy="1030.1" r="1.2"/><circle cx="1023.1" cy="1036.1" r="1.2"/><circle cx="1023.3" cy="1019.4" r="1.2"/><circle cx="1023.5" cy="1027.1" r="1.2"/><circle cx="1023.7" cy="1020.0" r="1.2"/><circle cx="1024.0" cy="1021.9" r="1.2"/><circle cx="1024.2" cy="1021.8" r="1.2"/><circle cx="1024.4" cy="1014.0" r="1.2"/><circle cx="1024.6" cy="1017.1" r="1.2"/><circle cx="1024.8" cy="1019.8" r="1.2"/><circle cx="1025.0" cy="1012.8" r="1.2"/><circle cx="1025.3" cy="1016.0" r="1.2"/><circle cx="1025.5" cy="1024.2" r="1.2"/><circle cx="1025.7" cy="1014.7" r="1.2"/><circle cx="1025.9" cy="1013.8" r="1.2"/><circle cx="1026.1" cy="1023.1" r="1.2"/><circle cx="1026.4" cy="1012.4" r="1.2"/><circle cx="1026.6" cy="1013.5" r="1.2"/><circle cx="1028.3" cy="1033.0" r="1.2"/><circle cx="1028.5" cy="1031.0" r="1.2"/><circle cx="1028.7" cy="1034.8" r="1.2"/><circle cx="1029.0" cy="1038.8" r="1.2"/><circle cx="1029.2" cy="1042.1" r="1.2"/><circle cx="1029.4" cy="1044.0" r="1.2"/><circle cx="1029.6" cy="1030.8" r="1.2"/><circle cx="1029.8" cy="1037.8" r="1.2"/><circle cx="1030.0" cy="1022.1" r="1.2"/><circle cx="1030.3" cy="1035.6" r="1.2"/><circle cx="1030.5" cy="1032.5" r="1.2"/><circle cx="1030.7" cy="1027.3" r="1.2"/><circle cx="1030.9" cy="1022.6" r="1.2"/><circle cx="1031.1" cy="1023.1" r="1.2"/><circle cx="1031.3" cy="1020.7" r="1.2"/><circle cx="1031.6" cy="1017.9" r="1.2"/><circle cx="1031.8" cy="1024.4" r="1.2"/><circle cx="1032.0" cy="1022.5" r="1.2"/><circle cx="1032.2" cy="1022.6" r="1.2"/><circle cx="1032.4" cy="1020.7" r="1.2"/><circle cx="1032.7" cy="1021.5" r="1.2"/><circle cx="1032.9" cy="1015.8" r="1.2"/><circle cx="1033.1" cy="1016.4" r="1.2"/><circle cx="1033.3" cy="1014.7" r="1.2"/><circle cx="1033.5" cy="1016.0" r="1.2"/><circle cx="1033.7" cy="1003.4" r="1.2"/><circle cx="1034.0" cy="1021.7" r="1.2"/><circle cx="1034.2" cy="1011.6" r="1.2"/><circle cx="1034.4" cy="999.5" r="1.2"/><circle cx="1034.6" cy="1011.3" r="1.2"/><circle cx="1034.8" cy="1017.8" r="1.2"/><circle cx="1035.0" cy="1019.6" r="1.2"/><circle cx="1035.3" cy="1000.4" r="1.2"/><circle cx="1035.5" cy="1018.9" r="1.2"/><circle cx="1035.7" cy="1013.5" r="1.2"/><circle cx="1035.9" cy="991.8" r="1.2"/><circle cx="1037.7" cy="1035.9" r="1.2"/><circle cx="1037.9" cy="1036.9" r="1.2"/><circle cx="1038.1" cy="1033.9" r="1.2"/><circle cx="1038.3" cy="1044.0" r="1.2"/><circle cx="1038.5" cy="1023.5" r="1.2"/><circle cx="1038.7" cy="1031.6" r="1.2"/><circle cx="1039.0" cy="1023.4" r="1.2"/><circle cx="1039.2" cy="1044.1" r="1.2"/><circle cx="1039.4" cy="1009.9" r="1.2"/><circle cx="1039.6" cy="1033.6" r="1.2"/><circle cx="1039.8" cy="1021.4" r="1.2"/><circle cx="1040.0" cy="1025.4" r="1.2"/><circle cx="1040.3" cy="1015.7" r="1.2"/><circle cx="1040.5" cy="1020.4" r="1.2"/><circle cx="1040.7" cy="1028.7" r="1.2"/><circle cx="1040.9" cy="1034.5" r="1.2"/><circle cx="1041.1" cy="1030.6" r="1.2"/><circle cx="1041.3" cy="1014.3" r="1.2"/><circle cx="1041.6" cy="1020.4" r="1.2"/><circle cx="1041.8" cy="1017.6" r="1.2"/><circle cx="1042.0" cy="1030.9" r="1.2"/><circle cx="1042.2" cy="1026.7" r="1.2"/><circle cx="1042.4" cy="1015.6" r="1.2"/><circle cx="1042.6" cy="1004.4" r="1.2"/><circle cx="1042.9" cy="1019.6" r="1.2"/><circle cx="1043.1" cy="1017.6" r="1.2"/><circle cx="1043.3" cy="1012.2" r="1.2"/><circle cx="1043.5" cy="1018.0" r="1.2"/><circle cx="1043.7" cy="1011.9" r="1.2"/><circle cx="1044.0" cy="1001.3" r="1.2"/><circle cx="1044.2" cy="1024.4" r="1.2"/><circle cx="1044.4" cy="1005.6" r="1.2"/><circle cx="1044.6" cy="1023.3" r="1.2"/><circle cx="1044.8" cy="1021.2" r="1.2"/><circle cx="1045.0" cy="1015.4" r="1.2"/><circle cx="1045.3" cy="1006.6" r="1.2"/><circle cx="1053.1" cy="1049.7" r="1.2"/><circle cx="1053.3" cy="1048.4" r="1.2"/><circle cx="1053.5" cy="1064.3" r="1.2"/><circle cx="1053.7" cy="1058.4" r="1.2"/><circle cx="1053.9" cy="1046.7" r="1.2"/><circle cx="1054.2" cy="1056.9" r="1.2"/><circle cx="1054.4" cy="1029.1" r="1.2"/><circle cx="1054.6" cy="1044.7" r="1.2"/><circle cx="1054.8" cy="1044.9" r="1.2"/><circle cx="1055.0" cy="1041.0" r="1.2"/><circle cx="1055.3" cy="1040.1" r="1.2"/><circle cx="1055.5" cy="1050.7" r="1.2"/><circle cx="1055.7" cy="1039.0" r="1.2"/><circle cx="1055.9" cy="1036.3" r="1.2"/><circle cx="1056.1" cy="1027.3" r="1.2"/><circle cx="1056.3" cy="1032.4" r="1.2"/><circle cx="1056.6" cy="1037.0" r="1.2"/><circle cx="1056.8" cy="1032.4" r="1.2"/><circle cx="1057.0" cy="1036.1" r="1.2"/><circle cx="1057.2" cy="1016.3" r="1.2"/><circle cx="1057.4" cy="1016.0" r="1.2"/><circle cx="1057.6" cy="1017.1" r="1.2"/><circle cx="1057.9" cy="1025.5" r="1.2"/><circle cx="1058.1" cy="1024.4" r="1.2"/><circle cx="1058.3" cy="1022.3" r="1.2"/><circle cx="1058.5" cy="1022.9" r="1.2"/><circle cx="1058.7" cy="1002.1" r="1.2"/><circle cx="1058.9" cy="1014.6" r="1.2"/><circle cx="1059.2" cy="1024.1" r="1.2"/><circle cx="1059.4" cy="1018.6" r="1.2"/><circle cx="1059.6" cy="1016.0" r="1.2"/><circle cx="1059.8" cy="1008.3" r="1.2"/><circle cx="1060.0" cy="1015.4" r="1.2"/><circle cx="1060.2" cy="995.7" r="1.2"/><circle cx="1060.5" cy="1022.9" r="1.2"/><circle cx="1060.7" cy="1011.9" r="1.2"/><circle cx="1062.4" cy="1048.8" r="1.2"/><circle cx="1062.6" cy="1049.8" r="1.2"/><circle cx="1062.9" cy="1035.3" r="1.2"/><circle cx="1063.1" cy="1047.0" r="1.2"/><circle cx="1063.3" cy="1042.8" r="1.2"/><circle cx="1063.5" cy="1044.0" r="1.2"/><circle cx="1063.7" cy="1040.1" r="1.2"/><circle cx="1063.9" cy="1042.2" r="1.2"/><circle cx="1064.2" cy="1027.1" r="1.2"/><circle cx="1064.4" cy="1026.3" r="1.2"/><circle cx="1064.6" cy="1032.4" r="1.2"/><circle cx="1064.8" cy="1024.5" r="1.2"/><circle cx="1065.0" cy="1022.8" r="1.2"/><circle cx="1065.2" cy="1020.8" r="1.2"/><circle cx="1065.5" cy="1033.3" r="1.2"/><circle cx="1065.7" cy="1024.5" r="1.2"/><circle cx="1065.9" cy="1028.8" r="1.2"/><circle cx="1066.1" cy="1015.7" r="1.2"/><circle cx="1066.3" cy="1017.2" r="1.2"/><circle cx="1066.5" cy="1027.6" r="1.2"/><circle cx="1066.8" cy="1019.2" r="1.2"/><circle cx="1067.0" cy="1021.5" r="1.2"/><circle cx="1067.2" cy="1026.5" r="1.2"/><circle cx="1067.4" cy="1029.2" r="1.2"/><circle cx="1067.6" cy="1019.2" r="1.2"/><circle cx="1067.9" cy="1020.3" r="1.2"/><circle cx="1068.1" cy="1020.4" r="1.2"/><circle cx="1068.3" cy="1021.5" r="1.2"/><circle cx="1068.5" cy="1018.2" r="1.2"/><circle cx="1068.7" cy="1012.9" r="1.2"/><circle cx="1068.9" cy="1016.4" r="1.2"/><circle cx="1069.2" cy="1009.3" r="1.2"/><circle cx="1069.4" cy="1014.2" r="1.2"/><circle cx="1069.6" cy="1015.5" r="1.2"/><circle cx="1069.8" cy="1021.3" r="1.2"/><circle cx="1070.0" cy="1005.0" r="1.2"/><circle cx="1071.8" cy="1036.2" r="1.2"/><circle cx="1072.0" cy="1033.1" r="1.2"/><circle cx="1072.2" cy="1029.9" r="1.2"/><circle cx="1072.4" cy="1031.9" r="1.2"/><circle cx="1072.6" cy="1031.0" r="1.2"/><circle cx="1072.8" cy="1040.2" r="1.2"/><circle cx="1073.1" cy="1034.7" r="1.2"/><circle cx="1073.3" cy="1042.4" r="1.2"/><circle cx="1073.5" cy="1034.5" r="1.2"/><circle cx="1073.7" cy="1019.8" r="1.2"/><circle cx="1073.9" cy="1026.5" r="1.2"/><circle cx="1074.2" cy="1028.7" r="1.2"/><circle cx="1074.4" cy="1029.6" r="1.2"/><circle cx="1074.6" cy="1015.9" r="1.2"/><circle cx="1074.8" cy="1033.2" r="1.2"/><circle cx="1075.0" cy="1031.6" r="1.2"/><circle cx="1075.2" cy="1033.7" r="1.2"/><circle cx="1075.5" cy="1032.4" r="1.2"/><circle cx="1075.7" cy="1022.1" r="1.2"/><circle cx="1075.9" cy="1014.0" r="1.2"/><circle cx="1076.1" cy="1021.1" r="1.2"/><circle cx="1076.3" cy="1025.0" r="1.2"/><circle cx="1076.5" cy="1018.5" r="1.2"/><circle cx="1076.8" cy="1009.1" r="1.2"/><circle cx="1077.0" cy="1027.4" r="1.2"/><circle cx="1077.2" cy="1023.8" r="1.2"/><circle cx="1077.4" cy="1004.6" r="1.2"/><circle cx="1077.6" cy="1021.4" r="1.2"/><circle cx="1077.8" cy="1031.8" r="1.2"/><circle cx="1078.1" cy="1024.2" r="1.2"/><circle cx="1078.3" cy="1019.8" r="1.2"/><circle cx="1078.5" cy="1005.6" r="1.2"/><circle cx="1078.7" cy="1007.5" r="1.2"/><circle cx="1078.9" cy="1016.2" r="1.2"/><circle cx="1079.2" cy="1022.0" r="1.2"/><circle cx="1079.4" cy="1003.0" r="1.2"/><circle cx="1081.1" cy="1031.7" r="1.2"/><circle cx="1081.3" cy="1038.4" r="1.2"/><circle cx="1081.5" cy="1038.7" r="1.2"/><circle cx="1081.8" cy="1044.2" r="1.2"/><circle cx="1082.0" cy="1023.4" r="1.2"/><circle cx="1082.2" cy="1036.4" r="1.2"/><circle cx="1082.4" cy="1032.7" r="1.2"/><circle cx="1082.6" cy="1018.2" r="1.2"/><circle cx="1082.8" cy="1045.1" r="1.2"/><circle cx="1083.1" cy="1031.6" r="1.2"/><circle cx="1083.3" cy="1017.1" r="1.2"/><circle cx="1083.5" cy="1024.0" r="1.2"/><circle cx="1083.7" cy="1044.8" r="1.2"/><circle cx="1083.9" cy="1018.5" r="1.2"/><circle cx="1084.1" cy="1017.7" r="1.2"/><circle cx="1084.4" cy="1022.2" r="1.2"/><circle cx="1084.6" cy="1025.9" r="1.2"/><circle cx="1084.8" cy="1018.3" r="1.2"/><circle cx="1085.0" cy="1019.8" r="1.2"/><circle cx="1085.2" cy="1023.2" r="1.2"/><circle cx="1085.5" cy="1029.6" r="1.2"/><circle cx="1085.7" cy="1026.8" r="1.2"/><circle cx="1085.9" cy="1025.8" r="1.2"/><circle cx="1086.1" cy="1033.7" r="1.2"/><circle cx="1086.3" cy="1020.0" r="1.2"/><circle cx="1086.5" cy="1016.7" r="1.2"/><circle cx="1086.8" cy="1020.6" r="1.2"/><circle cx="1087.0" cy="1004.0" r="1.2"/><circle cx="1087.2" cy="1019.6" r="1.2"/><circle cx="1087.4" cy="1028.2" r="1.2"/><circle cx="1087.6" cy="1008.0" r="1.2"/><circle cx="1087.8" cy="1027.6" r="1.2"/><circle cx="1088.1" cy="1010.7" r="1.2"/><circle cx="1088.3" cy="1018.7" r="1.2"/><circle cx="1088.5" cy="1006.9" r="1.2"/><circle cx="1088.7" cy="1016.7" r="1.2"/><circle cx="1095.2" cy="1075.3" r="1.2"/><circle cx="1095.4" cy="1047.9" r="1.2"/><circle cx="1095.7" cy="1051.5" r="1.2"/><circle cx="1095.9" cy="1063.4" r="1.2"/><circle cx="1096.1" cy="1063.6" r="1.2"/><circle cx="1096.3" cy="1050.6" r="1.2"/><circle cx="1096.5" cy="1036.4" r="1.2"/><circle cx="1096.8" cy="1057.3" r="1.2"/><circle cx="1097.0" cy="1040.8" r="1.2"/><circle cx="1097.2" cy="1040.1" r="1.2"/><circle cx="1097.4" cy="1044.6" r="1.2"/><circle cx="1097.6" cy="1051.4" r="1.2"/><circle cx="1097.8" cy="1041.9" r="1.2"/><circle cx="1098.1" cy="1037.3" r="1.2"/><circle cx="1098.3" cy="1044.4" r="1.2"/><circle cx="1098.5" cy="1026.1" r="1.2"/><circle cx="1098.7" cy="1033.3" r="1.2"/><circle cx="1098.9" cy="1032.9" r="1.2"/><circle cx="1099.1" cy="1041.0" r="1.2"/><circle cx="1099.4" cy="1030.1" r="1.2"/><circle cx="1099.6" cy="1030.1" r="1.2"/><circle cx="1099.8" cy="1025.3" r="1.2"/><circle cx="1100.0" cy="1018.2" r="1.2"/><circle cx="1100.2" cy="1036.3" r="1.2"/><circle cx="1100.4" cy="1027.4" r="1.2"/><circle cx="1100.7" cy="1019.0" r="1.2"/><circle cx="1100.9" cy="1035.6" r="1.2"/><circle cx="1101.1" cy="1033.2" r="1.2"/><circle cx="1101.3" cy="1023.3" r="1.2"/><circle cx="1101.5" cy="1029.5" r="1.2"/><circle cx="1101.7" cy="1013.1" r="1.2"/><circle cx="1102.0" cy="1022.2" r="1.2"/><circle cx="1102.2" cy="1023.8" r="1.2"/><circle cx="1102.4" cy="1014.3" r="1.2"/><circle cx="1102.6" cy="1023.9" r="1.2"/><circle cx="1102.8" cy="1010.0" r="1.2"/><circle cx="1104.6" cy="1050.5" r="1.2"/><circle cx="1104.8" cy="1034.3" r="1.2"/><circle cx="1105.0" cy="1049.5" r="1.2"/><circle cx="1105.2" cy="1031.2" r="1.2"/><circle cx="1105.4" cy="1036.8" r="1.2"/><circle cx="1105.7" cy="1028.8" r="1.2"/><circle cx="1105.9" cy="1046.8" r="1.2"/><circle cx="1106.1" cy="1046.6" r="1.2"/><circle cx="1106.3" cy="1040.1" r="1.2"/><circle cx="1106.5" cy="1049.7" r="1.2"/><circle cx="1106.7" cy="1055.7" r="1.2"/><circle cx="1107.0" cy="1036.5" r="1.2"/><circle cx="1107.2" cy="1033.9" r="1.2"/><circle cx="1107.4" cy="1040.6" r="1.2"/><circle cx="1107.6" cy="1044.7" r="1.2"/><circle cx="1107.8" cy="1038.0" r="1.2"/><circle cx="1108.0" cy="1050.9" r="1.2"/><circle cx="1108.3" cy="1035.0" r="1.2"/><circle cx="1108.5" cy="1027.7" r="1.2"/><circle cx="1108.7" cy="1019.9" r="1.2"/><circle cx="1108.9" cy="1031.8" r="1.2"/><circle cx="1109.1" cy="1033.1" r="1.2"/><circle cx="1109.4" cy="1041.1" r="1.2"/><circle cx="1109.6" cy="1030.8" r="1.2"/><circle cx="1109.8" cy="1026.7" r="1.2"/><circle cx="1110.0" cy="1024.2" r="1.2"/><circle cx="1110.2" cy="1032.6" r="1.2"/><circle cx="1110.4" cy="1036.4" r="1.2"/><circle cx="1110.7" cy="1032.8" r="1.2"/><circle cx="1110.9" cy="1017.4" r="1.2"/><circle cx="1111.1" cy="1027.6" r="1.2"/><circle cx="1111.3" cy="1033.5" r="1.2"/><circle cx="1111.5" cy="1021.5" r="1.2"/><circle cx="1111.7" cy="1023.8" r="1.2"/><circle cx="1112.0" cy="1024.2" r="1.2"/><circle cx="1112.2" cy="1031.9" r="1.2"/><circle cx="1113.9" cy="1030.9" r="1.2"/><circle cx="1114.1" cy="1033.9" r="1.2"/><circle cx="1114.4" cy="1046.9" r="1.2"/><circle cx="1114.6" cy="1045.2" r="1.2"/><circle cx="1114.8" cy="1044.9" r="1.2"/><circle cx="1115.0" cy="1039.2" r="1.2"/><circle cx="1115.2" cy="1045.6" r="1.2"/><circle cx="1115.4" cy="1041.9" r="1.2"/><circle cx="1115.7" cy="1039.2" r="1.2"/><circle cx="1115.9" cy="1027.8" r="1.2"/><circle cx="1116.1" cy="1029.7" r="1.2"/><circle cx="1116.3" cy="1037.7" r="1.2"/><circle cx="1116.5" cy="1034.7" r="1.2"/><circle cx="1116.7" cy="1045.7" r="1.2"/><circle cx="1117.0" cy="1028.3" r="1.2"/><circle cx="1117.2" cy="1037.3" r="1.2"/><circle cx="1117.4" cy="1034.7" r="1.2"/><circle cx="1117.6" cy="1026.2" r="1.2"/><circle cx="1117.8" cy="1032.3" r="1.2"/><circle cx="1118.0" cy="1026.0" r="1.2"/><circle cx="1118.3" cy="1032.3" r="1.2"/><circle cx="1118.5" cy="1040.0" r="1.2"/><circle cx="1118.7" cy="1026.5" r="1.2"/><circle cx="1118.9" cy="1031.1" r="1.2"/><circle cx="1119.1" cy="1023.8" r="1.2"/><circle cx="1119.3" cy="1041.5" r="1.2"/><circle cx="1119.6" cy="1031.8" r="1.2"/><circle cx="1119.8" cy="1028.4" r="1.2"/><circle cx="1120.0" cy="1020.2" r="1.2"/><circle cx="1120.2" cy="1026.2" r="1.2"/><circle cx="1120.4" cy="1017.9" r="1.2"/><circle cx="1120.7" cy="1028.4" r="1.2"/><circle cx="1120.9" cy="1029.2" r="1.2"/><circle cx="1121.1" cy="1022.7" r="1.2"/><circle cx="1121.3" cy="1015.4" r="1.2"/><circle cx="1121.5" cy="1026.5" r="1.2"/><circle cx="1123.3" cy="1055.7" r="1.2"/><circle cx="1123.5" cy="1038.9" r="1.2"/><circle cx="1123.7" cy="1061.4" r="1.2"/><circle cx="1123.9" cy="1052.1" r="1.2"/><circle cx="1124.1" cy="1048.2" r="1.2"/><circle cx="1124.3" cy="1043.0" r="1.2"/><circle cx="1124.6" cy="1063.6" r="1.2"/><circle cx="1124.8" cy="1038.3" r="1.2"/><circle cx="1125.0" cy="1032.2" r="1.2"/><circle cx="1125.2" cy="1049.9" r="1.2"/><circle cx="1125.4" cy="1039.6" r="1.2"/><circle cx="1125.6" cy="1027.4" r="1.2"/><circle cx="1125.9" cy="1043.4" r="1.2"/><circle cx="1126.1" cy="1035.6" r="1.2"/><circle cx="1126.3" cy="1035.4" r="1.2"/><circle cx="1126.5" cy="1026.7" r="1.2"/><circle cx="1126.7" cy="1041.2" r="1.2"/><circle cx="1127.0" cy="1039.7" r="1.2"/><circle cx="1127.2" cy="1042.8" r="1.2"/><circle cx="1127.4" cy="1020.9" r="1.2"/><circle cx="1127.6" cy="1040.5" r="1.2"/><circle cx="1127.8" cy="1029.7" r="1.2"/><circle cx="1128.0" cy="1057.3" r="1.2"/><circle cx="1128.3" cy="1036.0" r="1.2"/><circle cx="1128.5" cy="1039.5" r="1.2"/><circle cx="1128.7" cy="1029.8" r="1.2"/><circle cx="1128.9" cy="1033.4" r="1.2"/><circle cx="1129.1" cy="1023.5" r="1.2"/><circle cx="1129.3" cy="1031.6" r="1.2"/><circle cx="1129.6" cy="1025.0" r="1.2"/><circle cx="1129.8" cy="1031.7" r="1.2"/><circle cx="1130.0" cy="1030.4" r="1.2"/><circle cx="1130.2" cy="1026.8" r="1.2"/><circle cx="1130.4" cy="1027.9" r="1.2"/><circle cx="1130.6" cy="1012.6" r="1.2"/><circle cx="1130.9" cy="1011.4" r="1.2"/><circle cx="1138.0" cy="1047.7" r="1.2"/><circle cx="1138.3" cy="1034.2" r="1.2"/><circle cx="1138.5" cy="1054.6" r="1.2"/><circle cx="1138.7" cy="1043.7" r="1.2"/><circle cx="1138.9" cy="1041.6" r="1.2"/><circle cx="1139.1" cy="1045.7" r="1.2"/><circle cx="1139.3" cy="1041.2" r="1.2"/><circle cx="1139.6" cy="1041.8" r="1.2"/><circle cx="1139.8" cy="1038.9" r="1.2"/><circle cx="1140.0" cy="1037.6" r="1.2"/><circle cx="1140.2" cy="1038.4" r="1.2"/><circle cx="1140.4" cy="1036.2" r="1.2"/><circle cx="1140.6" cy="1036.6" r="1.2"/><circle cx="1140.9" cy="1041.5" r="1.2"/><circle cx="1141.1" cy="1035.8" r="1.2"/><circle cx="1141.3" cy="1046.6" r="1.2"/><circle cx="1141.5" cy="1036.0" r="1.2"/><circle cx="1141.7" cy="1028.2" r="1.2"/><circle cx="1141.9" cy="1027.4" r="1.2"/><circle cx="1142.2" cy="1025.7" r="1.2"/><circle cx="1142.4" cy="1029.0" r="1.2"/><circle cx="1142.6" cy="1024.1" r="1.2"/><circle cx="1142.8" cy="1028.0" r="1.2"/><circle cx="1143.0" cy="1036.3" r="1.2"/><circle cx="1143.2" cy="1018.0" r="1.2"/><circle cx="1143.5" cy="1008.5" r="1.2"/><circle cx="1143.7" cy="1022.4" r="1.2"/><circle cx="1143.9" cy="1016.4" r="1.2"/><circle cx="1144.1" cy="1030.8" r="1.2"/><circle cx="1144.3" cy="1015.9" r="1.2"/><circle cx="1144.6" cy="1026.8" r="1.2"/><circle cx="1144.8" cy="1028.0" r="1.2"/><circle cx="1145.0" cy="1012.1" r="1.2"/><circle cx="1145.2" cy="1026.3" r="1.2"/><circle cx="1145.4" cy="1022.6" r="1.2"/><circle cx="1145.6" cy="1026.3" r="1.2"/><circle cx="1147.4" cy="1039.1" r="1.2"/><circle cx="1147.6" cy="1027.8" r="1.2"/><circle cx="1147.8" cy="1038.0" r="1.2"/><circle cx="1148.0" cy="1050.3" r="1.2"/><circle cx="1148.2" cy="1028.3" r="1.2"/><circle cx="1148.5" cy="1028.3" r="1.2"/><circle cx="1148.7" cy="1030.9" r="1.2"/><circle cx="1148.9" cy="1016.8" r="1.2"/><circle cx="1149.1" cy="1023.8" r="1.2"/><circle cx="1149.3" cy="1010.4" r="1.2"/><circle cx="1149.5" cy="1024.9" r="1.2"/><circle cx="1149.8" cy="1035.4" r="1.2"/><circle cx="1150.0" cy="1036.2" r="1.2"/><circle cx="1150.2" cy="1028.5" r="1.2"/><circle cx="1150.4" cy="1012.5" r="1.2"/><circle cx="1150.6" cy="1032.4" r="1.2"/><circle cx="1150.9" cy="1012.1" r="1.2"/><circle cx="1151.1" cy="1017.4" r="1.2"/><circle cx="1151.3" cy="1019.0" r="1.2"/><circle cx="1151.5" cy="1021.9" r="1.2"/><circle cx="1151.7" cy="1030.2" r="1.2"/><circle cx="1151.9" cy="1038.0" r="1.2"/><circle cx="1152.2" cy="1033.8" r="1.2"/><circle cx="1152.4" cy="1012.8" r="1.2"/><circle cx="1152.6" cy="1022.4" r="1.2"/><circle cx="1152.8" cy="1014.2" r="1.2"/><circle cx="1153.0" cy="1013.9" r="1.2"/><circle cx="1153.2" cy="1024.4" r="1.2"/><circle cx="1153.5" cy="1024.6" r="1.2"/><circle cx="1153.7" cy="1017.1" r="1.2"/><circle cx="1153.9" cy="1015.2" r="1.2"/><circle cx="1154.1" cy="1005.7" r="1.2"/><circle cx="1154.3" cy="1023.9" r="1.2"/><circle cx="1154.5" cy="1007.5" r="1.2"/><circle cx="1154.8" cy="1010.9" r="1.2"/><circle cx="1155.0" cy="1020.0" r="1.2"/><circle cx="1156.7" cy="1033.8" r="1.2"/><circle cx="1156.9" cy="1054.5" r="1.2"/><circle cx="1157.2" cy="1031.2" r="1.2"/><circle cx="1157.4" cy="1037.1" r="1.2"/><circle cx="1157.6" cy="1039.4" r="1.2"/><circle cx="1157.8" cy="1039.3" r="1.2"/><circle cx="1158.0" cy="1040.6" r="1.2"/><circle cx="1158.2" cy="1040.7" r="1.2"/><circle cx="1158.5" cy="1024.5" r="1.2"/><circle cx="1158.7" cy="1027.4" r="1.2"/><circle cx="1158.9" cy="1030.0" r="1.2"/><circle cx="1159.1" cy="1029.4" r="1.2"/><circle cx="1159.3" cy="1027.5" r="1.2"/><circle cx="1159.5" cy="1027.8" r="1.2"/><circle cx="1159.8" cy="1021.8" r="1.2"/><circle cx="1160.0" cy="1028.0" r="1.2"/><circle cx="1160.2" cy="1030.4" r="1.2"/><circle cx="1160.4" cy="1022.4" r="1.2"/><circle cx="1160.6" cy="1042.1" r="1.2"/><circle cx="1160.8" cy="1035.1" r="1.2"/><circle cx="1161.1" cy="1040.2" r="1.2"/><circle cx="1161.3" cy="1031.9" r="1.2"/><circle cx="1161.5" cy="1023.9" r="1.2"/><circle cx="1161.7" cy="1029.0" r="1.2"/><circle cx="1161.9" cy="1039.4" r="1.2"/><circle cx="1162.2" cy="1036.3" r="1.2"/><circle cx="1162.4" cy="1035.5" r="1.2"/><circle cx="1162.6" cy="1028.7" r="1.2"/><circle cx="1162.8" cy="1023.8" r="1.2"/><circle cx="1163.0" cy="1023.8" r="1.2"/><circle cx="1163.2" cy="1029.4" r="1.2"/><circle cx="1163.5" cy="1021.5" r="1.2"/><circle cx="1163.7" cy="1031.9" r="1.2"/><circle cx="1163.9" cy="1031.0" r="1.2"/><circle cx="1164.1" cy="1010.0" r="1.2"/><circle cx="1164.3" cy="1008.6" r="1.2"/><circle cx="1166.1" cy="1042.4" r="1.2"/><circle cx="1166.3" cy="1029.2" r="1.2"/><circle cx="1166.5" cy="1026.3" r="1.2"/><circle cx="1166.7" cy="1028.5" r="1.2"/><circle cx="1166.9" cy="1029.6" r="1.2"/><circle cx="1167.1" cy="1016.5" r="1.2"/><circle cx="1167.4" cy="1041.4" r="1.2"/><circle cx="1167.6" cy="1030.8" r="1.2"/><circle cx="1167.8" cy="1039.4" r="1.2"/><circle cx="1168.0" cy="1025.9" r="1.2"/><circle cx="1168.2" cy="1024.8" r="1.2"/><circle cx="1168.5" cy="1026.4" r="1.2"/><circle cx="1168.7" cy="1003.9" r="1.2"/><circle cx="1168.9" cy="1043.1" r="1.2"/><circle cx="1169.1" cy="1026.8" r="1.2"/><circle cx="1169.3" cy="1024.9" r="1.2"/><circle cx="1169.5" cy="1025.7" r="1.2"/><circle cx="1169.8" cy="1028.3" r="1.2"/><circle cx="1170.0" cy="1040.1" r="1.2"/><circle cx="1170.2" cy="1019.4" r="1.2"/><circle cx="1170.4" cy="1018.2" r="1.2"/><circle cx="1170.6" cy="1022.2" r="1.2"/><circle cx="1170.8" cy="1022.9" r="1.2"/><circle cx="1171.1" cy="1029.8" r="1.2"/><circle cx="1171.3" cy="1030.6" r="1.2"/><circle cx="1171.5" cy="1028.7" r="1.2"/><circle cx="1171.7" cy="1024.9" r="1.2"/><circle cx="1171.9" cy="1022.9" r="1.2"/><circle cx="1172.1" cy="1024.8" r="1.2"/><circle cx="1172.4" cy="1027.1" r="1.2"/><circle cx="1172.6" cy="1024.8" r="1.2"/><circle cx="1172.8" cy="1032.6" r="1.2"/><circle cx="1173.0" cy="1018.1" r="1.2"/><circle cx="1173.2" cy="1017.4" r="1.2"/><circle cx="1173.5" cy="1026.2" r="1.2"/><circle cx="1173.7" cy="1017.2" r="1.2"/><circle cx="1180.8" cy="1054.7" r="1.2"/><circle cx="1181.1" cy="1053.3" r="1.2"/><circle cx="1181.3" cy="1063.4" r="1.2"/><circle cx="1181.5" cy="1067.9" r="1.2"/><circle cx="1181.7" cy="1064.0" r="1.2"/><circle cx="1181.9" cy="1051.7" r="1.2"/><circle cx="1182.1" cy="1048.4" r="1.2"/><circle cx="1182.4" cy="1045.1" r="1.2"/><circle cx="1182.6" cy="1050.1" r="1.2"/><circle cx="1182.8" cy="1041.0" r="1.2"/><circle cx="1183.0" cy="1046.3" r="1.2"/><circle cx="1183.2" cy="1047.2" r="1.2"/><circle cx="1183.4" cy="1042.4" r="1.2"/><circle cx="1183.7" cy="1036.5" r="1.2"/><circle cx="1183.9" cy="1031.7" r="1.2"/><circle cx="1184.1" cy="1045.6" r="1.2"/><circle cx="1184.3" cy="1058.4" r="1.2"/><circle cx="1184.5" cy="1006.0" r="1.2"/><circle cx="1184.7" cy="1055.5" r="1.2"/><circle cx="1185.0" cy="1052.8" r="1.2"/><circle cx="1185.2" cy="1030.9" r="1.2"/><circle cx="1185.4" cy="1046.8" r="1.2"/><circle cx="1185.6" cy="1058.7" r="1.2"/><circle cx="1185.8" cy="1030.3" r="1.2"/><circle cx="1186.1" cy="1033.5" r="1.2"/><circle cx="1186.3" cy="1035.6" r="1.2"/><circle cx="1186.5" cy="1028.2" r="1.2"/><circle cx="1186.7" cy="1017.6" r="1.2"/><circle cx="1186.9" cy="1028.6" r="1.2"/><circle cx="1187.1" cy="1039.6" r="1.2"/><circle cx="1187.4" cy="1019.0" r="1.2"/><circle cx="1187.6" cy="1020.4" r="1.2"/><circle cx="1187.8" cy="1017.3" r="1.2"/><circle cx="1188.0" cy="1024.8" r="1.2"/><circle cx="1188.2" cy="1027.6" r="1.2"/><circle cx="1188.4" cy="1031.2" r="1.2"/><circle cx="1190.2" cy="1051.9" r="1.2"/><circle cx="1190.4" cy="1051.9" r="1.2"/><circle cx="1190.6" cy="1031.0" r="1.2"/><circle cx="1190.8" cy="1051.4" r="1.2"/><circle cx="1191.1" cy="1038.7" r="1.2"/><circle cx="1191.3" cy="1041.3" r="1.2"/><circle cx="1191.5" cy="1033.8" r="1.2"/><circle cx="1191.7" cy="1033.9" r="1.2"/><circle cx="1191.9" cy="1034.2" r="1.2"/><circle cx="1192.1" cy="1048.1" r="1.2"/><circle cx="1192.4" cy="1033.1" r="1.2"/><circle cx="1192.6" cy="1049.0" r="1.2"/><circle cx="1192.8" cy="1028.5" r="1.2"/><circle cx="1193.0" cy="1029.3" r="1.2"/><circle cx="1193.2" cy="1036.0" r="1.2"/><circle cx="1193.4" cy="1046.2" r="1.2"/><circle cx="1193.7" cy="1046.4" r="1.2"/><circle cx="1193.9" cy="1034.1" r="1.2"/><circle cx="1194.1" cy="1036.3" r="1.2"/><circle cx="1194.3" cy="1022.2" r="1.2"/><circle cx="1194.5" cy="1038.0" r="1.2"/><circle cx="1194.7" cy="1027.8" r="1.2"/><circle cx="1195.0" cy="1027.6" r="1.2"/><circle cx="1195.2" cy="1035.1" r="1.2"/><circle cx="1195.4" cy="1046.0" r="1.2"/><circle cx="1195.6" cy="1030.0" r="1.2"/><circle cx="1195.8" cy="1034.9" r="1.2"/><circle cx="1196.0" cy="1038.5" r="1.2"/><circle cx="1196.3" cy="1031.5" r="1.2"/><circle cx="1196.5" cy="1032.0" r="1.2"/><circle cx="1196.7" cy="1036.0" r="1.2"/><circle cx="1196.9" cy="1027.4" r="1.2"/><circle cx="1197.1" cy="1039.0" r="1.2"/><circle cx="1197.4" cy="1029.3" r="1.2"/><circle cx="1197.6" cy="1031.4" r="1.2"/><circle cx="1197.8" cy="1031.6" r="1.2"/><circle cx="1211.3" cy="1065.8" r="1.2"/><circle cx="1211.5" cy="1067.7" r="1.2"/><circle cx="1211.7" cy="1068.0" r="1.2"/><circle cx="1211.9" cy="1041.6" r="1.2"/><circle cx="1212.1" cy="1045.4" r="1.2"/><circle cx="1212.3" cy="1059.2" r="1.2"/><circle cx="1212.6" cy="1056.7" r="1.2"/><circle cx="1212.8" cy="1055.0" r="1.2"/><circle cx="1213.0" cy="1055.4" r="1.2"/><circle cx="1213.2" cy="1044.5" r="1.2"/><circle cx="1213.4" cy="1054.7" r="1.2"/><circle cx="1213.6" cy="1050.6" r="1.2"/><circle cx="1213.9" cy="1053.4" r="1.2"/><circle cx="1214.1" cy="1042.6" r="1.2"/><circle cx="1214.3" cy="1041.6" r="1.2"/><circle cx="1214.5" cy="1048.7" r="1.2"/><circle cx="1214.7" cy="1042.4" r="1.2"/><circle cx="1215.0" cy="1047.3" r="1.2"/><circle cx="1215.2" cy="1041.3" r="1.2"/><circle cx="1215.4" cy="1042.9" r="1.2"/><circle cx="1215.6" cy="1037.7" r="1.2"/><circle cx="1215.8" cy="1040.9" r="1.2"/><circle cx="1216.0" cy="1028.3" r="1.2"/><circle cx="1216.3" cy="1047.6" r="1.2"/><circle cx="1216.5" cy="1022.7" r="1.2"/><circle cx="1216.7" cy="1043.9" r="1.2"/><circle cx="1216.9" cy="1034.3" r="1.2"/><circle cx="1217.1" cy="1024.6" r="1.2"/><circle cx="1217.3" cy="1036.0" r="1.2"/><circle cx="1217.6" cy="1051.2" r="1.2"/><circle cx="1217.8" cy="1032.3" r="1.2"/><circle cx="1218.0" cy="1038.7" r="1.2"/><circle cx="1218.2" cy="1024.1" r="1.2"/><circle cx="1218.4" cy="1017.0" r="1.2"/><circle cx="1218.6" cy="1038.8" r="1.2"/><circle cx="1218.9" cy="1041.9" r="1.2"/><circle cx="1220.6" cy="1060.8" r="1.2"/><circle cx="1220.8" cy="1049.9" r="1.2"/><circle cx="1221.0" cy="1058.9" r="1.2"/><circle cx="1221.3" cy="1051.6" r="1.2"/><circle cx="1221.5" cy="1053.5" r="1.2"/><circle cx="1221.7" cy="1053.9" r="1.2"/><circle cx="1221.9" cy="1054.7" r="1.2"/><circle cx="1222.1" cy="1047.9" r="1.2"/><circle cx="1222.3" cy="1042.6" r="1.2"/><circle cx="1222.6" cy="1040.6" r="1.2"/><circle cx="1222.8" cy="1054.2" r="1.2"/><circle cx="1223.0" cy="1049.3" r="1.2"/><circle cx="1223.2" cy="1049.5" r="1.2"/><circle cx="1223.4" cy="1041.7" r="1.2"/><circle cx="1223.6" cy="1050.1" r="1.2"/><circle cx="1223.9" cy="1056.8" r="1.2"/><circle cx="1224.1" cy="1039.8" r="1.2"/><circle cx="1224.3" cy="1051.0" r="1.2"/><circle cx="1224.5" cy="1051.2" r="1.2"/><circle cx="1224.7" cy="1039.7" r="1.2"/><circle cx="1224.9" cy="1038.8" r="1.2"/><circle cx="1225.2" cy="1043.5" r="1.2"/><circle cx="1225.4" cy="1034.4" r="1.2"/><circle cx="1225.6" cy="1048.8" r="1.2"/><circle cx="1225.8" cy="1040.9" r="1.2"/><circle cx="1226.0" cy="1041.6" r="1.2"/><circle cx="1226.2" cy="1040.2" r="1.2"/><circle cx="1226.5" cy="1034.7" r="1.2"/><circle cx="1226.7" cy="1024.7" r="1.2"/><circle cx="1226.9" cy="1030.7" r="1.2"/><circle cx="1227.1" cy="1038.5" r="1.2"/><circle cx="1227.3" cy="1029.1" r="1.2"/><circle cx="1227.6" cy="1045.7" r="1.2"/><circle cx="1227.8" cy="1039.7" r="1.2"/><circle cx="1228.0" cy="1045.1" r="1.2"/><circle cx="1228.2" cy="1040.5" r="1.2"/><circle cx="1229.9" cy="1057.1" r="1.2"/><circle cx="1230.2" cy="1037.0" r="1.2"/><circle cx="1230.4" cy="1052.2" r="1.2"/><circle cx="1230.6" cy="1042.4" r="1.2"/><circle cx="1230.8" cy="1045.8" r="1.2"/><circle cx="1231.0" cy="1052.8" r="1.2"/><circle cx="1231.2" cy="1047.1" r="1.2"/><circle cx="1231.5" cy="1053.0" r="1.2"/><circle cx="1231.7" cy="1051.8" r="1.2"/><circle cx="1231.9" cy="1038.6" r="1.2"/><circle cx="1232.1" cy="1036.3" r="1.2"/><circle cx="1232.3" cy="1043.7" r="1.2"/><circle cx="1232.6" cy="1050.1" r="1.2"/><circle cx="1232.8" cy="1045.4" r="1.2"/><circle cx="1233.0" cy="1035.9" r="1.2"/><circle cx="1233.2" cy="1036.2" r="1.2"/><circle cx="1233.4" cy="1040.7" r="1.2"/><circle cx="1233.6" cy="1058.3" r="1.2"/><circle cx="1233.9" cy="1054.6" r="1.2"/><circle cx="1234.1" cy="1043.1" r="1.2"/><circle cx="1234.3" cy="1046.1" r="1.2"/><circle cx="1234.5" cy="1041.0" r="1.2"/><circle cx="1234.7" cy="1040.0" r="1.2"/><circle cx="1234.9" cy="1029.3" r="1.2"/><circle cx="1235.2" cy="1044.9" r="1.2"/><circle cx="1235.4" cy="1042.2" r="1.2"/><circle cx="1235.6" cy="1035.5" r="1.2"/><circle cx="1235.8" cy="1030.5" r="1.2"/><circle cx="1236.0" cy="1038.2" r="1.2"/><circle cx="1236.2" cy="1045.4" r="1.2"/><circle cx="1236.5" cy="1032.2" r="1.2"/><circle cx="1236.7" cy="1034.4" r="1.2"/><circle cx="1236.9" cy="1047.3" r="1.2"/><circle cx="1237.1" cy="1030.1" r="1.2"/><circle cx="1237.3" cy="1030.4" r="1.2"/><circle cx="1237.5" cy="1023.0" r="1.2"/><circle cx="1244.1" cy="1061.4" r="1.2"/><circle cx="1244.3" cy="1063.8" r="1.2"/><circle cx="1244.5" cy="1071.2" r="1.2"/><circle cx="1244.7" cy="1055.6" r="1.2"/><circle cx="1244.9" cy="1060.1" r="1.2"/><circle cx="1245.2" cy="1047.7" r="1.2"/><circle cx="1245.4" cy="1066.3" r="1.2"/><circle cx="1245.6" cy="1059.3" r="1.2"/><circle cx="1245.8" cy="1056.0" r="1.2"/><circle cx="1246.0" cy="1049.8" r="1.2"/><circle cx="1246.2" cy="1050.3" r="1.2"/><circle cx="1246.5" cy="1069.8" r="1.2"/><circle cx="1246.7" cy="1067.0" r="1.2"/><circle cx="1246.9" cy="1056.3" r="1.2"/><circle cx="1247.1" cy="1040.4" r="1.2"/><circle cx="1247.3" cy="1038.7" r="1.2"/><circle cx="1247.5" cy="1051.6" r="1.2"/><circle cx="1247.8" cy="1048.3" r="1.2"/><circle cx="1248.0" cy="1014.6" r="1.2"/><circle cx="1248.2" cy="1043.9" r="1.2"/><circle cx="1248.4" cy="1037.8" r="1.2"/><circle cx="1248.6" cy="1046.6" r="1.2"/><circle cx="1248.8" cy="1033.3" r="1.2"/><circle cx="1249.1" cy="1048.8" r="1.2"/><circle cx="1249.3" cy="1049.5" r="1.2"/><circle cx="1249.5" cy="1038.1" r="1.2"/><circle cx="1249.7" cy="1043.2" r="1.2"/><circle cx="1249.9" cy="1035.5" r="1.2"/><circle cx="1250.2" cy="1029.7" r="1.2"/><circle cx="1250.4" cy="1031.5" r="1.2"/><circle cx="1250.6" cy="1040.3" r="1.2"/><circle cx="1250.8" cy="1023.7" r="1.2"/><circle cx="1251.0" cy="1039.8" r="1.2"/><circle cx="1251.2" cy="1042.2" r="1.2"/><circle cx="1251.5" cy="1036.3" r="1.2"/><circle cx="1251.7" cy="1042.8" r="1.2"/><circle cx="1253.4" cy="1046.3" r="1.2"/><circle cx="1253.6" cy="1059.7" r="1.2"/><circle cx="1253.8" cy="1044.6" r="1.2"/><circle cx="1254.1" cy="1043.4" r="1.2"/><circle cx="1254.3" cy="1054.9" r="1.2"/><circle cx="1254.5" cy="1042.9" r="1.2"/><circle cx="1254.7" cy="1050.4" r="1.2"/><circle cx="1254.9" cy="1047.4" r="1.2"/><circle cx="1255.1" cy="1045.4" r="1.2"/><circle cx="1255.4" cy="1054.5" r="1.2"/><circle cx="1255.6" cy="1055.6" r="1.2"/><circle cx="1255.8" cy="1059.0" r="1.2"/><circle cx="1256.0" cy="1042.4" r="1.2"/><circle cx="1256.2" cy="1059.9" r="1.2"/><circle cx="1256.5" cy="1041.5" r="1.2"/><circle cx="1256.7" cy="1043.7" r="1.2"/><circle cx="1256.9" cy="1044.6" r="1.2"/><circle cx="1257.1" cy="1041.2" r="1.2"/><circle cx="1257.3" cy="1033.1" r="1.2"/><circle cx="1257.5" cy="1027.6" r="1.2"/><circle cx="1257.8" cy="1037.0" r="1.2"/><circle cx="1258.0" cy="1045.2" r="1.2"/><circle cx="1258.2" cy="1030.4" r="1.2"/><circle cx="1258.4" cy="1048.8" r="1.2"/><circle cx="1258.6" cy="1043.6" r="1.2"/><circle cx="1258.8" cy="1029.7" r="1.2"/><circle cx="1259.1" cy="1033.6" r="1.2"/><circle cx="1259.3" cy="1038.8" r="1.2"/><circle cx="1259.5" cy="1036.2" r="1.2"/><circle cx="1259.7" cy="1041.5" r="1.2"/><circle cx="1259.9" cy="1036.7" r="1.2"/><circle cx="1260.1" cy="1032.5" r="1.2"/><circle cx="1260.4" cy="1033.0" r="1.2"/><circle cx="1260.6" cy="1032.7" r="1.2"/><circle cx="1260.8" cy="1037.9" r="1.2"/><circle cx="1261.0" cy="1037.0" r="1.2"/><circle cx="1262.8" cy="1048.7" r="1.2"/><circle cx="1263.0" cy="1061.7" r="1.2"/><circle cx="1263.2" cy="1045.0" r="1.2"/><circle cx="1263.4" cy="1039.7" r="1.2"/><circle cx="1263.6" cy="1037.8" r="1.2"/><circle cx="1263.8" cy="1046.7" r="1.2"/><circle cx="1264.1" cy="1046.8" r="1.2"/><circle cx="1264.3" cy="1055.2" r="1.2"/><circle cx="1264.5" cy="1044.2" r="1.2"/><circle cx="1264.7" cy="1053.1" r="1.2"/><circle cx="1264.9" cy="1044.3" r="1.2"/><circle cx="1265.1" cy="1054.8" r="1.2"/><circle cx="1265.4" cy="1048.6" r="1.2"/><circle cx="1265.6" cy="1007.5" r="1.2"/><circle cx="1265.8" cy="1046.3" r="1.2"/><circle cx="1266.0" cy="1045.9" r="1.2"/><circle cx="1266.2" cy="1035.8" r="1.2"/><circle cx="1266.4" cy="1041.9" r="1.2"/><circle cx="1266.7" cy="1044.8" r="1.2"/><circle cx="1266.9" cy="1039.3" r="1.2"/><circle cx="1267.1" cy="1035.0" r="1.2"/><circle cx="1267.3" cy="1044.3" r="1.2"/><circle cx="1267.5" cy="1037.1" r="1.2"/><circle cx="1267.7" cy="1048.7" r="1.2"/><circle cx="1268.0" cy="1052.4" r="1.2"/><circle cx="1268.2" cy="1042.8" r="1.2"/><circle cx="1268.4" cy="1034.8" r="1.2"/><circle cx="1268.6" cy="1041.8" r="1.2"/><circle cx="1268.8" cy="1042.5" r="1.2"/><circle cx="1269.1" cy="1027.7" r="1.2"/><circle cx="1269.3" cy="1051.6" r="1.2"/><circle cx="1269.5" cy="1033.9" r="1.2"/><circle cx="1269.7" cy="1028.1" r="1.2"/><circle cx="1269.9" cy="1037.1" r="1.2"/><circle cx="1270.1" cy="1034.9" r="1.2"/><circle cx="1270.4" cy="1041.7" r="1.2"/><circle cx="1272.1" cy="1048.9" r="1.2"/><circle cx="1272.3" cy="1055.2" r="1.2"/><circle cx="1272.5" cy="1052.8" r="1.2"/><circle cx="1272.7" cy="1052.3" r="1.2"/><circle cx="1273.0" cy="1049.7" r="1.2"/><circle cx="1273.2" cy="1062.0" r="1.2"/><circle cx="1273.4" cy="1063.3" r="1.2"/><circle cx="1273.6" cy="1058.0" r="1.2"/><circle cx="1273.8" cy="1041.0" r="1.2"/><circle cx="1274.1" cy="1051.3" r="1.2"/><circle cx="1274.3" cy="1051.1" r="1.2"/><circle cx="1274.5" cy="1051.3" r="1.2"/><circle cx="1274.7" cy="1029.6" r="1.2"/><circle cx="1274.9" cy="1044.8" r="1.2"/><circle cx="1275.1" cy="1050.6" r="1.2"/><circle cx="1275.4" cy="1052.5" r="1.2"/><circle cx="1275.6" cy="1042.1" r="1.2"/><circle cx="1275.8" cy="1049.0" r="1.2"/><circle cx="1276.0" cy="1051.9" r="1.2"/><circle cx="1276.2" cy="1047.5" r="1.2"/><circle cx="1276.4" cy="1044.1" r="1.2"/><circle cx="1276.7" cy="1039.3" r="1.2"/><circle cx="1276.9" cy="1041.0" r="1.2"/><circle cx="1277.1" cy="1043.2" r="1.2"/><circle cx="1277.3" cy="1039.5" r="1.2"/><circle cx="1277.5" cy="1051.6" r="1.2"/><circle cx="1277.7" cy="1040.5" r="1.2"/><circle cx="1278.0" cy="1050.3" r="1.2"/><circle cx="1278.2" cy="1029.4" r="1.2"/><circle cx="1278.4" cy="1036.8" r="1.2"/><circle cx="1278.6" cy="1037.9" r="1.2"/><circle cx="1278.8" cy="1043.5" r="1.2"/><circle cx="1279.0" cy="1039.5" r="1.2"/><circle cx="1279.3" cy="1050.3" r="1.2"/><circle cx="1279.5" cy="1040.2" r="1.2"/><circle cx="1279.7" cy="1035.4" r="1.2"/><circle cx="1286.9" cy="1070.9" r="1.2"/><circle cx="1287.1" cy="1065.7" r="1.2"/><circle cx="1287.3" cy="1071.3" r="1.2"/><circle cx="1287.5" cy="1068.3" r="1.2"/><circle cx="1287.7" cy="1059.2" r="1.2"/><circle cx="1288.0" cy="1071.0" r="1.2"/><circle cx="1288.2" cy="1058.1" r="1.2"/><circle cx="1288.4" cy="1063.9" r="1.2"/><circle cx="1288.6" cy="1060.9" r="1.2"/><circle cx="1288.8" cy="1043.1" r="1.2"/><circle cx="1289.0" cy="1051.7" r="1.2"/><circle cx="1289.3" cy="1048.3" r="1.2"/><circle cx="1289.5" cy="1044.9" r="1.2"/><circle cx="1289.7" cy="1051.6" r="1.2"/><circle cx="1289.9" cy="1064.3" r="1.2"/><circle cx="1290.1" cy="1044.9" r="1.2"/><circle cx="1290.3" cy="1053.9" r="1.2"/><circle cx="1290.6" cy="1038.7" r="1.2"/><circle cx="1290.8" cy="1044.2" r="1.2"/><circle cx="1291.0" cy="1056.1" r="1.2"/><circle cx="1291.2" cy="1055.4" r="1.2"/><circle cx="1291.4" cy="1050.7" r="1.2"/><circle cx="1291.7" cy="1052.3" r="1.2"/><circle cx="1291.9" cy="1054.9" r="1.2"/><circle cx="1292.1" cy="1042.7" r="1.2"/><circle cx="1292.3" cy="1051.0" r="1.2"/><circle cx="1292.5" cy="1051.8" r="1.2"/><circle cx="1292.7" cy="1048.2" r="1.2"/><circle cx="1293.0" cy="1049.9" r="1.2"/><circle cx="1293.2" cy="1043.6" r="1.2"/><circle cx="1293.4" cy="1052.3" r="1.2"/><circle cx="1293.6" cy="1041.5" r="1.2"/><circle cx="1293.8" cy="1037.1" r="1.2"/><circle cx="1294.0" cy="1050.2" r="1.2"/><circle cx="1294.3" cy="1045.3" r="1.2"/><circle cx="1294.5" cy="1037.2" r="1.2"/><circle cx="1296.2" cy="1041.4" r="1.2"/><circle cx="1296.4" cy="1060.4" r="1.2"/><circle cx="1296.6" cy="1058.3" r="1.2"/><circle cx="1296.9" cy="1055.9" r="1.2"/><circle cx="1297.1" cy="1049.1" r="1.2"/><circle cx="1297.3" cy="1052.7" r="1.2"/><circle cx="1297.5" cy="1043.1" r="1.2"/><circle cx="1297.7" cy="1045.0" r="1.2"/><circle cx="1298.0" cy="1054.5" r="1.2"/><circle cx="1298.2" cy="1046.9" r="1.2"/><circle cx="1298.4" cy="1030.8" r="1.2"/><circle cx="1298.6" cy="1054.7" r="1.2"/><circle cx="1298.8" cy="1048.2" r="1.2"/><circle cx="1299.0" cy="1057.7" r="1.2"/><circle cx="1299.3" cy="1043.4" r="1.2"/><circle cx="1299.5" cy="1061.2" r="1.2"/><circle cx="1299.7" cy="1039.8" r="1.2"/><circle cx="1299.9" cy="1046.6" r="1.2"/><circle cx="1300.1" cy="1049.0" r="1.2"/><circle cx="1300.3" cy="1032.7" r="1.2"/><circle cx="1300.6" cy="1040.1" r="1.2"/><circle cx="1300.8" cy="1039.2" r="1.2"/><circle cx="1301.0" cy="1038.0" r="1.2"/><circle cx="1301.2" cy="1047.9" r="1.2"/><circle cx="1301.4" cy="1044.3" r="1.2"/><circle cx="1301.6" cy="1047.1" r="1.2"/><circle cx="1301.9" cy="1036.4" r="1.2"/><circle cx="1302.1" cy="1036.8" r="1.2"/><circle cx="1302.3" cy="1048.2" r="1.2"/><circle cx="1302.5" cy="1045.0" r="1.2"/><circle cx="1302.7" cy="1045.5" r="1.2"/><circle cx="1302.9" cy="1026.4" r="1.2"/><circle cx="1303.2" cy="1043.8" r="1.2"/><circle cx="1303.4" cy="1039.5" r="1.2"/><circle cx="1303.6" cy="1045.6" r="1.2"/><circle cx="1303.8" cy="1037.5" r="1.2"/><circle cx="1305.6" cy="1040.5" r="1.2"/><circle cx="1305.8" cy="1052.6" r="1.2"/><circle cx="1306.0" cy="1051.0" r="1.2"/><circle cx="1306.2" cy="1060.4" r="1.2"/><circle cx="1306.4" cy="1054.5" r="1.2"/><circle cx="1306.6" cy="1044.2" r="1.2"/><circle cx="1306.9" cy="1052.0" r="1.2"/><circle cx="1307.1" cy="1047.0" r="1.2"/><circle cx="1307.3" cy="1040.2" r="1.2"/><circle cx="1307.5" cy="1060.7" r="1.2"/><circle cx="1307.7" cy="1051.1" r="1.2"/><circle cx="1307.9" cy="1049.1" r="1.2"/><circle cx="1308.2" cy="1061.0" r="1.2"/><circle cx="1308.4" cy="1056.7" r="1.2"/><circle cx="1308.6" cy="1044.3" r="1.2"/><circle cx="1308.8" cy="1053.5" r="1.2"/><circle cx="1309.0" cy="1053.6" r="1.2"/><circle cx="1309.3" cy="1026.6" r="1.2"/><circle cx="1309.5" cy="1046.5" r="1.2"/><circle cx="1309.7" cy="1041.1" r="1.2"/><circle cx="1309.9" cy="1049.2" r="1.2"/><circle cx="1310.1" cy="1065.9" r="1.2"/><circle cx="1310.3" cy="1039.8" r="1.2"/><circle cx="1310.6" cy="1050.0" r="1.2"/><circle cx="1310.8" cy="1051.7" r="1.2"/><circle cx="1311.0" cy="1047.7" r="1.2"/><circle cx="1311.2" cy="1038.4" r="1.2"/><circle cx="1311.4" cy="1034.4" r="1.2"/><circle cx="1311.6" cy="1045.4" r="1.2"/><circle cx="1311.9" cy="1047.0" r="1.2"/><circle cx="1312.1" cy="1045.6" r="1.2"/><circle cx="1312.3" cy="1038.7" r="1.2"/><circle cx="1312.5" cy="1047.0" r="1.2"/><circle cx="1312.7" cy="1033.8" r="1.2"/><circle cx="1312.9" cy="1034.2" r="1.2"/><circle cx="1313.2" cy="1040.9" r="1.2"/><circle cx="1314.9" cy="1056.1" r="1.2"/><circle cx="1315.1" cy="1049.4" r="1.2"/><circle cx="1315.3" cy="1043.8" r="1.2"/><circle cx="1315.6" cy="1053.0" r="1.2"/><circle cx="1315.8" cy="1052.3" r="1.2"/><circle cx="1316.0" cy="1054.3" r="1.2"/><circle cx="1316.2" cy="1054.3" r="1.2"/><circle cx="1316.4" cy="1045.1" r="1.2"/><circle cx="1316.6" cy="1057.9" r="1.2"/><circle cx="1316.9" cy="1061.0" r="1.2"/><circle cx="1317.1" cy="1051.7" r="1.2"/><circle cx="1317.3" cy="1053.1" r="1.2"/><circle cx="1317.5" cy="1053.6" r="1.2"/><circle cx="1317.7" cy="1039.8" r="1.2"/><circle cx="1317.9" cy="1045.9" r="1.2"/><circle cx="1318.2" cy="1043.8" r="1.2"/><circle cx="1318.4" cy="1054.0" r="1.2"/><circle cx="1318.6" cy="1040.7" r="1.2"/><circle cx="1318.8" cy="1019.6" r="1.2"/><circle cx="1319.0" cy="1025.7" r="1.2"/><circle cx="1319.2" cy="1047.6" r="1.2"/><circle cx="1319.5" cy="1055.8" r="1.2"/><circle cx="1319.7" cy="1044.8" r="1.2"/><circle cx="1319.9" cy="1032.9" r="1.2"/><circle cx="1320.1" cy="1045.6" r="1.2"/><circle cx="1320.3" cy="1060.6" r="1.2"/><circle cx="1320.5" cy="1043.6" r="1.2"/><circle cx="1320.8" cy="1053.0" r="1.2"/><circle cx="1321.0" cy="1048.0" r="1.2"/><circle cx="1321.2" cy="1046.1" r="1.2"/><circle cx="1321.4" cy="1043.5" r="1.2"/><circle cx="1321.6" cy="1038.5" r="1.2"/><circle cx="1321.9" cy="1047.7" r="1.2"/><circle cx="1322.1" cy="1035.9" r="1.2"/><circle cx="1322.3" cy="1042.9" r="1.2"/><circle cx="1322.5" cy="1033.9" r="1.2"/><circle cx="1329.5" cy="1064.3" r="1.2"/><circle cx="1329.7" cy="1069.1" r="1.2"/><circle cx="1329.9" cy="1070.9" r="1.2"/><circle cx="1330.1" cy="1067.3" r="1.2"/><circle cx="1330.3" cy="1060.6" r="1.2"/><circle cx="1330.5" cy="1056.7" r="1.2"/><circle cx="1330.8" cy="1060.6" r="1.2"/><circle cx="1331.0" cy="1058.2" r="1.2"/><circle cx="1331.2" cy="1066.3" r="1.2"/><circle cx="1331.4" cy="1056.5" r="1.2"/><circle cx="1331.6" cy="1059.8" r="1.2"/><circle cx="1331.8" cy="1046.0" r="1.2"/><circle cx="1332.1" cy="1046.5" r="1.2"/><circle cx="1332.3" cy="1050.4" r="1.2"/><circle cx="1332.5" cy="1061.1" r="1.2"/><circle cx="1332.7" cy="1065.4" r="1.2"/><circle cx="1332.9" cy="1056.9" r="1.2"/><circle cx="1333.2" cy="1045.6" r="1.2"/><circle cx="1333.4" cy="1043.2" r="1.2"/><circle cx="1333.6" cy="1044.3" r="1.2"/><circle cx="1333.8" cy="1048.3" r="1.2"/><circle cx="1334.0" cy="1040.2" r="1.2"/><circle cx="1334.2" cy="1046.0" r="1.2"/><circle cx="1334.5" cy="1035.9" r="1.2"/><circle cx="1334.7" cy="1038.4" r="1.2"/><circle cx="1334.9" cy="1045.1" r="1.2"/><circle cx="1335.1" cy="1038.9" r="1.2"/><circle cx="1335.3" cy="1042.0" r="1.2"/><circle cx="1335.5" cy="1037.3" r="1.2"/><circle cx="1335.8" cy="1034.1" r="1.2"/><circle cx="1336.0" cy="1054.0" r="1.2"/><circle cx="1336.2" cy="1049.0" r="1.2"/><circle cx="1336.4" cy="1037.6" r="1.2"/><circle cx="1336.6" cy="1046.0" r="1.2"/><circle cx="1336.8" cy="1053.6" r="1.2"/><circle cx="1337.1" cy="1039.7" r="1.2"/><circle cx="1338.8" cy="1044.3" r="1.2"/><circle cx="1339.0" cy="1050.0" r="1.2"/><circle cx="1339.2" cy="1041.3" r="1.2"/><circle cx="1339.5" cy="1052.9" r="1.2"/><circle cx="1339.7" cy="1056.3" r="1.2"/><circle cx="1339.9" cy="1049.4" r="1.2"/><circle cx="1340.1" cy="1050.1" r="1.2"/><circle cx="1340.3" cy="1045.1" r="1.2"/><circle cx="1340.5" cy="1040.9" r="1.2"/><circle cx="1340.8" cy="1046.1" r="1.2"/><circle cx="1341.0" cy="1038.1" r="1.2"/><circle cx="1341.2" cy="1048.4" r="1.2"/><circle cx="1341.4" cy="1043.3" r="1.2"/><circle cx="1341.6" cy="1043.8" r="1.2"/><circle cx="1341.8" cy="1040.0" r="1.2"/><circle cx="1342.1" cy="1054.2" r="1.2"/><circle cx="1342.3" cy="1042.0" r="1.2"/><circle cx="1342.5" cy="1048.9" r="1.2"/><circle cx="1342.7" cy="1046.1" r="1.2"/><circle cx="1342.9" cy="1050.7" r="1.2"/><circle cx="1343.1" cy="1046.4" r="1.2"/><circle cx="1343.4" cy="1035.9" r="1.2"/><circle cx="1343.6" cy="1043.5" r="1.2"/><circle cx="1343.8" cy="1065.4" r="1.2"/><circle cx="1344.0" cy="1045.3" r="1.2"/><circle cx="1344.2" cy="1037.4" r="1.2"/><circle cx="1344.4" cy="1049.1" r="1.2"/><circle cx="1344.7" cy="1035.2" r="1.2"/><circle cx="1344.9" cy="1034.1" r="1.2"/><circle cx="1345.1" cy="1046.2" r="1.2"/><circle cx="1345.3" cy="1043.9" r="1.2"/><circle cx="1345.5" cy="1038.4" r="1.2"/><circle cx="1345.8" cy="1038.7" r="1.2"/><circle cx="1346.0" cy="1050.5" r="1.2"/><circle cx="1346.2" cy="1035.8" r="1.2"/><circle cx="1346.4" cy="1031.2" r="1.2"/><circle cx="1348.1" cy="1057.5" r="1.2"/><circle cx="1348.4" cy="1052.2" r="1.2"/><circle cx="1348.6" cy="1054.6" r="1.2"/><circle cx="1348.8" cy="1041.6" r="1.2"/><circle cx="1349.0" cy="1049.3" r="1.2"/><circle cx="1349.2" cy="1049.0" r="1.2"/><circle cx="1349.4" cy="1058.3" r="1.2"/><circle cx="1349.7" cy="1061.0" r="1.2"/><circle cx="1349.9" cy="1049.5" r="1.2"/><circle cx="1350.1" cy="1059.4" r="1.2"/><circle cx="1350.3" cy="1048.4" r="1.2"/><circle cx="1350.5" cy="1049.4" r="1.2"/><circle cx="1350.8" cy="1036.3" r="1.2"/><circle cx="1351.0" cy="1046.5" r="1.2"/><circle cx="1351.2" cy="1032.6" r="1.2"/><circle cx="1351.4" cy="1049.4" r="1.2"/><circle cx="1351.6" cy="1045.3" r="1.2"/><circle cx="1351.8" cy="1046.6" r="1.2"/><circle cx="1352.1" cy="1058.1" r="1.2"/><circle cx="1352.3" cy="1043.9" r="1.2"/><circle cx="1352.5" cy="1045.1" r="1.2"/><circle cx="1352.7" cy="1041.3" r="1.2"/><circle cx="1352.9" cy="1045.1" r="1.2"/><circle cx="1353.1" cy="1041.9" r="1.2"/><circle cx="1353.4" cy="1047.1" r="1.2"/><circle cx="1353.6" cy="1020.9" r="1.2"/><circle cx="1353.8" cy="1062.0" r="1.2"/><circle cx="1354.0" cy="1048.6" r="1.2"/><circle cx="1354.2" cy="1038.3" r="1.2"/><circle cx="1354.4" cy="1040.3" r="1.2"/><circle cx="1354.7" cy="1047.3" r="1.2"/><circle cx="1354.9" cy="1037.0" r="1.2"/><circle cx="1355.1" cy="1040.5" r="1.2"/><circle cx="1355.3" cy="1044.5" r="1.2"/><circle cx="1355.5" cy="1050.9" r="1.2"/><circle cx="1355.7" cy="1033.1" r="1.2"/><circle cx="1357.5" cy="1063.3" r="1.2"/><circle cx="1357.7" cy="1062.0" r="1.2"/><circle cx="1357.9" cy="1059.1" r="1.2"/><circle cx="1358.1" cy="1061.1" r="1.2"/><circle cx="1358.4" cy="1041.4" r="1.2"/><circle cx="1358.6" cy="1056.9" r="1.2"/><circle cx="1358.8" cy="1040.1" r="1.2"/><circle cx="1359.0" cy="1059.8" r="1.2"/><circle cx="1359.2" cy="1051.0" r="1.2"/><circle cx="1359.4" cy="1069.4" r="1.2"/><circle cx="1359.7" cy="1054.2" r="1.2"/><circle cx="1359.9" cy="1036.5" r="1.2"/><circle cx="1360.1" cy="1039.3" r="1.2"/><circle cx="1360.3" cy="1050.2" r="1.2"/><circle cx="1360.5" cy="1056.2" r="1.2"/><circle cx="1360.7" cy="1061.0" r="1.2"/><circle cx="1361.0" cy="1051.1" r="1.2"/><circle cx="1361.2" cy="1036.9" r="1.2"/><circle cx="1361.4" cy="1055.3" r="1.2"/><circle cx="1361.6" cy="1039.5" r="1.2"/><circle cx="1361.8" cy="1058.7" r="1.2"/><circle cx="1362.0" cy="1048.7" r="1.2"/><circle cx="1362.3" cy="1055.1" r="1.2"/><circle cx="1362.5" cy="1050.8" r="1.2"/><circle cx="1362.7" cy="1038.5" r="1.2"/><circle cx="1362.9" cy="1049.1" r="1.2"/><circle cx="1363.1" cy="1039.0" r="1.2"/><circle cx="1363.4" cy="1058.6" r="1.2"/><circle cx="1363.6" cy="1037.7" r="1.2"/><circle cx="1363.8" cy="1041.6" r="1.2"/><circle cx="1364.0" cy="1045.4" r="1.2"/><circle cx="1364.2" cy="1039.2" r="1.2"/><circle cx="1364.4" cy="1052.8" r="1.2"/><circle cx="1364.7" cy="1044.6" r="1.2"/><circle cx="1364.9" cy="1052.0" r="1.2"/><circle cx="1365.1" cy="1045.8" r="1.2"/><circle cx="1010.1" cy="953.1" r="1.2"/><circle cx="1010.1" cy="973.5" r="1.2"/><circle cx="758.0" cy="959.4" r="1.2"/><circle cx="655.5" cy="959.4" r="1.2"/><circle cx="687.8" cy="959.4" r="1.2"/>
</g>
<path d="M618.5 692.5V1183.5M726.5 692.5V1183.5M835.5 692.5V1183.5M944.5 692.5V1183.5M1052.5 692.5V1183.5M1161.5 692.5V1183.5M1270.5 692.5V1183.5M1378.5 692.5V1183.5M583.5 692.5H1401.5M583.5 763.5H1401.5M583.5 833.5H1401.5M583.5 903.5H1401.5M583.5 973.5H1401.5M583.5 1043.5H1401.5M583.5 1113.5H1401.5M583.5 1183.5H1401.5" stroke="#b0b0b0" stroke-width="1.11" fill="none"/>
<path d="M618.5 1183.5v4.4M726.5 1183.5v4.4M835.5 1183.5v4.4M944.5 1183.5v4.4M1052.5 1183.5v4.4M1161.5 1183.5v4.4M1270.5 1183.5v4.4M1378.5 1183.5v4.4M583.5 692.5h-4.4M583.5 763.5h-4.4M583.5 833.5h-4.4M583.5 903.5h-4.4M583.5 973.5h-4.4M583.5 1043.5h-4.4M583.5 1113.5h-4.4M583.5 1183.5h-4.4" stroke="#000" stroke-width="1.11" fill="none"/>
<rect x="583.5" y="692.5" width="818.0" height="491.0" fill="none" stroke="#000" stroke-width="1.11"/>
<g font-size="27.78" text-anchor="middle">
<text transform="translate(618.5 1209.9) scale(1 1.045)">0</text>
<text transform="translate(726.5 1209.9) scale(1 1.045)">500</text>
<text transform="translate(835.5 1209.9) scale(1 1.045)" textLength="53.8" lengthAdjust="spacing">1000</text>
<text transform="translate(944.5 1209.9) scale(1 1.045)" textLength="53.8" lengthAdjust="spacing">1500</text>
<text transform="translate(1052.5 1209.9) scale(1 1.045)">2000</text>
<text transform="translate(1161.5 1209.9) scale(1 1.045)">2500</text>
<text transform="translate(1270.5 1209.9) scale(1 1.045)">3000</text>
<text transform="translate(1378.5 1209.9) scale(1 1.045)">3500</text>
</g>
<text x="991.9" y="1242.7" font-size="33.33" text-anchor="middle">Bunch slot (25 ns)</text>
</g>
</svg></body></html>
